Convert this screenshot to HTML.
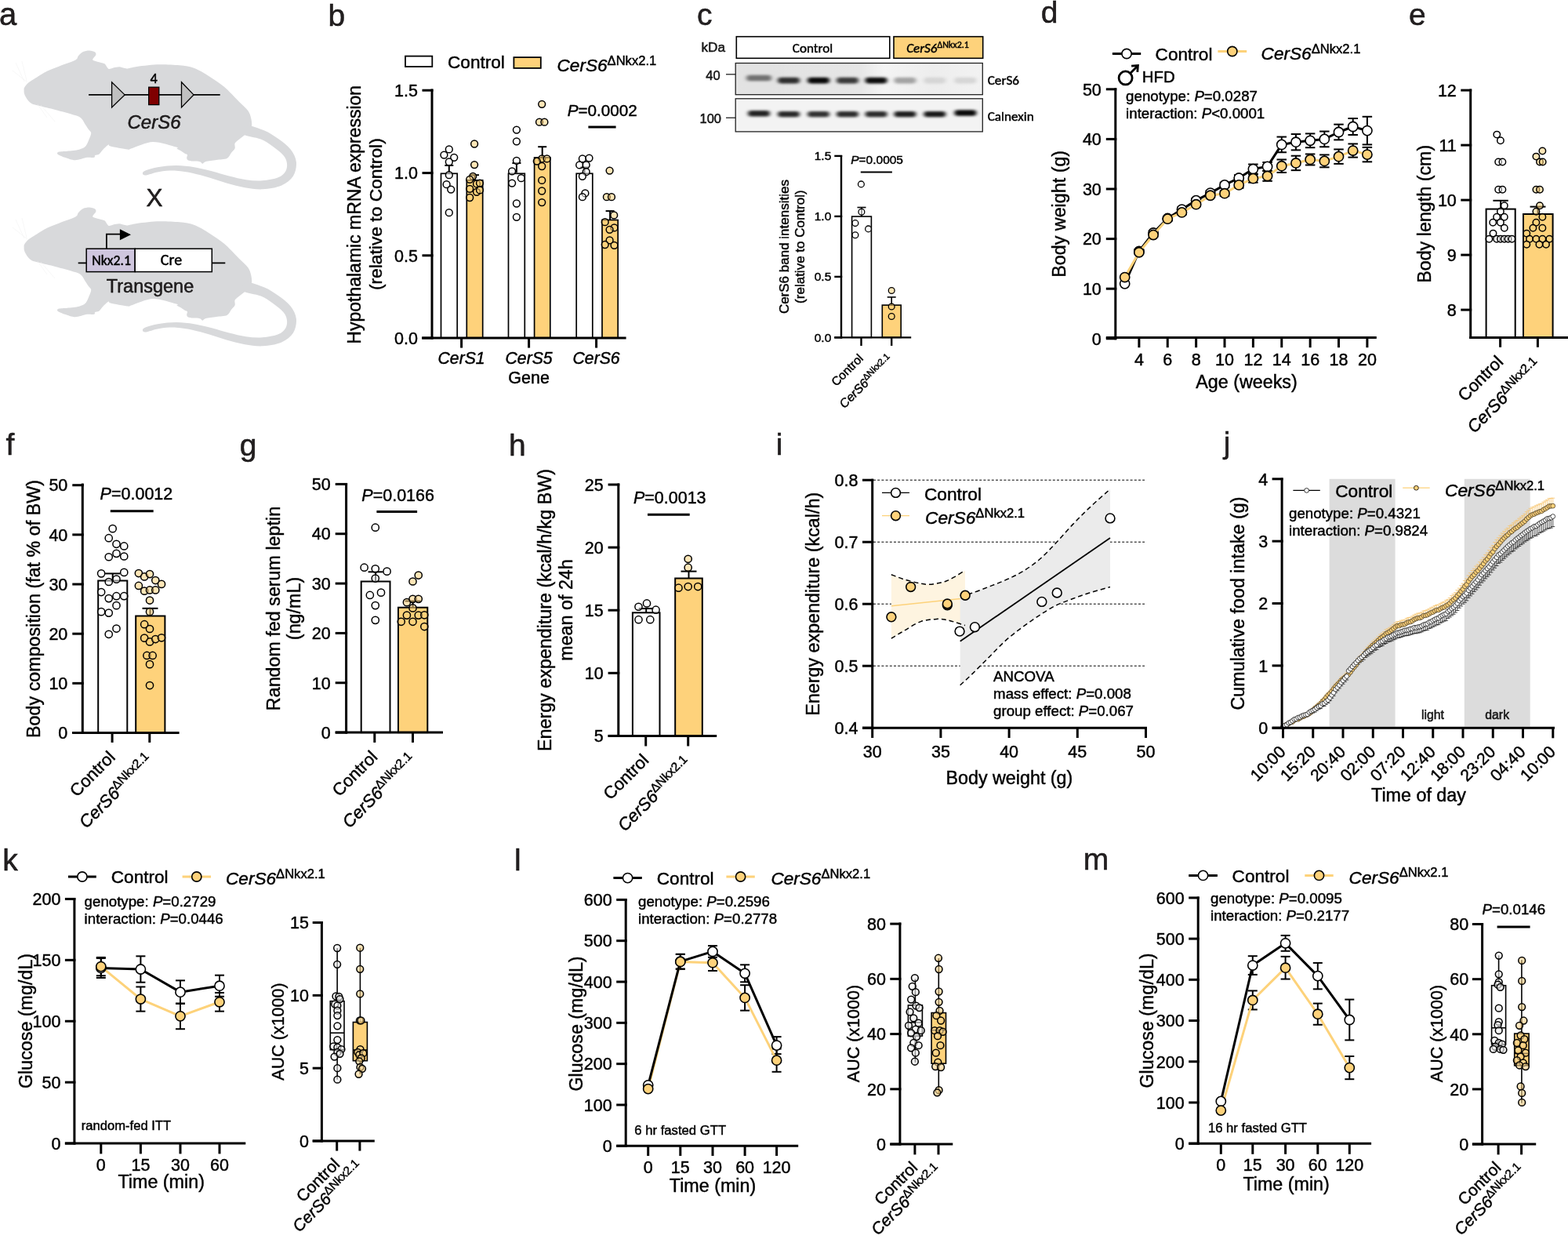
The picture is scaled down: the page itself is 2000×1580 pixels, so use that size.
<!DOCTYPE html>
<html><head><meta charset="utf-8"><title>Figure</title>
<style>
html,body{margin:0;padding:0;background:#fff;}
body{width:2000px;height:1580px;overflow:hidden;}
svg{display:block;font-family:'Liberation Sans', Arial, Helvetica, sans-serif;}
text{stroke:#000;stroke-width:0.45px;}
</style></head>
<body>
<svg width="2000" height="1580" viewBox="0 0 2000 1580">
<rect x="0" y="0" width="2000" height="1580" fill="#fff"/>
<text x="-1" y="32.4" font-size="40" text-anchor="start" fill="#231F20">a</text>
<path d="M30.6,114.7 C30.6,113.48 30.26,113.06 31.1,111.7 C31.94,110.34 34.07,107.43 36.2,105.6 C38.33,103.77 41.66,101.78 45.3,99.5 C48.94,97.22 55.94,92.67 60.5,90.4 C65.06,88.14 70.39,86.44 75.7,84.4 C81.01,82.36 92.26,78.78 95.9,76.8 C99.55,74.82 98.48,72.81 100,71.2 C101.52,69.59 103.89,67.09 106,66.1 C108.11,65.11 111.82,64.52 114.1,64.6 C116.38,64.67 119.98,65.76 121.2,66.6 C122.42,67.44 122.65,68.75 122.2,70.2 C121.75,71.66 117.59,74.94 118.2,76.3 C118.81,77.66 124.02,78.55 126.3,79.3 C128.58,80.05 131.88,80.38 133.4,81.3 C134.92,82.22 135.56,84.41 136.4,85.4 C137.24,86.39 137.78,87.75 139,87.9 C140.22,88.05 142.46,86.81 144.5,86.4 C146.54,86 150.02,85.05 152.6,85.2 C155.18,85.35 158.8,87.37 161.7,87.4 C164.59,87.43 166.16,86.17 171.9,85.4 C177.65,84.64 191.44,82.61 200,82.3 C208.56,81.98 221.8,82.59 229,83.3 C236.2,84 242.3,84.87 248,87 C253.7,89.13 261.3,93.93 267,97.5 C272.7,101.07 280.3,105.95 286,110.8 C291.7,115.64 300.44,125.24 305,129.8 C309.56,134.36 314.12,138.06 316.4,141.2 C318.68,144.33 319.51,147.73 320.2,150.7 C320.89,153.67 321.56,158.41 321,161 C320.44,163.59 317.99,166.2 316.5,168 C315.01,169.8 312.98,171.43 311.1,173 C309.23,174.57 305.74,177 304,178.5 C302.26,180 300.16,181.4 299.5,183 C298.84,184.6 300.29,187.4 299.6,189.2 C298.91,191 296.41,193.08 294.9,195 C293.38,196.92 292.33,200.65 289.5,202 C286.67,203.35 280.05,203.4 276,204 C271.95,204.6 265.12,205.3 262.5,206 C259.88,206.7 259.62,208.67 258.5,208.7 C257.38,208.73 256.83,206.66 255,206.2 C253.17,205.73 248.61,205.9 246.3,205.6 C243.99,205.3 240.81,204.84 239.6,204.2 C238.38,203.55 238.29,202.31 238.2,201.3 C238.11,200.3 239.25,198.25 239,197.5 C238.75,196.75 237.7,197.04 236.5,196.3 C235.3,195.56 232.63,193.63 231,192.6 C229.37,191.56 226.54,190.16 225.6,189.4 C224.66,188.64 229.29,188.76 224.7,187.5 C220.11,186.24 203.5,180.75 195,181 C186.5,181.25 172.86,187.77 168,189.2 C163.14,190.62 166.65,190.91 162.6,190.5 C158.55,190.09 144.65,187.41 141,186.5 C137.35,185.59 139.74,183.77 138.3,184.4 C136.86,185.03 133.2,188.85 131.4,190.7 C129.6,192.54 127.83,195.6 126.3,196.7 C124.77,197.79 122.12,197.38 121.2,198 C120.28,198.62 121.72,200.38 120.2,200.8 C118.69,201.22 114.74,200.28 111.1,200.8 C107.45,201.33 100.15,204.3 95.9,204.3 C91.66,204.3 86.13,201.94 82.8,200.8 C79.47,199.66 74.92,197.76 73.7,196.7 C72.48,195.63 72.89,194.3 74.7,193.7 C76.52,193.1 81.86,193.15 85.8,192.7 C89.74,192.25 97.5,191.61 101,190.7 C104.5,189.78 107.13,188.73 109.1,186.6 C111.06,184.47 113.03,179.08 114.1,176.5 C115.16,173.92 116.35,171.08 116.2,169.4 C116.05,167.72 114.16,166.81 113.1,165.3 C112.03,163.79 110.46,161.42 109.1,159.3 C107.73,157.19 105.98,153.03 104,151.2 C102.02,149.37 100.91,148.78 95.9,147.1 C90.89,145.42 77.42,141.81 70.6,140 C63.77,138.19 54.96,136.2 50.4,135 C45.84,133.8 42.63,133.37 40.2,132 C37.77,130.63 35.57,127.73 34.2,125.9 C32.84,124.07 31.64,121.48 31.1,119.8 C30.56,118.12 30.6,115.92 30.6,114.7Z" fill="#D8D9DB"/>
<path d="M310.37,171.27 C313.55,174.24 326.43,174.96 332.7,177.54 C338.97,180.13 343.27,183.41 348.01,186.78 C352.75,190.15 358.14,194.24 361.13,197.77 C364.12,201.29 365.43,204.46 365.94,207.91 C366.46,211.37 366.05,215.42 364.2,218.49 C362.36,221.55 359.8,224.36 354.87,226.33 C349.95,228.3 341.51,229.82 334.65,230.31 C327.8,230.8 320.82,230.21 313.74,229.26 C306.67,228.3 299.47,226.42 292.21,224.61 C284.95,222.79 277.58,220.24 270.17,218.36 C262.75,216.48 255.22,214.52 247.71,213.32 C240.19,212.11 232.61,211.15 225.08,211.1 C217.55,211.05 209.43,211.81 202.52,213.04 C195.61,214.27 186.55,216.74 183.63,218.49 C180.7,220.23 181.66,223.43 184.97,223.51 C188.28,223.59 196.82,219.93 203.48,218.96 C210.14,217.99 217.78,217.38 224.92,217.7 C232.05,218.02 239.14,219.36 246.29,220.88 C253.45,222.41 260.58,224.69 267.83,226.84 C275.08,228.99 282.38,231.74 289.79,233.79 C297.19,235.84 304.66,237.9 312.26,239.14 C319.85,240.39 327.54,241.73 335.35,241.29 C343.16,240.84 352.69,239.27 359.13,236.47 C365.57,233.68 370.87,229.51 374,224.51 C377.12,219.52 378.44,212.2 377.86,206.49 C377.27,200.77 374.28,195.15 370.47,190.23 C366.66,185.32 360.52,180.98 354.99,177.02 C349.46,173.06 344.19,169.34 337.3,166.46 C330.41,163.58 318.12,158.92 313.63,159.73 C309.14,160.53 307.19,168.3 310.37,171.27Z" fill="#D8D9DB"/>
<line x1="31" y1="104" x2="20" y2="80" stroke="#EEEEEE" stroke-width="0.5"/>
<line x1="34" y1="103" x2="28" y2="78" stroke="#EEEEEE" stroke-width="0.5"/>
<line x1="35" y1="105" x2="16" y2="90" stroke="#EEEEEE" stroke-width="0.5"/>
<line x1="48" y1="133" x2="60" y2="150" stroke="#EEEEEE" stroke-width="0.5"/>
<line x1="52" y1="134" x2="70" y2="155" stroke="#EEEEEE" stroke-width="0.5"/>
<path d="M30.6,314.7 C30.6,313.49 30.26,313.06 31.1,311.7 C31.94,310.33 34.07,307.43 36.2,305.6 C38.33,303.77 41.66,301.78 45.3,299.5 C48.94,297.22 55.94,292.66 60.5,290.4 C65.06,288.13 70.39,286.44 75.7,284.4 C81.01,282.36 92.26,278.78 95.9,276.8 C99.55,274.82 98.48,272.81 100,271.2 C101.52,269.59 103.89,267.09 106,266.1 C108.11,265.11 111.82,264.53 114.1,264.6 C116.38,264.68 119.98,265.76 121.2,266.6 C122.42,267.44 122.65,268.75 122.2,270.2 C121.75,271.65 117.59,274.94 118.2,276.3 C118.81,277.67 124.02,278.55 126.3,279.3 C128.58,280.05 131.88,280.38 133.4,281.3 C134.92,282.22 135.56,284.41 136.4,285.4 C137.24,286.39 137.78,287.75 139,287.9 C140.22,288.05 142.46,286.8 144.5,286.4 C146.54,286 150.02,285.05 152.6,285.2 C155.18,285.35 158.8,287.37 161.7,287.4 C164.59,287.43 166.16,286.16 171.9,285.4 C177.65,284.63 191.44,282.62 200,282.3 C208.56,281.99 221.8,282.6 229,283.3 C236.2,284 242.3,284.87 248,287 C253.7,289.13 261.3,293.93 267,297.5 C272.7,301.07 280.3,305.95 286,310.8 C291.7,315.65 300.44,325.24 305,329.8 C309.56,334.36 314.12,338.06 316.4,341.2 C318.68,344.33 319.51,347.73 320.2,350.7 C320.89,353.67 321.56,358.4 321,361 C320.44,363.6 317.99,366.2 316.5,368 C315.01,369.8 312.98,371.43 311.1,373 C309.23,374.57 305.74,377 304,378.5 C302.26,380 300.16,381.39 299.5,383 C298.84,384.61 300.29,387.4 299.6,389.2 C298.91,391 296.41,393.08 294.9,395 C293.38,396.92 292.33,400.65 289.5,402 C286.67,403.35 280.05,403.4 276,404 C271.95,404.6 265.12,405.3 262.5,406 C259.88,406.7 259.62,408.67 258.5,408.7 C257.38,408.73 256.83,406.66 255,406.2 C253.17,405.74 248.61,405.9 246.3,405.6 C243.99,405.3 240.81,404.84 239.6,404.2 C238.38,403.56 238.29,402.31 238.2,401.3 C238.11,400.3 239.25,398.25 239,397.5 C238.75,396.75 237.7,397.04 236.5,396.3 C235.3,395.56 232.63,393.64 231,392.6 C229.37,391.56 226.54,390.16 225.6,389.4 C224.66,388.63 229.29,388.76 224.7,387.5 C220.11,386.24 203.5,380.75 195,381 C186.5,381.25 172.86,387.77 168,389.2 C163.14,390.62 166.65,390.9 162.6,390.5 C158.55,390.1 144.65,387.42 141,386.5 C137.35,385.58 139.74,383.77 138.3,384.4 C136.86,385.03 133.2,388.85 131.4,390.7 C129.6,392.55 127.83,395.6 126.3,396.7 C124.77,397.8 122.12,397.38 121.2,398 C120.28,398.62 121.72,400.38 120.2,400.8 C118.69,401.22 114.74,400.28 111.1,400.8 C107.45,401.32 100.15,404.3 95.9,404.3 C91.66,404.3 86.13,401.94 82.8,400.8 C79.47,399.66 74.92,397.76 73.7,396.7 C72.48,395.63 72.89,394.3 74.7,393.7 C76.52,393.1 81.86,393.15 85.8,392.7 C89.74,392.25 97.5,391.62 101,390.7 C104.5,389.78 107.13,388.73 109.1,386.6 C111.06,384.47 113.03,379.08 114.1,376.5 C115.16,373.92 116.35,371.08 116.2,369.4 C116.05,367.72 114.16,366.81 113.1,365.3 C112.03,363.79 110.46,361.42 109.1,359.3 C107.73,357.19 105.98,353.03 104,351.2 C102.02,349.37 100.91,348.78 95.9,347.1 C90.89,345.42 77.42,341.81 70.6,340 C63.77,338.19 54.96,336.2 50.4,335 C45.84,333.8 42.63,333.37 40.2,332 C37.77,330.63 35.57,327.73 34.2,325.9 C32.84,324.07 31.64,321.48 31.1,319.8 C30.56,318.12 30.6,315.91 30.6,314.7Z" fill="#D8D9DB"/>
<path d="M310.37,371.27 C313.55,374.24 326.43,374.96 332.7,377.54 C338.97,380.13 343.27,383.41 348.01,386.78 C352.75,390.15 358.14,394.24 361.13,397.77 C364.12,401.29 365.43,404.46 365.94,407.91 C366.46,411.37 366.05,415.42 364.2,418.49 C362.36,421.55 359.8,424.36 354.87,426.33 C349.95,428.3 341.51,429.82 334.65,430.31 C327.8,430.8 320.82,430.21 313.74,429.26 C306.67,428.3 299.47,426.42 292.21,424.61 C284.95,422.79 277.58,420.24 270.17,418.36 C262.75,416.48 255.22,414.52 247.71,413.32 C240.19,412.11 232.61,411.15 225.08,411.1 C217.55,411.05 209.43,411.81 202.52,413.04 C195.61,414.27 186.55,416.74 183.63,418.49 C180.7,420.23 181.66,423.43 184.97,423.51 C188.28,423.59 196.82,419.93 203.48,418.96 C210.14,417.99 217.78,417.38 224.92,417.7 C232.05,418.02 239.14,419.36 246.29,420.88 C253.45,422.41 260.58,424.69 267.83,426.84 C275.08,428.99 282.38,431.74 289.79,433.79 C297.19,435.84 304.66,437.9 312.26,439.14 C319.85,440.39 327.54,441.73 335.35,441.29 C343.16,440.84 352.69,439.27 359.13,436.47 C365.57,433.68 370.87,429.51 374,424.51 C377.12,419.52 378.44,412.2 377.86,406.49 C377.27,400.77 374.28,395.15 370.47,390.23 C366.66,385.32 360.52,380.98 354.99,377.02 C349.46,373.06 344.19,369.34 337.3,366.46 C330.41,363.58 318.12,358.92 313.63,359.73 C309.14,360.53 307.19,368.3 310.37,371.27Z" fill="#D8D9DB"/>
<line x1="31" y1="304" x2="20" y2="280" stroke="#EEEEEE" stroke-width="0.5"/>
<line x1="34" y1="303" x2="28" y2="278" stroke="#EEEEEE" stroke-width="0.5"/>
<line x1="35" y1="305" x2="16" y2="290" stroke="#EEEEEE" stroke-width="0.5"/>
<line x1="48" y1="333" x2="60" y2="350" stroke="#EEEEEE" stroke-width="0.5"/>
<line x1="52" y1="334" x2="70" y2="355" stroke="#EEEEEE" stroke-width="0.5"/>
<line x1="113.1" y1="120.9" x2="280.7" y2="120.9" stroke="#000" stroke-width="1.6"/>
<polygon points="142.6,104.7 142.6,137 159.1,120.9" fill="#C0C0C0" stroke="#000" stroke-width="1.3"/>
<polygon points="231.5,104.7 231.5,137 247,120.9" fill="#C0C0C0" stroke="#000" stroke-width="1.3"/>
<rect x="189.7" y="111.2" width="13.1" height="22.4" fill="#7F0000" stroke="#000" stroke-width="1.3"/>
<text x="196.2" y="106.2" font-size="18.5" text-anchor="middle" fill="#000" font-family="Carlito, 'Liberation Sans', sans-serif">4</text>
<text x="196.5" y="164" font-size="24" text-anchor="middle" fill="#231F20" font-style="italic">CerS6</text>
<text x="197" y="262.6" font-size="31.5" text-anchor="middle" fill="#231F20">X</text>
<line x1="99.7" y1="335.4" x2="110.2" y2="335.4" stroke="#000" stroke-width="1.8"/>
<line x1="270.3" y1="335.4" x2="287.3" y2="335.4" stroke="#000" stroke-width="1.8"/>
<rect x="110.2" y="317.2" width="62" height="29.4" fill="#CFC6DE" stroke="#000" stroke-width="1.5"/>
<rect x="172.2" y="317.2" width="98.1" height="29.4" fill="#FFFFFF" stroke="#000" stroke-width="1.5"/>
<polyline points="135.9,317.2 135.9,298.7 154,298.7" fill="none" stroke="#000" stroke-width="1.8"/>
<polygon points="152.9,292.2 167,299.2 152.9,306.2" fill="#000"/>
<text x="142.2" y="338.3" font-size="17.8" text-anchor="middle" fill="#000" font-family="Carlito, 'Liberation Sans', sans-serif">Nkx2.1</text>
<text x="218.5" y="338.3" font-size="20" text-anchor="middle" fill="#000" font-family="Carlito, 'Liberation Sans', sans-serif">Cre</text>
<text x="191.5" y="373.2" font-size="23.5" text-anchor="middle" fill="#231F20">Transgene</text>
<text x="418.5" y="32.6" font-size="39" text-anchor="start" fill="#231F20">b</text>
<rect x="517" y="71.6" width="34.3" height="13.4" fill="#fff" stroke="#000" stroke-width="1.8"/>
<text x="571" y="86.6" font-size="22.6" text-anchor="start" fill="#000">Control</text>
<rect x="655.4" y="73.1" width="34.4" height="13.8" fill="#FED27B" stroke="#000" stroke-width="1.8"/>
<text x="710.5" y="90.5" font-size="22.6"><tspan font-style="italic">CerS6</tspan><tspan font-size="16.6" dy="-8">&#916;Nkx2.1</tspan></text>
<rect x="562.5" y="221.3" width="20.7" height="209.7" fill="#fff" stroke="#000" stroke-width="1.7"/>
<rect x="595.3" y="229.8" width="20.4" height="201.2" fill="#FED27B" stroke="#000" stroke-width="1.7"/>
<rect x="648.5" y="221.3" width="20.8" height="209.7" fill="#fff" stroke="#000" stroke-width="1.7"/>
<rect x="681.6" y="201" width="20.2" height="230" fill="#FED27B" stroke="#000" stroke-width="1.7"/>
<rect x="735.2" y="221.3" width="20.6" height="209.7" fill="#fff" stroke="#000" stroke-width="1.7"/>
<rect x="768" y="280.5" width="20.2" height="150.5" fill="#FED27B" stroke="#000" stroke-width="1.7"/>
<line x1="572.8" y1="220.33" x2="572.8" y2="210.9" stroke="#000" stroke-width="2"/>
<line x1="567.3" y1="210.9" x2="578.3" y2="210.9" stroke="#000" stroke-width="2"/>
<line x1="605.5" y1="229.6" x2="605.5" y2="223.2" stroke="#000" stroke-width="2"/>
<line x1="600" y1="223.2" x2="611" y2="223.2" stroke="#000" stroke-width="2"/>
<line x1="658.9" y1="220.33" x2="658.9" y2="208" stroke="#000" stroke-width="2"/>
<line x1="653.4" y1="208" x2="664.4" y2="208" stroke="#000" stroke-width="2"/>
<line x1="691.7" y1="200.8" x2="691.7" y2="187.2" stroke="#000" stroke-width="2"/>
<line x1="686.2" y1="187.2" x2="697.2" y2="187.2" stroke="#000" stroke-width="2"/>
<line x1="745.5" y1="220.33" x2="745.5" y2="213.5" stroke="#000" stroke-width="2"/>
<line x1="740" y1="213.5" x2="751" y2="213.5" stroke="#000" stroke-width="2"/>
<line x1="778.1" y1="280" x2="778.1" y2="269.1" stroke="#000" stroke-width="2"/>
<line x1="772.6" y1="269.1" x2="783.6" y2="269.1" stroke="#000" stroke-width="2"/>
<circle cx="572.8" cy="190.4" r="4.4" fill="#fff" stroke="#000" stroke-width="1.5" fill-opacity="0.5"/>
<circle cx="566.4" cy="197.6" r="4.4" fill="#fff" stroke="#000" stroke-width="1.5" fill-opacity="0.5"/>
<circle cx="579.2" cy="200.8" r="4.4" fill="#fff" stroke="#000" stroke-width="1.5" fill-opacity="0.5"/>
<circle cx="572.8" cy="206.4" r="4.4" fill="#fff" stroke="#000" stroke-width="1.5" fill-opacity="0.5"/>
<circle cx="572.8" cy="223.2" r="4.4" fill="#fff" stroke="#000" stroke-width="1.5" fill-opacity="0.5"/>
<circle cx="569.6" cy="235.2" r="4.4" fill="#fff" stroke="#000" stroke-width="1.5" fill-opacity="0.5"/>
<circle cx="575.2" cy="241.6" r="4.4" fill="#fff" stroke="#000" stroke-width="1.5" fill-opacity="0.5"/>
<circle cx="572.8" cy="271.2" r="4.4" fill="#fff" stroke="#000" stroke-width="1.5" fill-opacity="0.5"/>
<circle cx="605.1" cy="183.5" r="4.4" fill="#FED27B" stroke="#000" stroke-width="1.5" fill-opacity="0.55"/>
<circle cx="605.1" cy="210.1" r="4.4" fill="#FED27B" stroke="#000" stroke-width="1.5" fill-opacity="0.55"/>
<circle cx="603.2" cy="224.8" r="4.4" fill="#FED27B" stroke="#000" stroke-width="1.5" fill-opacity="0.55"/>
<circle cx="599.2" cy="228.8" r="4.4" fill="#FED27B" stroke="#000" stroke-width="1.5" fill-opacity="0.55"/>
<circle cx="608" cy="234.4" r="4.4" fill="#FED27B" stroke="#000" stroke-width="1.5" fill-opacity="0.55"/>
<circle cx="612" cy="233.6" r="4.4" fill="#FED27B" stroke="#000" stroke-width="1.5" fill-opacity="0.55"/>
<circle cx="599.2" cy="240.8" r="4.4" fill="#FED27B" stroke="#000" stroke-width="1.5" fill-opacity="0.55"/>
<circle cx="608" cy="244.8" r="4.4" fill="#FED27B" stroke="#000" stroke-width="1.5" fill-opacity="0.55"/>
<circle cx="612" cy="242.4" r="4.4" fill="#FED27B" stroke="#000" stroke-width="1.5" fill-opacity="0.55"/>
<circle cx="599.2" cy="252" r="4.4" fill="#FED27B" stroke="#000" stroke-width="1.5" fill-opacity="0.55"/>
<circle cx="658.9" cy="165.6" r="4.4" fill="#fff" stroke="#000" stroke-width="1.5" fill-opacity="0.5"/>
<circle cx="658.9" cy="180.3" r="4.4" fill="#fff" stroke="#000" stroke-width="1.5" fill-opacity="0.5"/>
<circle cx="658.9" cy="204.8" r="4.4" fill="#fff" stroke="#000" stroke-width="1.5" fill-opacity="0.5"/>
<circle cx="653.1" cy="218.4" r="4.4" fill="#fff" stroke="#000" stroke-width="1.5" fill-opacity="0.5"/>
<circle cx="664.8" cy="227.2" r="4.4" fill="#fff" stroke="#000" stroke-width="1.5" fill-opacity="0.5"/>
<circle cx="653.1" cy="233.6" r="4.4" fill="#fff" stroke="#000" stroke-width="1.5" fill-opacity="0.5"/>
<circle cx="658.9" cy="259.5" r="4.4" fill="#fff" stroke="#000" stroke-width="1.5" fill-opacity="0.5"/>
<circle cx="658.9" cy="276.8" r="4.4" fill="#fff" stroke="#000" stroke-width="1.5" fill-opacity="0.5"/>
<circle cx="691.2" cy="132.8" r="4.4" fill="#FED27B" stroke="#000" stroke-width="1.5" fill-opacity="0.55"/>
<circle cx="688" cy="155.7" r="4.4" fill="#FED27B" stroke="#000" stroke-width="1.5" fill-opacity="0.55"/>
<circle cx="694.4" cy="155.7" r="4.4" fill="#FED27B" stroke="#000" stroke-width="1.5" fill-opacity="0.55"/>
<circle cx="691.2" cy="202.4" r="4.4" fill="#FED27B" stroke="#000" stroke-width="1.5" fill-opacity="0.55"/>
<circle cx="684.8" cy="205.6" r="4.4" fill="#FED27B" stroke="#000" stroke-width="1.5" fill-opacity="0.55"/>
<circle cx="697.6" cy="202.4" r="4.4" fill="#FED27B" stroke="#000" stroke-width="1.5" fill-opacity="0.55"/>
<circle cx="691.2" cy="212" r="4.4" fill="#FED27B" stroke="#000" stroke-width="1.5" fill-opacity="0.55"/>
<circle cx="691.2" cy="229.9" r="4.4" fill="#FED27B" stroke="#000" stroke-width="1.5" fill-opacity="0.55"/>
<circle cx="691.2" cy="243.5" r="4.4" fill="#FED27B" stroke="#000" stroke-width="1.5" fill-opacity="0.55"/>
<circle cx="691.2" cy="258.1" r="4.4" fill="#FED27B" stroke="#000" stroke-width="1.5" fill-opacity="0.55"/>
<circle cx="742.9" cy="202.4" r="4.4" fill="#fff" stroke="#000" stroke-width="1.5" fill-opacity="0.5"/>
<circle cx="751.5" cy="201.6" r="4.4" fill="#fff" stroke="#000" stroke-width="1.5" fill-opacity="0.5"/>
<circle cx="739.2" cy="210.4" r="4.4" fill="#fff" stroke="#000" stroke-width="1.5" fill-opacity="0.5"/>
<circle cx="747.7" cy="210.4" r="4.4" fill="#fff" stroke="#000" stroke-width="1.5" fill-opacity="0.5"/>
<circle cx="747.7" cy="219.2" r="4.4" fill="#fff" stroke="#000" stroke-width="1.5" fill-opacity="0.5"/>
<circle cx="742.9" cy="224.8" r="4.4" fill="#fff" stroke="#000" stroke-width="1.5" fill-opacity="0.5"/>
<circle cx="746.4" cy="246.4" r="4.4" fill="#fff" stroke="#000" stroke-width="1.5" fill-opacity="0.5"/>
<circle cx="742.9" cy="251.2" r="4.4" fill="#fff" stroke="#000" stroke-width="1.5" fill-opacity="0.5"/>
<circle cx="777.6" cy="217.6" r="4.4" fill="#FED27B" stroke="#000" stroke-width="1.5" fill-opacity="0.55"/>
<circle cx="773.9" cy="251.2" r="4.4" fill="#FED27B" stroke="#000" stroke-width="1.5" fill-opacity="0.55"/>
<circle cx="780" cy="251.2" r="4.4" fill="#FED27B" stroke="#000" stroke-width="1.5" fill-opacity="0.55"/>
<circle cx="783.2" cy="274.4" r="4.4" fill="#FED27B" stroke="#000" stroke-width="1.5" fill-opacity="0.55"/>
<circle cx="771.7" cy="283.2" r="4.4" fill="#FED27B" stroke="#000" stroke-width="1.5" fill-opacity="0.55"/>
<circle cx="783.5" cy="290.4" r="4.4" fill="#FED27B" stroke="#000" stroke-width="1.5" fill-opacity="0.55"/>
<circle cx="777.6" cy="292.8" r="4.4" fill="#FED27B" stroke="#000" stroke-width="1.5" fill-opacity="0.55"/>
<circle cx="777.6" cy="306.4" r="4.4" fill="#FED27B" stroke="#000" stroke-width="1.5" fill-opacity="0.55"/>
<circle cx="771.7" cy="312" r="4.4" fill="#FED27B" stroke="#000" stroke-width="1.5" fill-opacity="0.55"/>
<circle cx="783.5" cy="312.8" r="4.4" fill="#FED27B" stroke="#000" stroke-width="1.5" fill-opacity="0.55"/>
<line x1="551" y1="432.5" x2="551" y2="113.5" stroke="#000" stroke-width="3"/>
<line x1="538.5" y1="115.2" x2="552.5" y2="115.2" stroke="#000" stroke-width="3"/>
<text x="533" y="122.94" font-size="21.5" text-anchor="end" fill="#000">1.5</text>
<line x1="538.5" y1="220.6" x2="552.5" y2="220.6" stroke="#000" stroke-width="3"/>
<text x="533" y="228.34" font-size="21.5" text-anchor="end" fill="#000">1.0</text>
<line x1="538.5" y1="325.8" x2="552.5" y2="325.8" stroke="#000" stroke-width="3"/>
<text x="533" y="333.54" font-size="21.5" text-anchor="end" fill="#000">0.5</text>
<line x1="538.5" y1="431" x2="552.5" y2="431" stroke="#000" stroke-width="3"/>
<text x="533" y="438.74" font-size="21.5" text-anchor="end" fill="#000">0.0</text>
<line x1="538" y1="431" x2="798.6" y2="431" stroke="#000" stroke-width="3"/>
<line x1="588.6" y1="431" x2="588.6" y2="443.6" stroke="#000" stroke-width="3"/>
<line x1="674.6" y1="431" x2="674.6" y2="443.6" stroke="#000" stroke-width="3"/>
<line x1="760.6" y1="431" x2="760.6" y2="443.6" stroke="#000" stroke-width="3"/>
<text x="588.6" y="464.4" font-size="21.2" text-anchor="middle" fill="#000" font-style="italic">CerS1</text>
<text x="674.6" y="464.4" font-size="21.2" text-anchor="middle" fill="#000" font-style="italic">CerS5</text>
<text x="760.6" y="464.4" font-size="21.2" text-anchor="middle" fill="#000" font-style="italic">CerS6</text>
<text x="674.6" y="489" font-size="21.5" text-anchor="middle" fill="#000">Gene</text>
<text transform="translate(459.9,273.8) rotate(-90)" font-size="23" text-anchor="middle" fill="#000">Hypothalamic mRNA expression</text>
<text transform="translate(486.5,273.2) rotate(-90)" font-size="22.8" text-anchor="middle" fill="#000">(relative to Control)</text>
<text x="723.7" y="147.5" font-size="20.7" text-anchor="start" fill="#000"><tspan font-style="italic">P</tspan>=0.0002</text>
<line x1="750.4" y1="161.9" x2="785.6" y2="161.9" stroke="#000" stroke-width="3"/>
<text x="889" y="32.2" font-size="39" text-anchor="start" fill="#231F20">c</text>
<text x="894.5" y="66" font-size="17.2" text-anchor="start" fill="#222">kDa</text>
<rect x="939.3" y="46.7" width="195.5" height="27.6" fill="#fff" stroke="#000" stroke-width="1.6"/>
<rect x="1140" y="46.7" width="113.7" height="27.6" fill="#FED27B" stroke="#000" stroke-width="1.6"/>
<text x="1036.5" y="66.7" font-size="17.1" text-anchor="middle" fill="#000" font-family="Carlito, 'Liberation Sans', sans-serif">Control</text>
<text x="1196" y="66.7" font-size="17.1" text-anchor="middle" font-family="Carlito, 'Liberation Sans', sans-serif"><tspan font-style="italic">CerS6</tspan><tspan font-size="12" dy="-5.5">&#916;Nkx2.1</tspan></text>
<defs><filter id="bl1" x="-50%" y="-200%" width="200%" height="500%"><feGaussianBlur stdDeviation="2.6 1.5"/></filter><filter id="bl2" x="-50%" y="-50%" width="200%" height="200%"><feGaussianBlur stdDeviation="6"/></filter><linearGradient id="bg1" x1="0" y1="0" x2="1" y2="0"><stop offset="0" stop-color="#E2E2E2"/><stop offset="0.5" stop-color="#E6E6E6"/><stop offset="0.6" stop-color="#F4F4F4"/><stop offset="0.8" stop-color="#EDEDED"/><stop offset="1" stop-color="#F2F2F2"/></linearGradient><clipPath id="cb1"><rect x="938.2" y="80.5" width="315.1" height="40.2"/></clipPath><clipPath id="cb2"><rect x="938.2" y="125.8" width="315.1" height="42.1"/></clipPath></defs>
<rect x="938.2" y="80.5" width="315.1" height="40.2" fill="url(#bg1)" stroke="none" stroke-width="0"/>
<rect x="938.2" y="125.8" width="315.1" height="42.1" fill="#F3F3F3" stroke="none" stroke-width="0"/>
<g clip-path="url(#cb1)">
<rect x="938" y="78" width="60" height="45" fill="#E2E2E2" filter="url(#bl2)"/>
<rect x="952" y="95.7" width="32" height="7.6" rx="3.8" fill="#000" fill-opacity="0.5" filter="url(#bl1)"/>
<rect x="992" y="98.8" width="28" height="7.6" rx="3.8" fill="#000" fill-opacity="0.8" filter="url(#bl1)"/>
<rect x="1030" y="98.8" width="28" height="7.6" rx="3.8" fill="#000" fill-opacity="0.97" filter="url(#bl1)"/>
<rect x="1067" y="98.8" width="28" height="7.6" rx="3.8" fill="#000" fill-opacity="0.75" filter="url(#bl1)"/>
<rect x="1103.6" y="98.8" width="28" height="7.6" rx="3.8" fill="#000" fill-opacity="0.95" filter="url(#bl1)"/>
<rect x="1140.4" y="98.8" width="28" height="7.6" rx="3.8" fill="#000" fill-opacity="0.32" filter="url(#bl1)"/>
<rect x="1178.3" y="98.8" width="28" height="7.6" rx="3.8" fill="#000" fill-opacity="0.1" filter="url(#bl1)"/>
<rect x="1217.4" y="98.8" width="28" height="7.6" rx="3.8" fill="#000" fill-opacity="0.11" filter="url(#bl1)"/>
</g><g clip-path="url(#cb2)">
<rect x="954" y="141.1" width="28" height="7.4" rx="3.7" fill="#000" fill-opacity="0.86" filter="url(#bl1)"/>
<rect x="992" y="141.9" width="28" height="7.4" rx="3.7" fill="#000" fill-opacity="0.84" filter="url(#bl1)"/>
<rect x="1030" y="141.9" width="28" height="7.4" rx="3.7" fill="#000" fill-opacity="0.8" filter="url(#bl1)"/>
<rect x="1067" y="141.9" width="28" height="7.4" rx="3.7" fill="#000" fill-opacity="0.82" filter="url(#bl1)"/>
<rect x="1103.6" y="141.9" width="28" height="7.4" rx="3.7" fill="#000" fill-opacity="0.82" filter="url(#bl1)"/>
<rect x="1140.4" y="141.9" width="28" height="7.4" rx="3.7" fill="#000" fill-opacity="0.88" filter="url(#bl1)"/>
<rect x="1178.3" y="141.9" width="28" height="7.4" rx="3.7" fill="#000" fill-opacity="0.9" filter="url(#bl1)"/>
<rect x="1217.4" y="140.3" width="28" height="7.4" rx="3.7" fill="#000" fill-opacity="0.97" filter="url(#bl1)"/>
</g>
<rect x="938.2" y="80.5" width="315.1" height="40.2" fill="none" stroke="#222" stroke-width="1.3"/>
<rect x="938.2" y="125.8" width="315.1" height="42.1" fill="none" stroke="#222" stroke-width="1.3"/>
<text x="918.6" y="102.3" font-size="16.5" text-anchor="end" fill="#222">40</text>
<text x="920" y="156.9" font-size="16.5" text-anchor="end" fill="#222">100</text>
<line x1="926" y1="94.8" x2="938.2" y2="94.8" stroke="#222" stroke-width="1.3"/>
<line x1="926" y1="150.2" x2="938.2" y2="150.2" stroke="#222" stroke-width="1.3"/>
<text x="1259.7" y="108" font-size="17.2" text-anchor="start" fill="#000" font-family="Carlito, 'Liberation Sans', sans-serif">CerS6</text>
<text x="1259.7" y="154" font-size="17.2" text-anchor="start" fill="#000" font-family="Carlito, 'Liberation Sans', sans-serif">Calnexin</text>
<rect x="1086.6" y="276.07" width="24.8" height="154.33" fill="#fff" stroke="#000" stroke-width="1.6"/>
<rect x="1125.3" y="389.1" width="23.9" height="41.3" fill="#FED27B" stroke="#000" stroke-width="1.6"/>
<line x1="1099" y1="276.07" x2="1099" y2="264.5" stroke="#000" stroke-width="1.6"/>
<line x1="1093.5" y1="264.5" x2="1104.5" y2="264.5" stroke="#000" stroke-width="1.6"/>
<line x1="1137.2" y1="389.1" x2="1137.2" y2="378.9" stroke="#000" stroke-width="1.6"/>
<line x1="1131.7" y1="378.9" x2="1142.7" y2="378.9" stroke="#000" stroke-width="1.6"/>
<circle cx="1098.4" cy="234.9" r="3.9" fill="#fff" stroke="#000" stroke-width="1.3" fill-opacity="0.5"/>
<circle cx="1098.9" cy="270.2" r="3.9" fill="#fff" stroke="#000" stroke-width="1.3" fill-opacity="0.5"/>
<circle cx="1090.9" cy="284.6" r="3.9" fill="#fff" stroke="#000" stroke-width="1.3" fill-opacity="0.5"/>
<circle cx="1107.6" cy="291.9" r="3.9" fill="#fff" stroke="#000" stroke-width="1.3" fill-opacity="0.5"/>
<circle cx="1090.9" cy="299.8" r="3.9" fill="#fff" stroke="#000" stroke-width="1.3" fill-opacity="0.5"/>
<circle cx="1137.2" cy="370.5" r="3.9" fill="#FED27B" stroke="#000" stroke-width="1.3" fill-opacity="0.55"/>
<circle cx="1137.2" cy="391" r="3.9" fill="#FED27B" stroke="#000" stroke-width="1.3" fill-opacity="0.55"/>
<circle cx="1137.2" cy="403.5" r="3.9" fill="#FED27B" stroke="#000" stroke-width="1.3" fill-opacity="0.55"/>
<line x1="1073" y1="431.6" x2="1073" y2="198" stroke="#000" stroke-width="2.4"/>
<line x1="1064.3" y1="198.9" x2="1074.2" y2="198.9" stroke="#000" stroke-width="2.4"/>
<text x="1060.3" y="204.48" font-size="15.5" text-anchor="end" fill="#000">1.5</text>
<line x1="1064.3" y1="275.9" x2="1074.2" y2="275.9" stroke="#000" stroke-width="2.4"/>
<text x="1060.3" y="281.48" font-size="15.5" text-anchor="end" fill="#000">1.0</text>
<line x1="1064.3" y1="352.9" x2="1074.2" y2="352.9" stroke="#000" stroke-width="2.4"/>
<text x="1060.3" y="358.48" font-size="15.5" text-anchor="end" fill="#000">0.5</text>
<line x1="1064.3" y1="430.4" x2="1074.2" y2="430.4" stroke="#000" stroke-width="2.4"/>
<text x="1060.3" y="435.98" font-size="15.5" text-anchor="end" fill="#000">0.0</text>
<line x1="1064.3" y1="430.4" x2="1162.2" y2="430.4" stroke="#000" stroke-width="2.4"/>
<line x1="1098.5" y1="430.4" x2="1098.5" y2="441" stroke="#000" stroke-width="2.4"/>
<line x1="1137.2" y1="430.4" x2="1137.2" y2="441" stroke="#000" stroke-width="2.4"/>
<text x="1085.2" y="209.2" font-size="15.5" text-anchor="start" fill="#000"><tspan font-style="italic">P</tspan>=0.0005</text>
<line x1="1097.8" y1="219.4" x2="1137.9" y2="219.4" stroke="#000" stroke-width="2"/>
<text transform="translate(1006.2,314.6) rotate(-90)" font-size="17" text-anchor="middle" fill="#000">CerS6 band intensities</text>
<text transform="translate(1025.5,314.6) rotate(-90)" font-size="17" text-anchor="middle" fill="#000">(relative to Control)</text>
<text transform="translate(1102,458) rotate(-45)" font-size="15.5" text-anchor="end" fill="#000">Control</text>
<text transform="translate(1139.5,459) rotate(-45)" font-size="15.8" text-anchor="end"><tspan font-style="italic">CerS6</tspan><tspan font-size="11.5" dy="-5.5">&#916;Nkx2.1</tspan></text>
<text x="1327.8" y="28.7" font-size="39" text-anchor="start" fill="#231F20">d</text>
<line x1="1418.9" y1="68.5" x2="1455.2" y2="68.5" stroke="#000" stroke-width="3"/>
<circle cx="1437.05" cy="68.5" r="6.1" fill="#fff" stroke="#000" stroke-width="1.6"/>
<text x="1473.6" y="77" font-size="22.6" text-anchor="start" fill="#000">Control</text>
<line x1="1553.4" y1="65.5" x2="1590.2" y2="65.5" stroke="#FDD27A" stroke-width="3"/>
<circle cx="1571.8" cy="65.5" r="6.1" fill="#FED27B" stroke="#000" stroke-width="1.6"/>
<text x="1608.6" y="76" font-size="22.6"><tspan font-style="italic">CerS6</tspan><tspan font-size="16.6" dy="-8.5">&#916;Nkx2.1</tspan></text>
<circle cx="1435.6" cy="99.4" r="8.5" fill="none" stroke="#000" stroke-width="2.8"/>
<line x1="1441.61" y1="93.39" x2="1450.61" y2="84.39" stroke="#000" stroke-width="2.8"/>
<polyline points="1443.11,84.19 1451.41,83.59 1450.81,91.89" fill="none" stroke="#000" stroke-width="2.8"/>
<text x="1456.8" y="105.3" font-size="20.4" text-anchor="start" fill="#000">HFD</text>
<text x="1436.1" y="128.8" font-size="18.7" text-anchor="start" fill="#000">genotype: <tspan font-style="italic">P</tspan>=0.0287</text>
<text x="1436.1" y="151.3" font-size="18.7" text-anchor="start" fill="#000">interaction: <tspan font-style="italic">P</tspan>&lt;0.0001</text>
<line x1="1452.89" y1="323.04" x2="1452.89" y2="317.96" stroke="#000" stroke-width="2"/>
<line x1="1446.64" y1="323.04" x2="1459.14" y2="323.04" stroke="#000" stroke-width="2"/>
<line x1="1446.64" y1="317.96" x2="1459.14" y2="317.96" stroke="#000" stroke-width="2"/>
<line x1="1471.08" y1="299.51" x2="1471.08" y2="294.42" stroke="#000" stroke-width="2"/>
<line x1="1464.83" y1="299.51" x2="1477.33" y2="299.51" stroke="#000" stroke-width="2"/>
<line x1="1464.83" y1="294.42" x2="1477.33" y2="294.42" stroke="#000" stroke-width="2"/>
<line x1="1489.26" y1="281.07" x2="1489.26" y2="275.98" stroke="#000" stroke-width="2"/>
<line x1="1483.01" y1="281.07" x2="1495.51" y2="281.07" stroke="#000" stroke-width="2"/>
<line x1="1483.01" y1="275.98" x2="1495.51" y2="275.98" stroke="#000" stroke-width="2"/>
<line x1="1507.45" y1="269.62" x2="1507.45" y2="264.53" stroke="#000" stroke-width="2"/>
<line x1="1501.2" y1="269.62" x2="1513.7" y2="269.62" stroke="#000" stroke-width="2"/>
<line x1="1501.2" y1="264.53" x2="1513.7" y2="264.53" stroke="#000" stroke-width="2"/>
<line x1="1525.64" y1="258.17" x2="1525.64" y2="253.08" stroke="#000" stroke-width="2"/>
<line x1="1519.39" y1="258.17" x2="1531.89" y2="258.17" stroke="#000" stroke-width="2"/>
<line x1="1519.39" y1="253.08" x2="1531.89" y2="253.08" stroke="#000" stroke-width="2"/>
<line x1="1543.83" y1="248.63" x2="1543.83" y2="243.54" stroke="#000" stroke-width="2"/>
<line x1="1537.58" y1="248.63" x2="1550.08" y2="248.63" stroke="#000" stroke-width="2"/>
<line x1="1537.58" y1="243.54" x2="1550.08" y2="243.54" stroke="#000" stroke-width="2"/>
<line x1="1562.01" y1="239.09" x2="1562.01" y2="232.73" stroke="#000" stroke-width="2"/>
<line x1="1555.76" y1="239.09" x2="1568.26" y2="239.09" stroke="#000" stroke-width="2"/>
<line x1="1555.76" y1="232.73" x2="1568.26" y2="232.73" stroke="#000" stroke-width="2"/>
<line x1="1580.2" y1="230.82" x2="1580.2" y2="223.19" stroke="#000" stroke-width="2"/>
<line x1="1573.95" y1="230.82" x2="1586.45" y2="230.82" stroke="#000" stroke-width="2"/>
<line x1="1573.95" y1="223.19" x2="1586.45" y2="223.19" stroke="#000" stroke-width="2"/>
<line x1="1598.39" y1="221.6" x2="1598.39" y2="209.52" stroke="#000" stroke-width="2"/>
<line x1="1592.14" y1="221.6" x2="1604.64" y2="221.6" stroke="#000" stroke-width="2"/>
<line x1="1592.14" y1="209.52" x2="1604.64" y2="209.52" stroke="#000" stroke-width="2"/>
<line x1="1616.58" y1="217.79" x2="1616.58" y2="206.97" stroke="#000" stroke-width="2"/>
<line x1="1610.33" y1="217.79" x2="1622.83" y2="217.79" stroke="#000" stroke-width="2"/>
<line x1="1610.33" y1="206.97" x2="1622.83" y2="206.97" stroke="#000" stroke-width="2"/>
<line x1="1634.76" y1="194.25" x2="1634.76" y2="174.54" stroke="#000" stroke-width="2"/>
<line x1="1628.51" y1="194.25" x2="1641.01" y2="194.25" stroke="#000" stroke-width="2"/>
<line x1="1628.51" y1="174.54" x2="1641.01" y2="174.54" stroke="#000" stroke-width="2"/>
<line x1="1652.95" y1="191.39" x2="1652.95" y2="171.04" stroke="#000" stroke-width="2"/>
<line x1="1646.7" y1="191.39" x2="1659.2" y2="191.39" stroke="#000" stroke-width="2"/>
<line x1="1646.7" y1="171.04" x2="1659.2" y2="171.04" stroke="#000" stroke-width="2"/>
<line x1="1671.14" y1="188.21" x2="1671.14" y2="170.4" stroke="#000" stroke-width="2"/>
<line x1="1664.89" y1="188.21" x2="1677.39" y2="188.21" stroke="#000" stroke-width="2"/>
<line x1="1664.89" y1="170.4" x2="1677.39" y2="170.4" stroke="#000" stroke-width="2"/>
<line x1="1689.33" y1="187.26" x2="1689.33" y2="167.54" stroke="#000" stroke-width="2"/>
<line x1="1683.08" y1="187.26" x2="1695.58" y2="187.26" stroke="#000" stroke-width="2"/>
<line x1="1683.08" y1="167.54" x2="1695.58" y2="167.54" stroke="#000" stroke-width="2"/>
<line x1="1707.51" y1="178.35" x2="1707.51" y2="158.64" stroke="#000" stroke-width="2"/>
<line x1="1701.26" y1="178.35" x2="1713.76" y2="178.35" stroke="#000" stroke-width="2"/>
<line x1="1701.26" y1="158.64" x2="1713.76" y2="158.64" stroke="#000" stroke-width="2"/>
<line x1="1725.7" y1="171.99" x2="1725.7" y2="151.01" stroke="#000" stroke-width="2"/>
<line x1="1719.45" y1="171.99" x2="1731.95" y2="171.99" stroke="#000" stroke-width="2"/>
<line x1="1719.45" y1="151.01" x2="1731.95" y2="151.01" stroke="#000" stroke-width="2"/>
<line x1="1743.89" y1="184.4" x2="1743.89" y2="148.78" stroke="#000" stroke-width="2"/>
<line x1="1737.64" y1="184.4" x2="1750.14" y2="184.4" stroke="#000" stroke-width="2"/>
<line x1="1737.64" y1="148.78" x2="1750.14" y2="148.78" stroke="#000" stroke-width="2"/>
<line x1="1452.89" y1="324.32" x2="1452.89" y2="319.23" stroke="#000" stroke-width="2"/>
<line x1="1446.64" y1="324.32" x2="1459.14" y2="324.32" stroke="#000" stroke-width="2"/>
<line x1="1446.64" y1="319.23" x2="1459.14" y2="319.23" stroke="#000" stroke-width="2"/>
<line x1="1471.08" y1="302.06" x2="1471.08" y2="296.97" stroke="#000" stroke-width="2"/>
<line x1="1464.83" y1="302.06" x2="1477.33" y2="302.06" stroke="#000" stroke-width="2"/>
<line x1="1464.83" y1="296.97" x2="1477.33" y2="296.97" stroke="#000" stroke-width="2"/>
<line x1="1489.26" y1="281.7" x2="1489.26" y2="276.62" stroke="#000" stroke-width="2"/>
<line x1="1483.01" y1="281.7" x2="1495.51" y2="281.7" stroke="#000" stroke-width="2"/>
<line x1="1483.01" y1="276.62" x2="1495.51" y2="276.62" stroke="#000" stroke-width="2"/>
<line x1="1507.45" y1="273.44" x2="1507.45" y2="268.35" stroke="#000" stroke-width="2"/>
<line x1="1501.2" y1="273.44" x2="1513.7" y2="273.44" stroke="#000" stroke-width="2"/>
<line x1="1501.2" y1="268.35" x2="1513.7" y2="268.35" stroke="#000" stroke-width="2"/>
<line x1="1525.64" y1="263.26" x2="1525.64" y2="258.17" stroke="#000" stroke-width="2"/>
<line x1="1519.39" y1="263.26" x2="1531.89" y2="263.26" stroke="#000" stroke-width="2"/>
<line x1="1519.39" y1="258.17" x2="1531.89" y2="258.17" stroke="#000" stroke-width="2"/>
<line x1="1543.83" y1="251.81" x2="1543.83" y2="246.72" stroke="#000" stroke-width="2"/>
<line x1="1537.58" y1="251.81" x2="1550.08" y2="251.81" stroke="#000" stroke-width="2"/>
<line x1="1537.58" y1="246.72" x2="1550.08" y2="246.72" stroke="#000" stroke-width="2"/>
<line x1="1562.01" y1="249.9" x2="1562.01" y2="243.54" stroke="#000" stroke-width="2"/>
<line x1="1555.76" y1="249.9" x2="1568.26" y2="249.9" stroke="#000" stroke-width="2"/>
<line x1="1555.76" y1="243.54" x2="1568.26" y2="243.54" stroke="#000" stroke-width="2"/>
<line x1="1580.2" y1="239.73" x2="1580.2" y2="232.1" stroke="#000" stroke-width="2"/>
<line x1="1573.95" y1="239.73" x2="1586.45" y2="239.73" stroke="#000" stroke-width="2"/>
<line x1="1573.95" y1="232.1" x2="1586.45" y2="232.1" stroke="#000" stroke-width="2"/>
<line x1="1598.39" y1="232.73" x2="1598.39" y2="222.56" stroke="#000" stroke-width="2"/>
<line x1="1592.14" y1="232.73" x2="1604.64" y2="232.73" stroke="#000" stroke-width="2"/>
<line x1="1592.14" y1="222.56" x2="1604.64" y2="222.56" stroke="#000" stroke-width="2"/>
<line x1="1616.58" y1="230.82" x2="1616.58" y2="218.1" stroke="#000" stroke-width="2"/>
<line x1="1610.33" y1="230.82" x2="1622.83" y2="230.82" stroke="#000" stroke-width="2"/>
<line x1="1610.33" y1="218.1" x2="1622.83" y2="218.1" stroke="#000" stroke-width="2"/>
<line x1="1634.76" y1="220.01" x2="1634.76" y2="203.48" stroke="#000" stroke-width="2"/>
<line x1="1628.51" y1="220.01" x2="1641.01" y2="220.01" stroke="#000" stroke-width="2"/>
<line x1="1628.51" y1="203.48" x2="1641.01" y2="203.48" stroke="#000" stroke-width="2"/>
<line x1="1652.95" y1="217.15" x2="1652.95" y2="198.71" stroke="#000" stroke-width="2"/>
<line x1="1646.7" y1="217.15" x2="1659.2" y2="217.15" stroke="#000" stroke-width="2"/>
<line x1="1646.7" y1="198.71" x2="1659.2" y2="198.71" stroke="#000" stroke-width="2"/>
<line x1="1671.14" y1="210.47" x2="1671.14" y2="196.48" stroke="#000" stroke-width="2"/>
<line x1="1664.89" y1="210.47" x2="1677.39" y2="210.47" stroke="#000" stroke-width="2"/>
<line x1="1664.89" y1="196.48" x2="1677.39" y2="196.48" stroke="#000" stroke-width="2"/>
<line x1="1689.33" y1="213.33" x2="1689.33" y2="197.43" stroke="#000" stroke-width="2"/>
<line x1="1683.08" y1="213.33" x2="1695.58" y2="213.33" stroke="#000" stroke-width="2"/>
<line x1="1683.08" y1="197.43" x2="1695.58" y2="197.43" stroke="#000" stroke-width="2"/>
<line x1="1707.51" y1="208.88" x2="1707.51" y2="190.44" stroke="#000" stroke-width="2"/>
<line x1="1701.26" y1="208.88" x2="1713.76" y2="208.88" stroke="#000" stroke-width="2"/>
<line x1="1701.26" y1="190.44" x2="1713.76" y2="190.44" stroke="#000" stroke-width="2"/>
<line x1="1725.7" y1="200.61" x2="1725.7" y2="183.44" stroke="#000" stroke-width="2"/>
<line x1="1719.45" y1="200.61" x2="1731.95" y2="200.61" stroke="#000" stroke-width="2"/>
<line x1="1719.45" y1="183.44" x2="1731.95" y2="183.44" stroke="#000" stroke-width="2"/>
<line x1="1743.89" y1="206.34" x2="1743.89" y2="187.89" stroke="#000" stroke-width="2"/>
<line x1="1737.64" y1="206.34" x2="1750.14" y2="206.34" stroke="#000" stroke-width="2"/>
<line x1="1737.64" y1="187.89" x2="1750.14" y2="187.89" stroke="#000" stroke-width="2"/>
<polyline points="1434.7,361.84 1452.89,320.5 1471.08,296.97 1489.26,278.52 1507.45,267.08 1525.64,255.63 1543.83,246.09 1562.01,235.91 1580.2,227.01 1598.39,215.56 1616.58,212.38 1634.76,184.4 1652.95,181.22 1671.14,179.31 1689.33,177.4 1707.51,168.5 1725.7,161.5 1743.89,166.59" fill="none" stroke="#000" stroke-width="3" stroke-linejoin="round"/>
<circle cx="1434.7" cy="361.84" r="6.1" fill="#fff" stroke="#000" stroke-width="1.6"/>
<circle cx="1452.89" cy="320.5" r="6.1" fill="#fff" stroke="#000" stroke-width="1.6"/>
<circle cx="1471.08" cy="296.97" r="6.1" fill="#fff" stroke="#000" stroke-width="1.6"/>
<circle cx="1489.26" cy="278.52" r="6.1" fill="#fff" stroke="#000" stroke-width="1.6"/>
<circle cx="1507.45" cy="267.08" r="6.1" fill="#fff" stroke="#000" stroke-width="1.6"/>
<circle cx="1525.64" cy="255.63" r="6.1" fill="#fff" stroke="#000" stroke-width="1.6"/>
<circle cx="1543.83" cy="246.09" r="6.1" fill="#fff" stroke="#000" stroke-width="1.6"/>
<circle cx="1562.01" cy="235.91" r="6.1" fill="#fff" stroke="#000" stroke-width="1.6"/>
<circle cx="1580.2" cy="227.01" r="6.1" fill="#fff" stroke="#000" stroke-width="1.6"/>
<circle cx="1598.39" cy="215.56" r="6.1" fill="#fff" stroke="#000" stroke-width="1.6"/>
<circle cx="1616.58" cy="212.38" r="6.1" fill="#fff" stroke="#000" stroke-width="1.6"/>
<circle cx="1634.76" cy="184.4" r="6.1" fill="#fff" stroke="#000" stroke-width="1.6"/>
<circle cx="1652.95" cy="181.22" r="6.1" fill="#fff" stroke="#000" stroke-width="1.6"/>
<circle cx="1671.14" cy="179.31" r="6.1" fill="#fff" stroke="#000" stroke-width="1.6"/>
<circle cx="1689.33" cy="177.4" r="6.1" fill="#fff" stroke="#000" stroke-width="1.6"/>
<circle cx="1707.51" cy="168.5" r="6.1" fill="#fff" stroke="#000" stroke-width="1.6"/>
<circle cx="1725.7" cy="161.5" r="6.1" fill="#fff" stroke="#000" stroke-width="1.6"/>
<circle cx="1743.89" cy="166.59" r="6.1" fill="#fff" stroke="#000" stroke-width="1.6"/>
<polyline points="1434.7,353.57 1452.89,321.77 1471.08,299.51 1489.26,279.16 1507.45,270.89 1525.64,260.72 1543.83,249.27 1562.01,246.72 1580.2,235.91 1598.39,227.64 1616.58,224.46 1634.76,211.74 1652.95,207.93 1671.14,203.48 1689.33,205.38 1707.51,199.66 1725.7,192.03 1743.89,197.12" fill="none" stroke="#FDD27A" stroke-width="3" stroke-linejoin="round"/>
<circle cx="1434.7" cy="353.57" r="6.1" fill="#FED27B" stroke="#000" stroke-width="1.6"/>
<circle cx="1452.89" cy="321.77" r="6.1" fill="#FED27B" stroke="#000" stroke-width="1.6"/>
<circle cx="1471.08" cy="299.51" r="6.1" fill="#FED27B" stroke="#000" stroke-width="1.6"/>
<circle cx="1489.26" cy="279.16" r="6.1" fill="#FED27B" stroke="#000" stroke-width="1.6"/>
<circle cx="1507.45" cy="270.89" r="6.1" fill="#FED27B" stroke="#000" stroke-width="1.6"/>
<circle cx="1525.64" cy="260.72" r="6.1" fill="#FED27B" stroke="#000" stroke-width="1.6"/>
<circle cx="1543.83" cy="249.27" r="6.1" fill="#FED27B" stroke="#000" stroke-width="1.6"/>
<circle cx="1562.01" cy="246.72" r="6.1" fill="#FED27B" stroke="#000" stroke-width="1.6"/>
<circle cx="1580.2" cy="235.91" r="6.1" fill="#FED27B" stroke="#000" stroke-width="1.6"/>
<circle cx="1598.39" cy="227.64" r="6.1" fill="#FED27B" stroke="#000" stroke-width="1.6"/>
<circle cx="1616.58" cy="224.46" r="6.1" fill="#FED27B" stroke="#000" stroke-width="1.6"/>
<circle cx="1634.76" cy="211.74" r="6.1" fill="#FED27B" stroke="#000" stroke-width="1.6"/>
<circle cx="1652.95" cy="207.93" r="6.1" fill="#FED27B" stroke="#000" stroke-width="1.6"/>
<circle cx="1671.14" cy="203.48" r="6.1" fill="#FED27B" stroke="#000" stroke-width="1.6"/>
<circle cx="1689.33" cy="205.38" r="6.1" fill="#FED27B" stroke="#000" stroke-width="1.6"/>
<circle cx="1707.51" cy="199.66" r="6.1" fill="#FED27B" stroke="#000" stroke-width="1.6"/>
<circle cx="1725.7" cy="192.03" r="6.1" fill="#FED27B" stroke="#000" stroke-width="1.6"/>
<circle cx="1743.89" cy="197.12" r="6.1" fill="#FED27B" stroke="#000" stroke-width="1.6"/>
<line x1="1422.8" y1="433.3" x2="1422.8" y2="112.3" stroke="#000" stroke-width="3"/>
<line x1="1410.8" y1="113.8" x2="1424.3" y2="113.8" stroke="#000" stroke-width="3"/>
<text x="1404.8" y="121.54" font-size="21.5" text-anchor="end" fill="#000">50</text>
<line x1="1410.8" y1="177.4" x2="1424.3" y2="177.4" stroke="#000" stroke-width="3"/>
<text x="1404.8" y="185.14" font-size="21.5" text-anchor="end" fill="#000">40</text>
<line x1="1410.8" y1="241" x2="1424.3" y2="241" stroke="#000" stroke-width="3"/>
<text x="1404.8" y="248.74" font-size="21.5" text-anchor="end" fill="#000">30</text>
<line x1="1410.8" y1="304.6" x2="1424.3" y2="304.6" stroke="#000" stroke-width="3"/>
<text x="1404.8" y="312.34" font-size="21.5" text-anchor="end" fill="#000">20</text>
<line x1="1410.8" y1="368.2" x2="1424.3" y2="368.2" stroke="#000" stroke-width="3"/>
<text x="1404.8" y="375.94" font-size="21.5" text-anchor="end" fill="#000">10</text>
<line x1="1410.8" y1="431.8" x2="1424.3" y2="431.8" stroke="#000" stroke-width="3"/>
<text x="1404.8" y="439.54" font-size="21.5" text-anchor="end" fill="#000">0</text>
<line x1="1410.8" y1="430.6" x2="1755.8" y2="430.6" stroke="#000" stroke-width="3"/>
<line x1="1452.89" y1="430.6" x2="1452.89" y2="443.2" stroke="#000" stroke-width="3"/>
<text x="1452.89" y="465.5" font-size="21.5" text-anchor="middle" fill="#000">4</text>
<line x1="1489.26" y1="430.6" x2="1489.26" y2="443.2" stroke="#000" stroke-width="3"/>
<text x="1489.26" y="465.5" font-size="21.5" text-anchor="middle" fill="#000">6</text>
<line x1="1525.64" y1="430.6" x2="1525.64" y2="443.2" stroke="#000" stroke-width="3"/>
<text x="1525.64" y="465.5" font-size="21.5" text-anchor="middle" fill="#000">8</text>
<line x1="1562.01" y1="430.6" x2="1562.01" y2="443.2" stroke="#000" stroke-width="3"/>
<text x="1562.01" y="465.5" font-size="21.5" text-anchor="middle" fill="#000">10</text>
<line x1="1598.39" y1="430.6" x2="1598.39" y2="443.2" stroke="#000" stroke-width="3"/>
<text x="1598.39" y="465.5" font-size="21.5" text-anchor="middle" fill="#000">12</text>
<line x1="1634.76" y1="430.6" x2="1634.76" y2="443.2" stroke="#000" stroke-width="3"/>
<text x="1634.76" y="465.5" font-size="21.5" text-anchor="middle" fill="#000">14</text>
<line x1="1671.14" y1="430.6" x2="1671.14" y2="443.2" stroke="#000" stroke-width="3"/>
<text x="1671.14" y="465.5" font-size="21.5" text-anchor="middle" fill="#000">16</text>
<line x1="1707.51" y1="430.6" x2="1707.51" y2="443.2" stroke="#000" stroke-width="3"/>
<text x="1707.51" y="465.5" font-size="21.5" text-anchor="middle" fill="#000">18</text>
<line x1="1743.89" y1="430.6" x2="1743.89" y2="443.2" stroke="#000" stroke-width="3"/>
<text x="1743.89" y="465.5" font-size="21.5" text-anchor="middle" fill="#000">20</text>
<text x="1590" y="495" font-size="23.3" text-anchor="middle" fill="#000">Age (weeks)</text>
<text transform="translate(1359,272.8) rotate(-90)" font-size="23.3" text-anchor="middle" fill="#000">Body weight (g)</text>
<text x="1797" y="31.9" font-size="39" text-anchor="start" fill="#231F20">e</text>
<rect x="1895.6" y="266.6" width="37.1" height="163.8" fill="#fff" stroke="#000" stroke-width="2"/>
<rect x="1943" y="273" width="37.6" height="157.4" fill="#FED27B" stroke="#000" stroke-width="2"/>
<line x1="1914.1" y1="266.6" x2="1914.1" y2="255.8" stroke="#000" stroke-width="2"/>
<line x1="1904.4" y1="255.8" x2="1923.8" y2="255.8" stroke="#000" stroke-width="2"/>
<line x1="1961.5" y1="273" x2="1961.5" y2="263.6" stroke="#000" stroke-width="2"/>
<line x1="1951.55" y1="263.6" x2="1971.45" y2="263.6" stroke="#000" stroke-width="2"/>
<circle cx="1909.3" cy="171.6" r="4.2" fill="#fff" stroke="#000" stroke-width="1.5" fill-opacity="0.5"/>
<circle cx="1913.9" cy="179.2" r="4.2" fill="#fff" stroke="#000" stroke-width="1.5" fill-opacity="0.5"/>
<circle cx="1911.2" cy="206.5" r="4.2" fill="#fff" stroke="#000" stroke-width="1.5" fill-opacity="0.5"/>
<circle cx="1916.4" cy="206.5" r="4.2" fill="#fff" stroke="#000" stroke-width="1.5" fill-opacity="0.5"/>
<circle cx="1911.2" cy="241.8" r="4.2" fill="#fff" stroke="#000" stroke-width="1.5" fill-opacity="0.5"/>
<circle cx="1916.4" cy="241.8" r="4.2" fill="#fff" stroke="#000" stroke-width="1.5" fill-opacity="0.5"/>
<circle cx="1918.8" cy="262.3" r="4.2" fill="#fff" stroke="#000" stroke-width="1.5" fill-opacity="0.5"/>
<circle cx="1913.9" cy="269.8" r="4.2" fill="#fff" stroke="#000" stroke-width="1.5" fill-opacity="0.5"/>
<circle cx="1909.1" cy="276.8" r="4.2" fill="#fff" stroke="#000" stroke-width="1.5" fill-opacity="0.5"/>
<circle cx="1918.8" cy="276.8" r="4.2" fill="#fff" stroke="#000" stroke-width="1.5" fill-opacity="0.5"/>
<circle cx="1904.2" cy="283.8" r="4.2" fill="#fff" stroke="#000" stroke-width="1.5" fill-opacity="0.5"/>
<circle cx="1913.9" cy="283.8" r="4.2" fill="#fff" stroke="#000" stroke-width="1.5" fill-opacity="0.5"/>
<circle cx="1918.8" cy="290.8" r="4.2" fill="#fff" stroke="#000" stroke-width="1.5" fill-opacity="0.5"/>
<circle cx="1904.5" cy="297.6" r="4.2" fill="#fff" stroke="#000" stroke-width="1.5" fill-opacity="0.5"/>
<circle cx="1899.4" cy="304.8" r="4.2" fill="#fff" stroke="#000" stroke-width="1.5" fill-opacity="0.5"/>
<circle cx="1909.1" cy="304.8" r="4.2" fill="#fff" stroke="#000" stroke-width="1.5" fill-opacity="0.5"/>
<circle cx="1913.9" cy="304.8" r="4.2" fill="#fff" stroke="#000" stroke-width="1.5" fill-opacity="0.5"/>
<circle cx="1918.8" cy="304.8" r="4.2" fill="#fff" stroke="#000" stroke-width="1.5" fill-opacity="0.5"/>
<circle cx="1923.6" cy="304.8" r="4.2" fill="#fff" stroke="#000" stroke-width="1.5" fill-opacity="0.5"/>
<circle cx="1928.4" cy="304.8" r="4.2" fill="#fff" stroke="#000" stroke-width="1.5" fill-opacity="0.5"/>
<circle cx="1967.4" cy="192.5" r="4.2" fill="#FED27B" stroke="#000" stroke-width="1.5" fill-opacity="0.55"/>
<circle cx="1959.4" cy="199.6" r="4.2" fill="#FED27B" stroke="#000" stroke-width="1.5" fill-opacity="0.55"/>
<circle cx="1964" cy="206.5" r="4.2" fill="#FED27B" stroke="#000" stroke-width="1.5" fill-opacity="0.55"/>
<circle cx="1967.7" cy="206.5" r="4.2" fill="#FED27B" stroke="#000" stroke-width="1.5" fill-opacity="0.55"/>
<circle cx="1959.4" cy="241.8" r="4.2" fill="#FED27B" stroke="#000" stroke-width="1.5" fill-opacity="0.55"/>
<circle cx="1964" cy="241.8" r="4.2" fill="#FED27B" stroke="#000" stroke-width="1.5" fill-opacity="0.55"/>
<circle cx="1964" cy="262.3" r="4.2" fill="#FED27B" stroke="#000" stroke-width="1.5" fill-opacity="0.55"/>
<circle cx="1959.4" cy="269.8" r="4.2" fill="#FED27B" stroke="#000" stroke-width="1.5" fill-opacity="0.55"/>
<circle cx="1967.4" cy="276.8" r="4.2" fill="#FED27B" stroke="#000" stroke-width="1.5" fill-opacity="0.55"/>
<circle cx="1959.4" cy="283.8" r="4.2" fill="#FED27B" stroke="#000" stroke-width="1.5" fill-opacity="0.55"/>
<circle cx="1955.4" cy="290.8" r="4.2" fill="#FED27B" stroke="#000" stroke-width="1.5" fill-opacity="0.55"/>
<circle cx="1967.4" cy="290.8" r="4.2" fill="#FED27B" stroke="#000" stroke-width="1.5" fill-opacity="0.55"/>
<circle cx="1947.3" cy="297.8" r="4.2" fill="#FED27B" stroke="#000" stroke-width="1.5" fill-opacity="0.55"/>
<circle cx="1951" cy="304.8" r="4.2" fill="#FED27B" stroke="#000" stroke-width="1.5" fill-opacity="0.55"/>
<circle cx="1959.4" cy="304.8" r="4.2" fill="#FED27B" stroke="#000" stroke-width="1.5" fill-opacity="0.55"/>
<circle cx="1967.4" cy="304.8" r="4.2" fill="#FED27B" stroke="#000" stroke-width="1.5" fill-opacity="0.55"/>
<circle cx="1976.3" cy="304.8" r="4.2" fill="#FED27B" stroke="#000" stroke-width="1.5" fill-opacity="0.55"/>
<circle cx="1947.3" cy="311.8" r="4.2" fill="#FED27B" stroke="#000" stroke-width="1.5" fill-opacity="0.55"/>
<circle cx="1963.4" cy="311.8" r="4.2" fill="#FED27B" stroke="#000" stroke-width="1.5" fill-opacity="0.55"/>
<circle cx="1972" cy="311.8" r="4.2" fill="#FED27B" stroke="#000" stroke-width="1.5" fill-opacity="0.55"/>
<line x1="1875.7" y1="431.9" x2="1875.7" y2="113.6" stroke="#000" stroke-width="3"/>
<line x1="1863.3" y1="115.1" x2="1877.2" y2="115.1" stroke="#000" stroke-width="3"/>
<text x="1857.8" y="122.84" font-size="21.5" text-anchor="end" fill="#000">12</text>
<line x1="1863.3" y1="185.1" x2="1877.2" y2="185.1" stroke="#000" stroke-width="3"/>
<text x="1857.8" y="192.84" font-size="21.5" text-anchor="end" fill="#000">11</text>
<line x1="1863.3" y1="255.1" x2="1877.2" y2="255.1" stroke="#000" stroke-width="3"/>
<text x="1857.8" y="262.84" font-size="21.5" text-anchor="end" fill="#000">10</text>
<line x1="1863.3" y1="325.1" x2="1877.2" y2="325.1" stroke="#000" stroke-width="3"/>
<text x="1857.8" y="332.84" font-size="21.5" text-anchor="end" fill="#000">9</text>
<line x1="1863.3" y1="395.1" x2="1877.2" y2="395.1" stroke="#000" stroke-width="3"/>
<text x="1857.8" y="402.84" font-size="21.5" text-anchor="end" fill="#000">8</text>
<line x1="1874.2" y1="430.4" x2="2000" y2="430.4" stroke="#000" stroke-width="3"/>
<line x1="1913.6" y1="430.4" x2="1913.6" y2="442.8" stroke="#000" stroke-width="3"/>
<line x1="1961.4" y1="430.4" x2="1961.4" y2="442.8" stroke="#000" stroke-width="3"/>
<text transform="translate(1825.3,272.8) rotate(-90)" font-size="23.3" text-anchor="middle" fill="#000">Body length (cm)</text>
<text transform="translate(1918.6,462.9) rotate(-45)" font-size="22" text-anchor="end" fill="#000">Control</text>
<text transform="translate(1967,466.8) rotate(-45)" font-size="22" text-anchor="end"><tspan font-style="italic">CerS6</tspan><tspan font-size="15.84" dy="-7.92">&#916;Nkx2.1</tspan></text>
<text x="7.4" y="579.5" font-size="39" text-anchor="start" fill="#231F20">f</text>
<rect x="125.2" y="740.5" width="37.1" height="194" fill="#fff" stroke="#000" stroke-width="2"/>
<rect x="173.2" y="785.5" width="37.2" height="149" fill="#FED27B" stroke="#000" stroke-width="2"/>
<line x1="143.7" y1="740.5" x2="143.7" y2="731.4" stroke="#000" stroke-width="2"/>
<line x1="134.2" y1="731.4" x2="153.2" y2="731.4" stroke="#000" stroke-width="2"/>
<line x1="191.5" y1="785.5" x2="191.5" y2="775.8" stroke="#000" stroke-width="2"/>
<line x1="181.5" y1="775.8" x2="201.5" y2="775.8" stroke="#000" stroke-width="2"/>
<circle cx="143.69" cy="674.13" r="4.6" fill="#fff" stroke="#000" stroke-width="1.5" fill-opacity="0.5"/>
<circle cx="138.74" cy="686.21" r="4.6" fill="#fff" stroke="#000" stroke-width="1.5" fill-opacity="0.5"/>
<circle cx="148.49" cy="693.78" r="4.6" fill="#fff" stroke="#000" stroke-width="1.5" fill-opacity="0.5"/>
<circle cx="158.25" cy="696.41" r="4.6" fill="#fff" stroke="#000" stroke-width="1.5" fill-opacity="0.5"/>
<circle cx="148.49" cy="705.87" r="4.6" fill="#fff" stroke="#000" stroke-width="1.5" fill-opacity="0.5"/>
<circle cx="138.74" cy="710.24" r="4.6" fill="#fff" stroke="#000" stroke-width="1.5" fill-opacity="0.5"/>
<circle cx="158.25" cy="709.51" r="4.6" fill="#fff" stroke="#000" stroke-width="1.5" fill-opacity="0.5"/>
<circle cx="129.13" cy="731.36" r="4.6" fill="#fff" stroke="#000" stroke-width="1.5" fill-opacity="0.5"/>
<circle cx="158.25" cy="729.9" r="4.6" fill="#fff" stroke="#000" stroke-width="1.5" fill-opacity="0.5"/>
<circle cx="148.49" cy="738.64" r="4.6" fill="#fff" stroke="#000" stroke-width="1.5" fill-opacity="0.5"/>
<circle cx="138.74" cy="741.99" r="4.6" fill="#fff" stroke="#000" stroke-width="1.5" fill-opacity="0.5"/>
<circle cx="129.13" cy="755.09" r="4.6" fill="#fff" stroke="#000" stroke-width="1.5" fill-opacity="0.5"/>
<circle cx="138.74" cy="763.1" r="4.6" fill="#fff" stroke="#000" stroke-width="1.5" fill-opacity="0.5"/>
<circle cx="148.49" cy="760.19" r="4.6" fill="#fff" stroke="#000" stroke-width="1.5" fill-opacity="0.5"/>
<circle cx="158.25" cy="760.19" r="4.6" fill="#fff" stroke="#000" stroke-width="1.5" fill-opacity="0.5"/>
<circle cx="148.49" cy="772.13" r="4.6" fill="#fff" stroke="#000" stroke-width="1.5" fill-opacity="0.5"/>
<circle cx="129.13" cy="780.14" r="4.6" fill="#fff" stroke="#000" stroke-width="1.5" fill-opacity="0.5"/>
<circle cx="138.74" cy="781.6" r="4.6" fill="#fff" stroke="#000" stroke-width="1.5" fill-opacity="0.5"/>
<circle cx="148.49" cy="801.55" r="4.6" fill="#fff" stroke="#000" stroke-width="1.5" fill-opacity="0.5"/>
<circle cx="138.74" cy="808.83" r="4.6" fill="#fff" stroke="#000" stroke-width="1.5" fill-opacity="0.5"/>
<circle cx="176.89" cy="731.06" r="4.6" fill="#FED27B" stroke="#000" stroke-width="1.5" fill-opacity="0.55"/>
<circle cx="184.17" cy="735.43" r="4.6" fill="#FED27B" stroke="#000" stroke-width="1.5" fill-opacity="0.55"/>
<circle cx="191.02" cy="732.08" r="4.6" fill="#FED27B" stroke="#000" stroke-width="1.5" fill-opacity="0.55"/>
<circle cx="198.3" cy="740.09" r="4.6" fill="#FED27B" stroke="#000" stroke-width="1.5" fill-opacity="0.55"/>
<circle cx="206.01" cy="744.9" r="4.6" fill="#FED27B" stroke="#000" stroke-width="1.5" fill-opacity="0.55"/>
<circle cx="176.89" cy="746.94" r="4.6" fill="#FED27B" stroke="#000" stroke-width="1.5" fill-opacity="0.55"/>
<circle cx="184.17" cy="753.64" r="4.6" fill="#FED27B" stroke="#000" stroke-width="1.5" fill-opacity="0.55"/>
<circle cx="191.02" cy="752.47" r="4.6" fill="#FED27B" stroke="#000" stroke-width="1.5" fill-opacity="0.55"/>
<circle cx="198.3" cy="752.47" r="4.6" fill="#FED27B" stroke="#000" stroke-width="1.5" fill-opacity="0.55"/>
<circle cx="191.02" cy="765.58" r="4.6" fill="#FED27B" stroke="#000" stroke-width="1.5" fill-opacity="0.55"/>
<circle cx="191.02" cy="780.14" r="4.6" fill="#FED27B" stroke="#000" stroke-width="1.5" fill-opacity="0.55"/>
<circle cx="184.17" cy="796.16" r="4.6" fill="#FED27B" stroke="#000" stroke-width="1.5" fill-opacity="0.55"/>
<circle cx="191.02" cy="801.98" r="4.6" fill="#FED27B" stroke="#000" stroke-width="1.5" fill-opacity="0.55"/>
<circle cx="184.17" cy="813.63" r="4.6" fill="#FED27B" stroke="#000" stroke-width="1.5" fill-opacity="0.55"/>
<circle cx="191.02" cy="818.44" r="4.6" fill="#FED27B" stroke="#000" stroke-width="1.5" fill-opacity="0.55"/>
<circle cx="198.3" cy="815.09" r="4.6" fill="#FED27B" stroke="#000" stroke-width="1.5" fill-opacity="0.55"/>
<circle cx="206.01" cy="813.34" r="4.6" fill="#FED27B" stroke="#000" stroke-width="1.5" fill-opacity="0.55"/>
<circle cx="187.38" cy="835.91" r="4.6" fill="#FED27B" stroke="#000" stroke-width="1.5" fill-opacity="0.55"/>
<circle cx="194.66" cy="835.91" r="4.6" fill="#FED27B" stroke="#000" stroke-width="1.5" fill-opacity="0.55"/>
<circle cx="191.02" cy="847.13" r="4.6" fill="#FED27B" stroke="#000" stroke-width="1.5" fill-opacity="0.55"/>
<circle cx="191.02" cy="874.07" r="4.6" fill="#FED27B" stroke="#000" stroke-width="1.5" fill-opacity="0.55"/>
<line x1="105.3" y1="936" x2="105.3" y2="616.5" stroke="#000" stroke-width="3"/>
<line x1="92.3" y1="618.7" x2="106.8" y2="618.7" stroke="#000" stroke-width="3"/>
<text x="86.3" y="626.44" font-size="21.5" text-anchor="end" fill="#000">50</text>
<line x1="92.3" y1="681.86" x2="106.8" y2="681.86" stroke="#000" stroke-width="3"/>
<text x="86.3" y="689.6" font-size="21.5" text-anchor="end" fill="#000">40</text>
<line x1="92.3" y1="745.02" x2="106.8" y2="745.02" stroke="#000" stroke-width="3"/>
<text x="86.3" y="752.76" font-size="21.5" text-anchor="end" fill="#000">30</text>
<line x1="92.3" y1="808.18" x2="106.8" y2="808.18" stroke="#000" stroke-width="3"/>
<text x="86.3" y="815.92" font-size="21.5" text-anchor="end" fill="#000">20</text>
<line x1="92.3" y1="871.34" x2="106.8" y2="871.34" stroke="#000" stroke-width="3"/>
<text x="86.3" y="879.08" font-size="21.5" text-anchor="end" fill="#000">10</text>
<line x1="92.3" y1="934.5" x2="106.8" y2="934.5" stroke="#000" stroke-width="3"/>
<text x="86.3" y="942.24" font-size="21.5" text-anchor="end" fill="#000">0</text>
<line x1="92.1" y1="934.5" x2="228.6" y2="934.5" stroke="#000" stroke-width="3"/>
<line x1="143.1" y1="934.5" x2="143.1" y2="946.9" stroke="#000" stroke-width="3"/>
<line x1="190.8" y1="934.5" x2="190.8" y2="946.9" stroke="#000" stroke-width="3"/>
<text x="127.6" y="637" font-size="21.5" text-anchor="start" fill="#000"><tspan font-style="italic">P</tspan>=0.0012</text>
<line x1="140.8" y1="651.8" x2="195.7" y2="651.8" stroke="#000" stroke-width="3"/>
<text transform="translate(51,776.5) rotate(-90)" font-size="23.3" text-anchor="middle" fill="#000">Body composition (fat % of BW)</text>
<text transform="translate(148.1,967) rotate(-45)" font-size="22" text-anchor="end" fill="#000">Control</text>
<text transform="translate(196.4,970.9) rotate(-45)" font-size="22" text-anchor="end"><tspan font-style="italic">CerS6</tspan><tspan font-size="15.84" dy="-7.92">&#916;Nkx2.1</tspan></text>
<text x="305.7" y="581" font-size="39" text-anchor="start" fill="#231F20">g</text>
<rect x="460.7" y="741.5" width="36.8" height="192.6" fill="#fff" stroke="#000" stroke-width="2"/>
<rect x="508" y="774.7" width="37.3" height="159.4" fill="#FED27B" stroke="#000" stroke-width="2"/>
<line x1="479.1" y1="741.5" x2="479.1" y2="729.3" stroke="#000" stroke-width="2"/>
<line x1="469.6" y1="729.3" x2="488.6" y2="729.3" stroke="#000" stroke-width="2"/>
<line x1="526.6" y1="774.7" x2="526.6" y2="766.5" stroke="#000" stroke-width="2"/>
<line x1="516.6" y1="766.5" x2="536.6" y2="766.5" stroke="#000" stroke-width="2"/>
<circle cx="478.77" cy="672.67" r="4.6" fill="#fff" stroke="#000" stroke-width="1.5" fill-opacity="0.5"/>
<circle cx="464.61" cy="723.7" r="4.6" fill="#fff" stroke="#000" stroke-width="1.5" fill-opacity="0.5"/>
<circle cx="478.77" cy="725.35" r="4.6" fill="#fff" stroke="#000" stroke-width="1.5" fill-opacity="0.5"/>
<circle cx="493.58" cy="728.64" r="4.6" fill="#fff" stroke="#000" stroke-width="1.5" fill-opacity="0.5"/>
<circle cx="478.77" cy="737.53" r="4.6" fill="#fff" stroke="#000" stroke-width="1.5" fill-opacity="0.5"/>
<circle cx="486.01" cy="755.64" r="4.6" fill="#fff" stroke="#000" stroke-width="1.5" fill-opacity="0.5"/>
<circle cx="471.85" cy="758.93" r="4.6" fill="#fff" stroke="#000" stroke-width="1.5" fill-opacity="0.5"/>
<circle cx="478.77" cy="772.1" r="4.6" fill="#fff" stroke="#000" stroke-width="1.5" fill-opacity="0.5"/>
<circle cx="478.77" cy="790.86" r="4.6" fill="#fff" stroke="#000" stroke-width="1.5" fill-opacity="0.5"/>
<circle cx="533.74" cy="733.58" r="4.6" fill="#FED27B" stroke="#000" stroke-width="1.5" fill-opacity="0.55"/>
<circle cx="526.5" cy="741.48" r="4.6" fill="#FED27B" stroke="#000" stroke-width="1.5" fill-opacity="0.55"/>
<circle cx="518.93" cy="768.15" r="4.6" fill="#FED27B" stroke="#000" stroke-width="1.5" fill-opacity="0.55"/>
<circle cx="526.5" cy="763.87" r="4.6" fill="#FED27B" stroke="#000" stroke-width="1.5" fill-opacity="0.55"/>
<circle cx="533.74" cy="763.87" r="4.6" fill="#FED27B" stroke="#000" stroke-width="1.5" fill-opacity="0.55"/>
<circle cx="526.5" cy="775.39" r="4.6" fill="#FED27B" stroke="#000" stroke-width="1.5" fill-opacity="0.55"/>
<circle cx="518.93" cy="784.61" r="4.6" fill="#FED27B" stroke="#000" stroke-width="1.5" fill-opacity="0.55"/>
<circle cx="533.74" cy="784.61" r="4.6" fill="#FED27B" stroke="#000" stroke-width="1.5" fill-opacity="0.55"/>
<circle cx="541.32" cy="784.28" r="4.6" fill="#FED27B" stroke="#000" stroke-width="1.5" fill-opacity="0.55"/>
<circle cx="511.69" cy="792.84" r="4.6" fill="#FED27B" stroke="#000" stroke-width="1.5" fill-opacity="0.55"/>
<circle cx="526.5" cy="792.84" r="4.6" fill="#FED27B" stroke="#000" stroke-width="1.5" fill-opacity="0.55"/>
<circle cx="541.32" cy="799.09" r="4.6" fill="#FED27B" stroke="#000" stroke-width="1.5" fill-opacity="0.55"/>
<line x1="441.6" y1="935.6" x2="441.6" y2="616" stroke="#000" stroke-width="3"/>
<line x1="427.7" y1="617.4" x2="443.1" y2="617.4" stroke="#000" stroke-width="3"/>
<text x="421.7" y="625.14" font-size="21.5" text-anchor="end" fill="#000">50</text>
<line x1="427.7" y1="680.74" x2="443.1" y2="680.74" stroke="#000" stroke-width="3"/>
<text x="421.7" y="688.48" font-size="21.5" text-anchor="end" fill="#000">40</text>
<line x1="427.7" y1="744.08" x2="443.1" y2="744.08" stroke="#000" stroke-width="3"/>
<text x="421.7" y="751.82" font-size="21.5" text-anchor="end" fill="#000">30</text>
<line x1="427.7" y1="807.42" x2="443.1" y2="807.42" stroke="#000" stroke-width="3"/>
<text x="421.7" y="815.16" font-size="21.5" text-anchor="end" fill="#000">20</text>
<line x1="427.7" y1="870.76" x2="443.1" y2="870.76" stroke="#000" stroke-width="3"/>
<text x="421.7" y="878.5" font-size="21.5" text-anchor="end" fill="#000">10</text>
<line x1="427.7" y1="934.1" x2="443.1" y2="934.1" stroke="#000" stroke-width="3"/>
<text x="421.7" y="941.84" font-size="21.5" text-anchor="end" fill="#000">0</text>
<line x1="427.7" y1="934.1" x2="565" y2="934.1" stroke="#000" stroke-width="3"/>
<line x1="477.8" y1="934.1" x2="477.8" y2="946.9" stroke="#000" stroke-width="3"/>
<line x1="526.5" y1="934.1" x2="526.5" y2="946.9" stroke="#000" stroke-width="3"/>
<text x="461.3" y="638.8" font-size="21.5" text-anchor="start" fill="#000"><tspan font-style="italic">P</tspan>=0.0166</text>
<line x1="480.4" y1="652.6" x2="532.1" y2="652.6" stroke="#000" stroke-width="3"/>
<text transform="translate(356.6,776) rotate(-90)" font-size="23.3" text-anchor="middle" fill="#000">Random fed serum leptin</text>
<text transform="translate(383,776) rotate(-90)" font-size="23.3" text-anchor="middle" fill="#000">(ng/mL)</text>
<text transform="translate(482.8,966.6) rotate(-45)" font-size="22" text-anchor="end" fill="#000">Control</text>
<text transform="translate(532.1,970.5) rotate(-45)" font-size="22" text-anchor="end"><tspan font-style="italic">CerS6</tspan><tspan font-size="15.84" dy="-7.92">&#916;Nkx2.1</tspan></text>
<text x="649" y="581" font-size="39" text-anchor="start" fill="#231F20">h</text>
<rect x="806.9" y="781.3" width="34.6" height="157.1" fill="#fff" stroke="#000" stroke-width="2"/>
<rect x="861.2" y="737.5" width="34.6" height="200.9" fill="#FED27B" stroke="#000" stroke-width="2"/>
<line x1="824.2" y1="781.3" x2="824.2" y2="776" stroke="#000" stroke-width="2"/>
<line x1="814.7" y1="776" x2="833.7" y2="776" stroke="#000" stroke-width="2"/>
<line x1="878.5" y1="737.5" x2="878.5" y2="728.6" stroke="#000" stroke-width="2"/>
<line x1="868.5" y1="728.6" x2="888.5" y2="728.6" stroke="#000" stroke-width="2"/>
<circle cx="814.49" cy="773.74" r="4.6" fill="#fff" stroke="#000" stroke-width="1.5" fill-opacity="0.5"/>
<circle cx="825.02" cy="769.47" r="4.6" fill="#fff" stroke="#000" stroke-width="1.5" fill-opacity="0.5"/>
<circle cx="836.54" cy="777.7" r="4.6" fill="#fff" stroke="#000" stroke-width="1.5" fill-opacity="0.5"/>
<circle cx="814.49" cy="790.21" r="4.6" fill="#fff" stroke="#000" stroke-width="1.5" fill-opacity="0.5"/>
<circle cx="829.3" cy="790.21" r="4.6" fill="#fff" stroke="#000" stroke-width="1.5" fill-opacity="0.5"/>
<circle cx="877.7" cy="712.84" r="4.6" fill="#FED27B" stroke="#000" stroke-width="1.5" fill-opacity="0.55"/>
<circle cx="877.7" cy="723.7" r="4.6" fill="#FED27B" stroke="#000" stroke-width="1.5" fill-opacity="0.55"/>
<circle cx="865.51" cy="749.71" r="4.6" fill="#FED27B" stroke="#000" stroke-width="1.5" fill-opacity="0.55"/>
<circle cx="877.7" cy="748.07" r="4.6" fill="#FED27B" stroke="#000" stroke-width="1.5" fill-opacity="0.55"/>
<circle cx="890.21" cy="748.07" r="4.6" fill="#FED27B" stroke="#000" stroke-width="1.5" fill-opacity="0.55"/>
<line x1="788.8" y1="939.9" x2="788.8" y2="616.5" stroke="#000" stroke-width="3"/>
<line x1="775.6" y1="618" x2="790.3" y2="618" stroke="#000" stroke-width="3"/>
<text x="769.6" y="625.74" font-size="21.5" text-anchor="end" fill="#000">25</text>
<line x1="775.6" y1="698.1" x2="790.3" y2="698.1" stroke="#000" stroke-width="3"/>
<text x="769.6" y="705.84" font-size="21.5" text-anchor="end" fill="#000">20</text>
<line x1="775.6" y1="778.2" x2="790.3" y2="778.2" stroke="#000" stroke-width="3"/>
<text x="769.6" y="785.94" font-size="21.5" text-anchor="end" fill="#000">15</text>
<line x1="775.6" y1="858.3" x2="790.3" y2="858.3" stroke="#000" stroke-width="3"/>
<text x="769.6" y="866.04" font-size="21.5" text-anchor="end" fill="#000">10</text>
<line x1="775.6" y1="938.4" x2="790.3" y2="938.4" stroke="#000" stroke-width="3"/>
<text x="769.6" y="946.14" font-size="21.5" text-anchor="end" fill="#000">5</text>
<line x1="775.6" y1="938.4" x2="914.2" y2="938.4" stroke="#000" stroke-width="3"/>
<line x1="823.7" y1="938.4" x2="823.7" y2="951.5" stroke="#000" stroke-width="3"/>
<line x1="877.7" y1="938.4" x2="877.7" y2="951.5" stroke="#000" stroke-width="3"/>
<text x="807.9" y="642.1" font-size="21.5" text-anchor="start" fill="#000"><tspan font-style="italic">P</tspan>=0.0013</text>
<line x1="826" y1="656.2" x2="879.7" y2="656.2" stroke="#000" stroke-width="3"/>
<text transform="translate(702.7,778) rotate(-90)" font-size="23.3" text-anchor="middle" fill="#000">Energy expenditure (kcal/h/kg BW)</text>
<text transform="translate(730.3,778) rotate(-90)" font-size="23.3" text-anchor="middle" fill="#000">mean of 24h</text>
<text transform="translate(828.7,970.9) rotate(-45)" font-size="22" text-anchor="end" fill="#000">Control</text>
<text transform="translate(883.3,974.8) rotate(-45)" font-size="22" text-anchor="end"><tspan font-style="italic">CerS6</tspan><tspan font-size="15.84" dy="-7.92">&#916;Nkx2.1</tspan></text>
<text x="989.7" y="579.5" font-size="39" text-anchor="start" fill="#231F20">i</text>
<line x1="1114" y1="612.2" x2="1460" y2="612.2" stroke="#000" stroke-width="1" stroke-dasharray="3,2.2"/>
<line x1="1114" y1="691.2" x2="1460" y2="691.2" stroke="#000" stroke-width="1" stroke-dasharray="3,2.2"/>
<line x1="1114" y1="770.2" x2="1460" y2="770.2" stroke="#000" stroke-width="1" stroke-dasharray="3,2.2"/>
<line x1="1114" y1="849.2" x2="1460" y2="849.2" stroke="#000" stroke-width="1" stroke-dasharray="3,2.2"/>
<path d="M1136.9,732.77 C1139.59,733.78 1146.76,736.9 1153.04,738.8 C1159.31,740.7 1169.18,743.1 1174.56,744.18 C1179.94,745.26 1181.73,745.33 1185.32,745.26 C1188.9,745.18 1192.49,744.47 1196.08,743.75 C1199.66,743.03 1203.25,742.31 1206.84,740.95 C1210.42,739.59 1213.58,737.83 1217.6,735.57 C1221.61,733.31 1228.71,728.76 1230.94,727.39 L1230.94,797.55 1230.94,797.55 C1228.71,796.83 1221.61,794.43 1217.6,793.24 C1213.58,792.06 1210.42,791.09 1206.84,790.45 C1203.25,789.8 1201.46,789.01 1196.08,789.37 C1190.7,789.73 1181.73,790.09 1174.56,792.6 C1167.38,795.11 1159.31,800.85 1153.04,804.43 C1146.76,808.02 1139.59,812.5 1136.9,814.12 Z" fill="#FEF4E0"/>
<path d="M1224.7,759.67 C1227.1,759.13 1233.13,758.31 1239.12,756.45 C1245.11,754.58 1253.46,751.24 1260.63,748.48 C1267.81,745.72 1274.98,743.1 1282.15,739.88 C1289.33,736.65 1296.5,733.42 1303.67,729.12 C1310.85,724.81 1318.02,720.15 1325.19,714.05 C1332.37,707.95 1339.54,700.06 1346.71,692.53 C1353.88,685 1361.06,676.39 1368.23,668.86 C1375.4,661.33 1381.79,654.87 1389.75,647.34 C1397.71,639.81 1411.63,627.62 1416,623.67 L1416,748.48 1416,748.48 C1411.63,749.74 1397.71,753.5 1389.75,756.01 C1381.79,758.53 1375.4,760.86 1368.23,763.55 C1361.06,766.24 1353.88,768.57 1346.71,772.15 C1339.54,775.74 1332.37,780.4 1325.19,785.07 C1318.02,789.73 1310.85,794.75 1303.67,800.13 C1296.5,805.51 1289.33,810.89 1282.15,817.34 C1274.98,823.8 1267.81,831.69 1260.63,838.86 C1253.46,846.04 1245.11,854.57 1239.12,860.38 C1233.13,866.19 1227.1,871.5 1224.7,873.72 Z" fill="#EBEBEB"/>
<path d="M1136.9,732.77 C1139.59,733.78 1146.76,736.9 1153.04,738.8 C1159.31,740.7 1169.18,743.1 1174.56,744.18 C1179.94,745.26 1181.73,745.33 1185.32,745.26 C1188.9,745.18 1192.49,744.47 1196.08,743.75 C1199.66,743.03 1203.25,742.31 1206.84,740.95 C1210.42,739.59 1213.58,737.83 1217.6,735.57 C1221.61,733.31 1228.71,728.76 1230.94,727.39" fill="none" stroke="#000" stroke-width="1.5" stroke-dasharray="6,4"/>
<path d="M1136.9,814.12 C1139.59,812.5 1146.76,808.02 1153.04,804.43 C1159.31,800.85 1167.38,795.11 1174.56,792.6 C1181.73,790.09 1190.7,789.73 1196.08,789.37 C1201.46,789.01 1203.25,789.8 1206.84,790.45 C1210.42,791.09 1213.58,792.06 1217.6,793.24 C1221.61,794.43 1228.71,796.83 1230.94,797.55" fill="none" stroke="#000" stroke-width="1.5" stroke-dasharray="6,4"/>
<path d="M1224.7,759.67 C1227.1,759.13 1233.13,758.31 1239.12,756.45 C1245.11,754.58 1253.46,751.24 1260.63,748.48 C1267.81,745.72 1274.98,743.1 1282.15,739.88 C1289.33,736.65 1296.5,733.42 1303.67,729.12 C1310.85,724.81 1318.02,720.15 1325.19,714.05 C1332.37,707.95 1339.54,700.06 1346.71,692.53 C1353.88,685 1361.06,676.39 1368.23,668.86 C1375.4,661.33 1381.79,654.87 1389.75,647.34 C1397.71,639.81 1411.63,627.62 1416,623.67" fill="none" stroke="#000" stroke-width="1.5" stroke-dasharray="6,4"/>
<path d="M1224.7,873.72 C1227.1,871.5 1233.13,866.19 1239.12,860.38 C1245.11,854.57 1253.46,846.04 1260.63,838.86 C1267.81,831.69 1274.98,823.8 1282.15,817.34 C1289.33,810.89 1296.5,805.51 1303.67,800.13 C1310.85,794.75 1318.02,789.73 1325.19,785.07 C1332.37,780.4 1339.54,775.74 1346.71,772.15 C1353.88,768.57 1361.06,766.24 1368.23,763.55 C1375.4,760.86 1381.79,758.53 1389.75,756.01 C1397.71,753.5 1411.63,749.74 1416,748.48" fill="none" stroke="#000" stroke-width="1.5" stroke-dasharray="6,4"/>
<line x1="1136.9" y1="772.8" x2="1224.7" y2="763.55" stroke="#FDD27A" stroke-width="1.5"/>
<line x1="1224.7" y1="817.77" x2="1416" y2="686.08" stroke="#000" stroke-width="1.8"/>
<circle cx="1224.05" cy="805.08" r="5.9" fill="#fff" stroke="#000" stroke-width="1.6"/>
<circle cx="1243.42" cy="799.7" r="5.9" fill="#fff" stroke="#000" stroke-width="1.6"/>
<circle cx="1328.85" cy="767.42" r="5.9" fill="#fff" stroke="#000" stroke-width="1.6"/>
<circle cx="1348.22" cy="756.01" r="5.9" fill="#fff" stroke="#000" stroke-width="1.6"/>
<circle cx="1416" cy="660.9" r="5.9" fill="#fff" stroke="#000" stroke-width="1.6"/>
<circle cx="1136.9" cy="786.79" r="5.9" fill="#FED27B" stroke="#000" stroke-width="1.6"/>
<circle cx="1161.65" cy="748.48" r="5.9" fill="#FED27B" stroke="#000" stroke-width="1.6"/>
<circle cx="1208.34" cy="771.72" r="5.9" fill="#FED27B" stroke="#000" stroke-width="1.6"/>
<circle cx="1208.34" cy="770" r="5.9" fill="#FED27B" stroke="#000" stroke-width="1.6"/>
<circle cx="1231.15" cy="759.24" r="5.9" fill="#FED27B" stroke="#000" stroke-width="1.6"/>
<line x1="1125" y1="628.4" x2="1160" y2="628.4" stroke="#000" stroke-width="1.3"/>
<circle cx="1142.5" cy="628.4" r="5.9" fill="#fff" stroke="#000" stroke-width="1.6"/>
<text x="1178.9" y="637.7" font-size="22.7" text-anchor="start" fill="#000">Control</text>
<line x1="1125" y1="657.7" x2="1160" y2="657.7" stroke="#FDD27A" stroke-width="1.3"/>
<circle cx="1142.5" cy="657.7" r="5.9" fill="#FED27B" stroke="#000" stroke-width="1.6"/>
<text x="1180" y="668.4" font-size="22.7"><tspan font-style="italic">CerS6</tspan><tspan font-size="16.6" dy="-8.5">&#916;Nkx2.1</tspan></text>
<text x="1267.1" y="868.6" font-size="18.7" text-anchor="start" fill="#000">ANCOVA</text>
<text x="1267.1" y="891" font-size="18.7" text-anchor="start" fill="#000">mass effect: <tspan font-style="italic">P</tspan>=0.008</text>
<text x="1267.1" y="913.1" font-size="18.7" text-anchor="start" fill="#000">group effect: <tspan font-style="italic">P</tspan>=0.067</text>
<line x1="1112.7" y1="929.7" x2="1112.7" y2="610.8" stroke="#000" stroke-width="3"/>
<line x1="1100" y1="612.2" x2="1114.2" y2="612.2" stroke="#000" stroke-width="3"/>
<text x="1094.5" y="619.94" font-size="21.5" text-anchor="end" fill="#000">0.8</text>
<line x1="1100" y1="691.2" x2="1114.2" y2="691.2" stroke="#000" stroke-width="3"/>
<text x="1094.5" y="698.94" font-size="21.5" text-anchor="end" fill="#000">0.7</text>
<line x1="1100" y1="770.2" x2="1114.2" y2="770.2" stroke="#000" stroke-width="3"/>
<text x="1094.5" y="777.94" font-size="21.5" text-anchor="end" fill="#000">0.6</text>
<line x1="1100" y1="849.2" x2="1114.2" y2="849.2" stroke="#000" stroke-width="3"/>
<text x="1094.5" y="856.94" font-size="21.5" text-anchor="end" fill="#000">0.5</text>
<line x1="1100" y1="928.2" x2="1114.2" y2="928.2" stroke="#000" stroke-width="3"/>
<text x="1094.5" y="935.94" font-size="21.5" text-anchor="end" fill="#000">0.4</text>
<line x1="1100" y1="928.2" x2="1463" y2="928.2" stroke="#000" stroke-width="3"/>
<line x1="1112.7" y1="928.2" x2="1112.7" y2="941" stroke="#000" stroke-width="3"/>
<text x="1112.7" y="966.2" font-size="21.5" text-anchor="middle" fill="#000">30</text>
<line x1="1199.9" y1="928.2" x2="1199.9" y2="941" stroke="#000" stroke-width="3"/>
<text x="1199.9" y="966.2" font-size="21.5" text-anchor="middle" fill="#000">35</text>
<line x1="1287.1" y1="928.2" x2="1287.1" y2="941" stroke="#000" stroke-width="3"/>
<text x="1287.1" y="966.2" font-size="21.5" text-anchor="middle" fill="#000">40</text>
<line x1="1374.3" y1="928.2" x2="1374.3" y2="941" stroke="#000" stroke-width="3"/>
<text x="1374.3" y="966.2" font-size="21.5" text-anchor="middle" fill="#000">45</text>
<line x1="1461.5" y1="928.2" x2="1461.5" y2="941" stroke="#000" stroke-width="3"/>
<text x="1461.5" y="966.2" font-size="21.5" text-anchor="middle" fill="#000">50</text>
<text x="1287.4" y="1000.2" font-size="23.3" text-anchor="middle" fill="#000">Body weight (g)</text>
<text transform="translate(1045.3,770.3) rotate(-90)" font-size="23.3" text-anchor="middle" fill="#000">Energy expenditure (kcal/h)</text>
<text x="1560.8" y="578" font-size="39" text-anchor="start" fill="#231F20">j</text>
<rect x="1695.6" y="610.8" width="84" height="315.7" fill="#DCDCDC"/>
<rect x="1867.8" y="610.8" width="83.9" height="315.7" fill="#DCDCDC"/>
<text x="1812.9" y="917.4" font-size="15.8" text-anchor="start" fill="#222">light</text>
<text x="1894.3" y="917.4" font-size="15.8" text-anchor="start" fill="#222">dark</text>
<line x1="1636.5" y1="927.05" x2="1636.5" y2="925.05" stroke="#F7C46C" stroke-width="0.8"/>
<line x1="1634" y1="925.05" x2="1639" y2="925.05" stroke="#F7C46C" stroke-width="0.8"/>
<line x1="1638.89" y1="925.2" x2="1638.89" y2="923.15" stroke="#F7C46C" stroke-width="0.8"/>
<line x1="1636.39" y1="923.15" x2="1641.39" y2="923.15" stroke="#F7C46C" stroke-width="0.8"/>
<line x1="1641.28" y1="923.86" x2="1641.28" y2="921.75" stroke="#F7C46C" stroke-width="0.8"/>
<line x1="1638.78" y1="921.75" x2="1643.78" y2="921.75" stroke="#F7C46C" stroke-width="0.8"/>
<line x1="1643.67" y1="922.78" x2="1643.67" y2="920.61" stroke="#F7C46C" stroke-width="0.8"/>
<line x1="1641.17" y1="920.61" x2="1646.17" y2="920.61" stroke="#F7C46C" stroke-width="0.8"/>
<line x1="1646.06" y1="921.32" x2="1646.06" y2="919.1" stroke="#F7C46C" stroke-width="0.8"/>
<line x1="1643.56" y1="919.1" x2="1648.56" y2="919.1" stroke="#F7C46C" stroke-width="0.8"/>
<line x1="1648.45" y1="920.63" x2="1648.45" y2="918.35" stroke="#F7C46C" stroke-width="0.8"/>
<line x1="1645.95" y1="918.35" x2="1650.95" y2="918.35" stroke="#F7C46C" stroke-width="0.8"/>
<line x1="1650.84" y1="918.46" x2="1650.84" y2="916.13" stroke="#F7C46C" stroke-width="0.8"/>
<line x1="1648.34" y1="916.13" x2="1653.34" y2="916.13" stroke="#F7C46C" stroke-width="0.8"/>
<line x1="1653.23" y1="917.18" x2="1653.23" y2="914.79" stroke="#F7C46C" stroke-width="0.8"/>
<line x1="1650.73" y1="914.79" x2="1655.73" y2="914.79" stroke="#F7C46C" stroke-width="0.8"/>
<line x1="1655.62" y1="917.27" x2="1655.62" y2="914.82" stroke="#F7C46C" stroke-width="0.8"/>
<line x1="1653.12" y1="914.82" x2="1658.12" y2="914.82" stroke="#F7C46C" stroke-width="0.8"/>
<line x1="1658.02" y1="915.73" x2="1658.02" y2="913.23" stroke="#F7C46C" stroke-width="0.8"/>
<line x1="1655.52" y1="913.23" x2="1660.52" y2="913.23" stroke="#F7C46C" stroke-width="0.8"/>
<line x1="1660.41" y1="914.25" x2="1660.41" y2="911.7" stroke="#F7C46C" stroke-width="0.8"/>
<line x1="1657.91" y1="911.7" x2="1662.91" y2="911.7" stroke="#F7C46C" stroke-width="0.8"/>
<line x1="1662.8" y1="913.7" x2="1662.8" y2="911.09" stroke="#F7C46C" stroke-width="0.8"/>
<line x1="1660.3" y1="911.09" x2="1665.3" y2="911.09" stroke="#F7C46C" stroke-width="0.8"/>
<line x1="1665.19" y1="912.06" x2="1665.19" y2="909.39" stroke="#F7C46C" stroke-width="0.8"/>
<line x1="1662.69" y1="909.39" x2="1667.69" y2="909.39" stroke="#F7C46C" stroke-width="0.8"/>
<line x1="1667.58" y1="911.28" x2="1667.58" y2="908.56" stroke="#F7C46C" stroke-width="0.8"/>
<line x1="1665.08" y1="908.56" x2="1670.08" y2="908.56" stroke="#F7C46C" stroke-width="0.8"/>
<line x1="1669.97" y1="909.94" x2="1669.97" y2="907.17" stroke="#F7C46C" stroke-width="0.8"/>
<line x1="1667.47" y1="907.17" x2="1672.47" y2="907.17" stroke="#F7C46C" stroke-width="0.8"/>
<line x1="1672.36" y1="907.93" x2="1672.36" y2="905.09" stroke="#F7C46C" stroke-width="0.8"/>
<line x1="1669.86" y1="905.09" x2="1674.86" y2="905.09" stroke="#F7C46C" stroke-width="0.8"/>
<line x1="1674.75" y1="905.85" x2="1674.75" y2="902.96" stroke="#F7C46C" stroke-width="0.8"/>
<line x1="1672.25" y1="902.96" x2="1677.25" y2="902.96" stroke="#F7C46C" stroke-width="0.8"/>
<line x1="1677.14" y1="903.45" x2="1677.14" y2="900.5" stroke="#F7C46C" stroke-width="0.8"/>
<line x1="1674.64" y1="900.5" x2="1679.64" y2="900.5" stroke="#F7C46C" stroke-width="0.8"/>
<line x1="1679.53" y1="901.7" x2="1679.53" y2="898.7" stroke="#F7C46C" stroke-width="0.8"/>
<line x1="1677.03" y1="898.7" x2="1682.03" y2="898.7" stroke="#F7C46C" stroke-width="0.8"/>
<line x1="1681.92" y1="899.5" x2="1681.92" y2="896.44" stroke="#F7C46C" stroke-width="0.8"/>
<line x1="1679.42" y1="896.44" x2="1684.42" y2="896.44" stroke="#F7C46C" stroke-width="0.8"/>
<line x1="1684.31" y1="897.63" x2="1684.31" y2="894.52" stroke="#F7C46C" stroke-width="0.8"/>
<line x1="1681.81" y1="894.52" x2="1686.81" y2="894.52" stroke="#F7C46C" stroke-width="0.8"/>
<line x1="1686.7" y1="894.75" x2="1686.7" y2="891.59" stroke="#F7C46C" stroke-width="0.8"/>
<line x1="1684.2" y1="891.59" x2="1689.2" y2="891.59" stroke="#F7C46C" stroke-width="0.8"/>
<line x1="1689.09" y1="892.46" x2="1689.09" y2="889.24" stroke="#F7C46C" stroke-width="0.8"/>
<line x1="1686.59" y1="889.24" x2="1691.59" y2="889.24" stroke="#F7C46C" stroke-width="0.8"/>
<line x1="1691.48" y1="889.33" x2="1691.48" y2="886.05" stroke="#F7C46C" stroke-width="0.8"/>
<line x1="1688.98" y1="886.05" x2="1693.98" y2="886.05" stroke="#F7C46C" stroke-width="0.8"/>
<line x1="1693.88" y1="886.61" x2="1693.88" y2="883.28" stroke="#F7C46C" stroke-width="0.8"/>
<line x1="1691.38" y1="883.28" x2="1696.38" y2="883.28" stroke="#F7C46C" stroke-width="0.8"/>
<line x1="1696.27" y1="884.45" x2="1696.27" y2="881.06" stroke="#F7C46C" stroke-width="0.8"/>
<line x1="1693.77" y1="881.06" x2="1698.77" y2="881.06" stroke="#F7C46C" stroke-width="0.8"/>
<line x1="1698.66" y1="881.66" x2="1698.66" y2="878.22" stroke="#F7C46C" stroke-width="0.8"/>
<line x1="1696.16" y1="878.22" x2="1701.16" y2="878.22" stroke="#F7C46C" stroke-width="0.8"/>
<line x1="1701.05" y1="878.52" x2="1701.05" y2="875.02" stroke="#F7C46C" stroke-width="0.8"/>
<line x1="1698.55" y1="875.02" x2="1703.55" y2="875.02" stroke="#F7C46C" stroke-width="0.8"/>
<line x1="1703.44" y1="875.54" x2="1703.44" y2="871.99" stroke="#F7C46C" stroke-width="0.8"/>
<line x1="1700.94" y1="871.99" x2="1705.94" y2="871.99" stroke="#F7C46C" stroke-width="0.8"/>
<line x1="1705.83" y1="873.17" x2="1705.83" y2="869.55" stroke="#F7C46C" stroke-width="0.8"/>
<line x1="1703.33" y1="869.55" x2="1708.33" y2="869.55" stroke="#F7C46C" stroke-width="0.8"/>
<line x1="1708.22" y1="870.68" x2="1708.22" y2="867.01" stroke="#F7C46C" stroke-width="0.8"/>
<line x1="1705.72" y1="867.01" x2="1710.72" y2="867.01" stroke="#F7C46C" stroke-width="0.8"/>
<line x1="1710.61" y1="867.67" x2="1710.61" y2="863.95" stroke="#F7C46C" stroke-width="0.8"/>
<line x1="1708.11" y1="863.95" x2="1713.11" y2="863.95" stroke="#F7C46C" stroke-width="0.8"/>
<line x1="1713" y1="865.94" x2="1713" y2="862.16" stroke="#F7C46C" stroke-width="0.8"/>
<line x1="1710.5" y1="862.16" x2="1715.5" y2="862.16" stroke="#F7C46C" stroke-width="0.8"/>
<line x1="1715.39" y1="863.95" x2="1715.39" y2="860.12" stroke="#F7C46C" stroke-width="0.8"/>
<line x1="1712.89" y1="860.12" x2="1717.89" y2="860.12" stroke="#F7C46C" stroke-width="0.8"/>
<line x1="1717.78" y1="861.77" x2="1717.78" y2="857.88" stroke="#F7C46C" stroke-width="0.8"/>
<line x1="1715.28" y1="857.88" x2="1720.28" y2="857.88" stroke="#F7C46C" stroke-width="0.8"/>
<line x1="1720.17" y1="859.97" x2="1720.17" y2="856.03" stroke="#F7C46C" stroke-width="0.8"/>
<line x1="1717.67" y1="856.03" x2="1722.67" y2="856.03" stroke="#F7C46C" stroke-width="0.8"/>
<line x1="1722.56" y1="857.03" x2="1722.56" y2="853.03" stroke="#F7C46C" stroke-width="0.8"/>
<line x1="1720.06" y1="853.03" x2="1725.06" y2="853.03" stroke="#F7C46C" stroke-width="0.8"/>
<line x1="1724.95" y1="853.62" x2="1724.95" y2="849.56" stroke="#F7C46C" stroke-width="0.8"/>
<line x1="1722.45" y1="849.56" x2="1727.45" y2="849.56" stroke="#F7C46C" stroke-width="0.8"/>
<line x1="1727.34" y1="850.75" x2="1727.34" y2="846.64" stroke="#F7C46C" stroke-width="0.8"/>
<line x1="1724.84" y1="846.64" x2="1729.84" y2="846.64" stroke="#F7C46C" stroke-width="0.8"/>
<line x1="1729.73" y1="847.68" x2="1729.73" y2="843.51" stroke="#F7C46C" stroke-width="0.8"/>
<line x1="1727.23" y1="843.51" x2="1732.23" y2="843.51" stroke="#F7C46C" stroke-width="0.8"/>
<line x1="1732.12" y1="843.68" x2="1732.12" y2="839.46" stroke="#F7C46C" stroke-width="0.8"/>
<line x1="1729.62" y1="839.46" x2="1734.62" y2="839.46" stroke="#F7C46C" stroke-width="0.8"/>
<line x1="1734.52" y1="841.27" x2="1734.52" y2="836.99" stroke="#F7C46C" stroke-width="0.8"/>
<line x1="1732.02" y1="836.99" x2="1737.02" y2="836.99" stroke="#F7C46C" stroke-width="0.8"/>
<line x1="1736.91" y1="838.7" x2="1736.91" y2="834.37" stroke="#F7C46C" stroke-width="0.8"/>
<line x1="1734.41" y1="834.37" x2="1739.41" y2="834.37" stroke="#F7C46C" stroke-width="0.8"/>
<line x1="1739.3" y1="836.03" x2="1739.3" y2="831.64" stroke="#F7C46C" stroke-width="0.8"/>
<line x1="1736.8" y1="831.64" x2="1741.8" y2="831.64" stroke="#F7C46C" stroke-width="0.8"/>
<line x1="1741.69" y1="832.69" x2="1741.69" y2="828.25" stroke="#F7C46C" stroke-width="0.8"/>
<line x1="1739.19" y1="828.25" x2="1744.19" y2="828.25" stroke="#F7C46C" stroke-width="0.8"/>
<line x1="1744.08" y1="829.89" x2="1744.08" y2="825.39" stroke="#F7C46C" stroke-width="0.8"/>
<line x1="1741.58" y1="825.39" x2="1746.58" y2="825.39" stroke="#F7C46C" stroke-width="0.8"/>
<line x1="1746.47" y1="827.51" x2="1746.47" y2="822.96" stroke="#F7C46C" stroke-width="0.8"/>
<line x1="1743.97" y1="822.96" x2="1748.97" y2="822.96" stroke="#F7C46C" stroke-width="0.8"/>
<line x1="1748.86" y1="825.08" x2="1748.86" y2="820.47" stroke="#F7C46C" stroke-width="0.8"/>
<line x1="1746.36" y1="820.47" x2="1751.36" y2="820.47" stroke="#F7C46C" stroke-width="0.8"/>
<line x1="1751.25" y1="822.7" x2="1751.25" y2="818.04" stroke="#F7C46C" stroke-width="0.8"/>
<line x1="1748.75" y1="818.04" x2="1753.75" y2="818.04" stroke="#F7C46C" stroke-width="0.8"/>
<line x1="1753.64" y1="820.82" x2="1753.64" y2="816.09" stroke="#F7C46C" stroke-width="0.8"/>
<line x1="1751.14" y1="816.09" x2="1756.14" y2="816.09" stroke="#F7C46C" stroke-width="0.8"/>
<line x1="1756.03" y1="818.76" x2="1756.03" y2="813.98" stroke="#F7C46C" stroke-width="0.8"/>
<line x1="1753.53" y1="813.98" x2="1758.53" y2="813.98" stroke="#F7C46C" stroke-width="0.8"/>
<line x1="1758.42" y1="816.29" x2="1758.42" y2="811.46" stroke="#F7C46C" stroke-width="0.8"/>
<line x1="1755.92" y1="811.46" x2="1760.92" y2="811.46" stroke="#F7C46C" stroke-width="0.8"/>
<line x1="1760.81" y1="813.9" x2="1760.81" y2="809.01" stroke="#F7C46C" stroke-width="0.8"/>
<line x1="1758.31" y1="809.01" x2="1763.31" y2="809.01" stroke="#F7C46C" stroke-width="0.8"/>
<line x1="1763.2" y1="812.31" x2="1763.2" y2="807.37" stroke="#F7C46C" stroke-width="0.8"/>
<line x1="1760.7" y1="807.37" x2="1765.7" y2="807.37" stroke="#F7C46C" stroke-width="0.8"/>
<line x1="1765.59" y1="810.69" x2="1765.59" y2="805.69" stroke="#F7C46C" stroke-width="0.8"/>
<line x1="1763.09" y1="805.69" x2="1768.09" y2="805.69" stroke="#F7C46C" stroke-width="0.8"/>
<line x1="1767.98" y1="808.04" x2="1767.98" y2="802.99" stroke="#F7C46C" stroke-width="0.8"/>
<line x1="1765.48" y1="802.99" x2="1770.48" y2="802.99" stroke="#F7C46C" stroke-width="0.8"/>
<line x1="1770.38" y1="806.94" x2="1770.38" y2="801.83" stroke="#F7C46C" stroke-width="0.8"/>
<line x1="1767.88" y1="801.83" x2="1772.88" y2="801.83" stroke="#F7C46C" stroke-width="0.8"/>
<line x1="1772.77" y1="805.45" x2="1772.77" y2="800.28" stroke="#F7C46C" stroke-width="0.8"/>
<line x1="1770.27" y1="800.28" x2="1775.27" y2="800.28" stroke="#F7C46C" stroke-width="0.8"/>
<line x1="1775.16" y1="803.5" x2="1775.16" y2="798.28" stroke="#F7C46C" stroke-width="0.8"/>
<line x1="1772.66" y1="798.28" x2="1777.66" y2="798.28" stroke="#F7C46C" stroke-width="0.8"/>
<line x1="1777.55" y1="801.67" x2="1777.55" y2="796.39" stroke="#F7C46C" stroke-width="0.8"/>
<line x1="1775.05" y1="796.39" x2="1780.05" y2="796.39" stroke="#F7C46C" stroke-width="0.8"/>
<line x1="1779.94" y1="799.55" x2="1779.94" y2="794.22" stroke="#F7C46C" stroke-width="0.8"/>
<line x1="1777.44" y1="794.22" x2="1782.44" y2="794.22" stroke="#F7C46C" stroke-width="0.8"/>
<line x1="1782.33" y1="798.1" x2="1782.33" y2="792.71" stroke="#F7C46C" stroke-width="0.8"/>
<line x1="1779.83" y1="792.71" x2="1784.83" y2="792.71" stroke="#F7C46C" stroke-width="0.8"/>
<line x1="1784.72" y1="798.04" x2="1784.72" y2="792.59" stroke="#F7C46C" stroke-width="0.8"/>
<line x1="1782.22" y1="792.59" x2="1787.22" y2="792.59" stroke="#F7C46C" stroke-width="0.8"/>
<line x1="1787.11" y1="796.69" x2="1787.11" y2="791.19" stroke="#F7C46C" stroke-width="0.8"/>
<line x1="1784.61" y1="791.19" x2="1789.61" y2="791.19" stroke="#F7C46C" stroke-width="0.8"/>
<line x1="1789.5" y1="796.46" x2="1789.5" y2="790.9" stroke="#F7C46C" stroke-width="0.8"/>
<line x1="1787" y1="790.9" x2="1792" y2="790.9" stroke="#F7C46C" stroke-width="0.8"/>
<line x1="1791.89" y1="795.87" x2="1791.89" y2="790.26" stroke="#F7C46C" stroke-width="0.8"/>
<line x1="1789.39" y1="790.26" x2="1794.39" y2="790.26" stroke="#F7C46C" stroke-width="0.8"/>
<line x1="1794.28" y1="794.32" x2="1794.28" y2="788.65" stroke="#F7C46C" stroke-width="0.8"/>
<line x1="1791.78" y1="788.65" x2="1796.78" y2="788.65" stroke="#F7C46C" stroke-width="0.8"/>
<line x1="1796.67" y1="793.33" x2="1796.67" y2="787.61" stroke="#F7C46C" stroke-width="0.8"/>
<line x1="1794.17" y1="787.61" x2="1799.17" y2="787.61" stroke="#F7C46C" stroke-width="0.8"/>
<line x1="1799.06" y1="792.99" x2="1799.06" y2="787.21" stroke="#F7C46C" stroke-width="0.8"/>
<line x1="1796.56" y1="787.21" x2="1801.56" y2="787.21" stroke="#F7C46C" stroke-width="0.8"/>
<line x1="1801.45" y1="791.72" x2="1801.45" y2="785.89" stroke="#F7C46C" stroke-width="0.8"/>
<line x1="1798.95" y1="785.89" x2="1803.95" y2="785.89" stroke="#F7C46C" stroke-width="0.8"/>
<line x1="1803.84" y1="790.06" x2="1803.84" y2="784.17" stroke="#F7C46C" stroke-width="0.8"/>
<line x1="1801.34" y1="784.17" x2="1806.34" y2="784.17" stroke="#F7C46C" stroke-width="0.8"/>
<line x1="1806.23" y1="789.02" x2="1806.23" y2="783.07" stroke="#F7C46C" stroke-width="0.8"/>
<line x1="1803.73" y1="783.07" x2="1808.73" y2="783.07" stroke="#F7C46C" stroke-width="0.8"/>
<line x1="1808.62" y1="788.05" x2="1808.62" y2="782.05" stroke="#F7C46C" stroke-width="0.8"/>
<line x1="1806.12" y1="782.05" x2="1811.12" y2="782.05" stroke="#F7C46C" stroke-width="0.8"/>
<line x1="1811.02" y1="787.96" x2="1811.02" y2="781.9" stroke="#F7C46C" stroke-width="0.8"/>
<line x1="1808.52" y1="781.9" x2="1813.52" y2="781.9" stroke="#F7C46C" stroke-width="0.8"/>
<line x1="1813.41" y1="786.84" x2="1813.41" y2="780.73" stroke="#F7C46C" stroke-width="0.8"/>
<line x1="1810.91" y1="780.73" x2="1815.91" y2="780.73" stroke="#F7C46C" stroke-width="0.8"/>
<line x1="1815.8" y1="785.05" x2="1815.8" y2="778.89" stroke="#F7C46C" stroke-width="0.8"/>
<line x1="1813.3" y1="778.89" x2="1818.3" y2="778.89" stroke="#F7C46C" stroke-width="0.8"/>
<line x1="1818.19" y1="784.87" x2="1818.19" y2="778.65" stroke="#F7C46C" stroke-width="0.8"/>
<line x1="1815.69" y1="778.65" x2="1820.69" y2="778.65" stroke="#F7C46C" stroke-width="0.8"/>
<line x1="1820.58" y1="784.06" x2="1820.58" y2="777.78" stroke="#F7C46C" stroke-width="0.8"/>
<line x1="1818.08" y1="777.78" x2="1823.08" y2="777.78" stroke="#F7C46C" stroke-width="0.8"/>
<line x1="1822.97" y1="782.68" x2="1822.97" y2="776.35" stroke="#F7C46C" stroke-width="0.8"/>
<line x1="1820.47" y1="776.35" x2="1825.47" y2="776.35" stroke="#F7C46C" stroke-width="0.8"/>
<line x1="1825.36" y1="781.31" x2="1825.36" y2="774.93" stroke="#F7C46C" stroke-width="0.8"/>
<line x1="1822.86" y1="774.93" x2="1827.86" y2="774.93" stroke="#F7C46C" stroke-width="0.8"/>
<line x1="1827.75" y1="780.56" x2="1827.75" y2="774.11" stroke="#F7C46C" stroke-width="0.8"/>
<line x1="1825.25" y1="774.11" x2="1830.25" y2="774.11" stroke="#F7C46C" stroke-width="0.8"/>
<line x1="1830.14" y1="779.06" x2="1830.14" y2="772.56" stroke="#F7C46C" stroke-width="0.8"/>
<line x1="1827.64" y1="772.56" x2="1832.64" y2="772.56" stroke="#F7C46C" stroke-width="0.8"/>
<line x1="1832.53" y1="777.9" x2="1832.53" y2="771.35" stroke="#F7C46C" stroke-width="0.8"/>
<line x1="1830.03" y1="771.35" x2="1835.03" y2="771.35" stroke="#F7C46C" stroke-width="0.8"/>
<line x1="1834.92" y1="777.85" x2="1834.92" y2="771.24" stroke="#F7C46C" stroke-width="0.8"/>
<line x1="1832.42" y1="771.24" x2="1837.42" y2="771.24" stroke="#F7C46C" stroke-width="0.8"/>
<line x1="1837.31" y1="776.27" x2="1837.31" y2="769.61" stroke="#F7C46C" stroke-width="0.8"/>
<line x1="1834.81" y1="769.61" x2="1839.81" y2="769.61" stroke="#F7C46C" stroke-width="0.8"/>
<line x1="1839.7" y1="774.93" x2="1839.7" y2="768.21" stroke="#F7C46C" stroke-width="0.8"/>
<line x1="1837.2" y1="768.21" x2="1842.2" y2="768.21" stroke="#F7C46C" stroke-width="0.8"/>
<line x1="1842.09" y1="774.22" x2="1842.09" y2="767.45" stroke="#F7C46C" stroke-width="0.8"/>
<line x1="1839.59" y1="767.45" x2="1844.59" y2="767.45" stroke="#F7C46C" stroke-width="0.8"/>
<line x1="1844.48" y1="772.43" x2="1844.48" y2="765.6" stroke="#F7C46C" stroke-width="0.8"/>
<line x1="1841.98" y1="765.6" x2="1846.98" y2="765.6" stroke="#F7C46C" stroke-width="0.8"/>
<line x1="1846.88" y1="771.25" x2="1846.88" y2="764.37" stroke="#F7C46C" stroke-width="0.8"/>
<line x1="1844.38" y1="764.37" x2="1849.38" y2="764.37" stroke="#F7C46C" stroke-width="0.8"/>
<line x1="1849.27" y1="769.29" x2="1849.27" y2="762.34" stroke="#F7C46C" stroke-width="0.8"/>
<line x1="1846.77" y1="762.34" x2="1851.77" y2="762.34" stroke="#F7C46C" stroke-width="0.8"/>
<line x1="1851.66" y1="766.64" x2="1851.66" y2="759.64" stroke="#F7C46C" stroke-width="0.8"/>
<line x1="1849.16" y1="759.64" x2="1854.16" y2="759.64" stroke="#F7C46C" stroke-width="0.8"/>
<line x1="1854.05" y1="764.77" x2="1854.05" y2="757.72" stroke="#F7C46C" stroke-width="0.8"/>
<line x1="1851.55" y1="757.72" x2="1856.55" y2="757.72" stroke="#F7C46C" stroke-width="0.8"/>
<line x1="1856.44" y1="762.72" x2="1856.44" y2="755.6" stroke="#F7C46C" stroke-width="0.8"/>
<line x1="1853.94" y1="755.6" x2="1858.94" y2="755.6" stroke="#F7C46C" stroke-width="0.8"/>
<line x1="1858.83" y1="759.78" x2="1858.83" y2="752.62" stroke="#F7C46C" stroke-width="0.8"/>
<line x1="1856.33" y1="752.62" x2="1861.33" y2="752.62" stroke="#F7C46C" stroke-width="0.8"/>
<line x1="1861.22" y1="757.33" x2="1861.22" y2="750.11" stroke="#F7C46C" stroke-width="0.8"/>
<line x1="1858.72" y1="750.11" x2="1863.72" y2="750.11" stroke="#F7C46C" stroke-width="0.8"/>
<line x1="1863.61" y1="754.07" x2="1863.61" y2="746.79" stroke="#F7C46C" stroke-width="0.8"/>
<line x1="1861.11" y1="746.79" x2="1866.11" y2="746.79" stroke="#F7C46C" stroke-width="0.8"/>
<line x1="1866" y1="751.39" x2="1866" y2="744.06" stroke="#F7C46C" stroke-width="0.8"/>
<line x1="1863.5" y1="744.06" x2="1868.5" y2="744.06" stroke="#F7C46C" stroke-width="0.8"/>
<line x1="1868.39" y1="747.84" x2="1868.39" y2="740.45" stroke="#F7C46C" stroke-width="0.8"/>
<line x1="1865.89" y1="740.45" x2="1870.89" y2="740.45" stroke="#F7C46C" stroke-width="0.8"/>
<line x1="1870.78" y1="745.43" x2="1870.78" y2="737.99" stroke="#F7C46C" stroke-width="0.8"/>
<line x1="1868.28" y1="737.99" x2="1873.28" y2="737.99" stroke="#F7C46C" stroke-width="0.8"/>
<line x1="1873.17" y1="741.42" x2="1873.17" y2="733.92" stroke="#F7C46C" stroke-width="0.8"/>
<line x1="1870.67" y1="733.92" x2="1875.67" y2="733.92" stroke="#F7C46C" stroke-width="0.8"/>
<line x1="1875.56" y1="738.19" x2="1875.56" y2="730.64" stroke="#F7C46C" stroke-width="0.8"/>
<line x1="1873.06" y1="730.64" x2="1878.06" y2="730.64" stroke="#F7C46C" stroke-width="0.8"/>
<line x1="1877.95" y1="735.14" x2="1877.95" y2="727.53" stroke="#F7C46C" stroke-width="0.8"/>
<line x1="1875.45" y1="727.53" x2="1880.45" y2="727.53" stroke="#F7C46C" stroke-width="0.8"/>
<line x1="1880.34" y1="732.9" x2="1880.34" y2="725.23" stroke="#F7C46C" stroke-width="0.8"/>
<line x1="1877.84" y1="725.23" x2="1882.84" y2="725.23" stroke="#F7C46C" stroke-width="0.8"/>
<line x1="1882.73" y1="729.69" x2="1882.73" y2="721.96" stroke="#F7C46C" stroke-width="0.8"/>
<line x1="1880.23" y1="721.96" x2="1885.23" y2="721.96" stroke="#F7C46C" stroke-width="0.8"/>
<line x1="1885.12" y1="727.65" x2="1885.12" y2="719.88" stroke="#F7C46C" stroke-width="0.8"/>
<line x1="1882.62" y1="719.88" x2="1887.62" y2="719.88" stroke="#F7C46C" stroke-width="0.8"/>
<line x1="1887.52" y1="724.52" x2="1887.52" y2="716.69" stroke="#F7C46C" stroke-width="0.8"/>
<line x1="1885.02" y1="716.69" x2="1890.02" y2="716.69" stroke="#F7C46C" stroke-width="0.8"/>
<line x1="1889.91" y1="721.76" x2="1889.91" y2="713.87" stroke="#F7C46C" stroke-width="0.8"/>
<line x1="1887.41" y1="713.87" x2="1892.41" y2="713.87" stroke="#F7C46C" stroke-width="0.8"/>
<line x1="1892.3" y1="718.89" x2="1892.3" y2="710.94" stroke="#F7C46C" stroke-width="0.8"/>
<line x1="1889.8" y1="710.94" x2="1894.8" y2="710.94" stroke="#F7C46C" stroke-width="0.8"/>
<line x1="1894.69" y1="715.41" x2="1894.69" y2="707.41" stroke="#F7C46C" stroke-width="0.8"/>
<line x1="1892.19" y1="707.41" x2="1897.19" y2="707.41" stroke="#F7C46C" stroke-width="0.8"/>
<line x1="1897.08" y1="713.05" x2="1897.08" y2="704.99" stroke="#F7C46C" stroke-width="0.8"/>
<line x1="1894.58" y1="704.99" x2="1899.58" y2="704.99" stroke="#F7C46C" stroke-width="0.8"/>
<line x1="1899.47" y1="709.77" x2="1899.47" y2="701.66" stroke="#F7C46C" stroke-width="0.8"/>
<line x1="1896.97" y1="701.66" x2="1901.97" y2="701.66" stroke="#F7C46C" stroke-width="0.8"/>
<line x1="1901.86" y1="706.21" x2="1901.86" y2="698.05" stroke="#F7C46C" stroke-width="0.8"/>
<line x1="1899.36" y1="698.05" x2="1904.36" y2="698.05" stroke="#F7C46C" stroke-width="0.8"/>
<line x1="1904.25" y1="703.82" x2="1904.25" y2="695.6" stroke="#F7C46C" stroke-width="0.8"/>
<line x1="1901.75" y1="695.6" x2="1906.75" y2="695.6" stroke="#F7C46C" stroke-width="0.8"/>
<line x1="1906.64" y1="699.72" x2="1906.64" y2="691.44" stroke="#F7C46C" stroke-width="0.8"/>
<line x1="1904.14" y1="691.44" x2="1909.14" y2="691.44" stroke="#F7C46C" stroke-width="0.8"/>
<line x1="1909.03" y1="696.74" x2="1909.03" y2="688.4" stroke="#F7C46C" stroke-width="0.8"/>
<line x1="1906.53" y1="688.4" x2="1911.53" y2="688.4" stroke="#F7C46C" stroke-width="0.8"/>
<line x1="1911.42" y1="694.19" x2="1911.42" y2="685.8" stroke="#F7C46C" stroke-width="0.8"/>
<line x1="1908.92" y1="685.8" x2="1913.92" y2="685.8" stroke="#F7C46C" stroke-width="0.8"/>
<line x1="1913.81" y1="691.36" x2="1913.81" y2="682.92" stroke="#F7C46C" stroke-width="0.8"/>
<line x1="1911.31" y1="682.92" x2="1916.31" y2="682.92" stroke="#F7C46C" stroke-width="0.8"/>
<line x1="1916.2" y1="688.45" x2="1916.2" y2="679.95" stroke="#F7C46C" stroke-width="0.8"/>
<line x1="1913.7" y1="679.95" x2="1918.7" y2="679.95" stroke="#F7C46C" stroke-width="0.8"/>
<line x1="1918.59" y1="686.06" x2="1918.59" y2="677.5" stroke="#F7C46C" stroke-width="0.8"/>
<line x1="1916.09" y1="677.5" x2="1921.09" y2="677.5" stroke="#F7C46C" stroke-width="0.8"/>
<line x1="1920.98" y1="683.61" x2="1920.98" y2="675" stroke="#F7C46C" stroke-width="0.8"/>
<line x1="1918.48" y1="675" x2="1923.48" y2="675" stroke="#F7C46C" stroke-width="0.8"/>
<line x1="1923.38" y1="681.97" x2="1923.38" y2="673.31" stroke="#F7C46C" stroke-width="0.8"/>
<line x1="1920.88" y1="673.31" x2="1925.88" y2="673.31" stroke="#F7C46C" stroke-width="0.8"/>
<line x1="1925.77" y1="679.25" x2="1925.77" y2="670.53" stroke="#F7C46C" stroke-width="0.8"/>
<line x1="1923.27" y1="670.53" x2="1928.27" y2="670.53" stroke="#F7C46C" stroke-width="0.8"/>
<line x1="1928.16" y1="677.88" x2="1928.16" y2="669.1" stroke="#F7C46C" stroke-width="0.8"/>
<line x1="1925.66" y1="669.1" x2="1930.66" y2="669.1" stroke="#F7C46C" stroke-width="0.8"/>
<line x1="1930.55" y1="675.59" x2="1930.55" y2="666.76" stroke="#F7C46C" stroke-width="0.8"/>
<line x1="1928.05" y1="666.76" x2="1933.05" y2="666.76" stroke="#F7C46C" stroke-width="0.8"/>
<line x1="1932.94" y1="673.72" x2="1932.94" y2="664.83" stroke="#F7C46C" stroke-width="0.8"/>
<line x1="1930.44" y1="664.83" x2="1935.44" y2="664.83" stroke="#F7C46C" stroke-width="0.8"/>
<line x1="1935.33" y1="672.4" x2="1935.33" y2="663.45" stroke="#F7C46C" stroke-width="0.8"/>
<line x1="1932.83" y1="663.45" x2="1937.83" y2="663.45" stroke="#F7C46C" stroke-width="0.8"/>
<line x1="1937.72" y1="670.17" x2="1937.72" y2="661.17" stroke="#F7C46C" stroke-width="0.8"/>
<line x1="1935.22" y1="661.17" x2="1940.22" y2="661.17" stroke="#F7C46C" stroke-width="0.8"/>
<line x1="1940.11" y1="668.32" x2="1940.11" y2="659.26" stroke="#F7C46C" stroke-width="0.8"/>
<line x1="1937.61" y1="659.26" x2="1942.61" y2="659.26" stroke="#F7C46C" stroke-width="0.8"/>
<line x1="1942.5" y1="666.6" x2="1942.5" y2="657.49" stroke="#F7C46C" stroke-width="0.8"/>
<line x1="1940" y1="657.49" x2="1945" y2="657.49" stroke="#F7C46C" stroke-width="0.8"/>
<line x1="1944.89" y1="664.63" x2="1944.89" y2="655.46" stroke="#F7C46C" stroke-width="0.8"/>
<line x1="1942.39" y1="655.46" x2="1947.39" y2="655.46" stroke="#F7C46C" stroke-width="0.8"/>
<line x1="1947.28" y1="661.91" x2="1947.28" y2="652.69" stroke="#F7C46C" stroke-width="0.8"/>
<line x1="1944.78" y1="652.69" x2="1949.78" y2="652.69" stroke="#F7C46C" stroke-width="0.8"/>
<line x1="1949.67" y1="659.97" x2="1949.67" y2="650.69" stroke="#F7C46C" stroke-width="0.8"/>
<line x1="1947.17" y1="650.69" x2="1952.17" y2="650.69" stroke="#F7C46C" stroke-width="0.8"/>
<line x1="1952.06" y1="657.69" x2="1952.06" y2="648.35" stroke="#F7C46C" stroke-width="0.8"/>
<line x1="1949.56" y1="648.35" x2="1954.56" y2="648.35" stroke="#F7C46C" stroke-width="0.8"/>
<line x1="1954.45" y1="656.35" x2="1954.45" y2="646.96" stroke="#F7C46C" stroke-width="0.8"/>
<line x1="1951.95" y1="646.96" x2="1956.95" y2="646.96" stroke="#F7C46C" stroke-width="0.8"/>
<line x1="1956.84" y1="655.57" x2="1956.84" y2="646.12" stroke="#F7C46C" stroke-width="0.8"/>
<line x1="1954.34" y1="646.12" x2="1959.34" y2="646.12" stroke="#F7C46C" stroke-width="0.8"/>
<line x1="1959.23" y1="654.28" x2="1959.23" y2="644.78" stroke="#F7C46C" stroke-width="0.8"/>
<line x1="1956.73" y1="644.78" x2="1961.73" y2="644.78" stroke="#F7C46C" stroke-width="0.8"/>
<line x1="1961.62" y1="653.38" x2="1961.62" y2="643.83" stroke="#F7C46C" stroke-width="0.8"/>
<line x1="1959.12" y1="643.83" x2="1964.12" y2="643.83" stroke="#F7C46C" stroke-width="0.8"/>
<line x1="1964.02" y1="652.32" x2="1964.02" y2="642.71" stroke="#F7C46C" stroke-width="0.8"/>
<line x1="1961.52" y1="642.71" x2="1966.52" y2="642.71" stroke="#F7C46C" stroke-width="0.8"/>
<line x1="1966.41" y1="651.73" x2="1966.41" y2="642.07" stroke="#F7C46C" stroke-width="0.8"/>
<line x1="1963.91" y1="642.07" x2="1968.91" y2="642.07" stroke="#F7C46C" stroke-width="0.8"/>
<line x1="1968.8" y1="649.95" x2="1968.8" y2="640.23" stroke="#F7C46C" stroke-width="0.8"/>
<line x1="1966.3" y1="640.23" x2="1971.3" y2="640.23" stroke="#F7C46C" stroke-width="0.8"/>
<line x1="1971.19" y1="648.67" x2="1971.19" y2="638.89" stroke="#F7C46C" stroke-width="0.8"/>
<line x1="1968.69" y1="638.89" x2="1973.69" y2="638.89" stroke="#F7C46C" stroke-width="0.8"/>
<line x1="1973.58" y1="647.25" x2="1973.58" y2="637.42" stroke="#F7C46C" stroke-width="0.8"/>
<line x1="1971.08" y1="637.42" x2="1976.08" y2="637.42" stroke="#F7C46C" stroke-width="0.8"/>
<line x1="1975.97" y1="645.56" x2="1975.97" y2="635.67" stroke="#F7C46C" stroke-width="0.8"/>
<line x1="1973.47" y1="635.67" x2="1978.47" y2="635.67" stroke="#F7C46C" stroke-width="0.8"/>
<line x1="1978.36" y1="645.33" x2="1978.36" y2="635.38" stroke="#F7C46C" stroke-width="0.8"/>
<line x1="1975.86" y1="635.38" x2="1980.86" y2="635.38" stroke="#F7C46C" stroke-width="0.8"/>
<line x1="1980.75" y1="645.19" x2="1980.75" y2="635.19" stroke="#F7C46C" stroke-width="0.8"/>
<line x1="1978.25" y1="635.19" x2="1983.25" y2="635.19" stroke="#F7C46C" stroke-width="0.8"/>
<line x1="1636.5" y1="926.85" x2="1636.5" y2="928.85" stroke="#000" stroke-width="0.7"/>
<line x1="1634" y1="928.85" x2="1639" y2="928.85" stroke="#000" stroke-width="0.7"/>
<line x1="1638.89" y1="925.11" x2="1638.89" y2="927.18" stroke="#000" stroke-width="0.7"/>
<line x1="1636.39" y1="927.18" x2="1641.39" y2="927.18" stroke="#000" stroke-width="0.7"/>
<line x1="1641.28" y1="924.17" x2="1641.28" y2="926.32" stroke="#000" stroke-width="0.7"/>
<line x1="1638.78" y1="926.32" x2="1643.78" y2="926.32" stroke="#000" stroke-width="0.7"/>
<line x1="1643.67" y1="921.94" x2="1643.67" y2="924.17" stroke="#000" stroke-width="0.7"/>
<line x1="1641.17" y1="924.17" x2="1646.17" y2="924.17" stroke="#000" stroke-width="0.7"/>
<line x1="1646.06" y1="920.96" x2="1646.06" y2="923.27" stroke="#000" stroke-width="0.7"/>
<line x1="1643.56" y1="923.27" x2="1648.56" y2="923.27" stroke="#000" stroke-width="0.7"/>
<line x1="1648.45" y1="919.22" x2="1648.45" y2="921.6" stroke="#000" stroke-width="0.7"/>
<line x1="1645.95" y1="921.6" x2="1650.95" y2="921.6" stroke="#000" stroke-width="0.7"/>
<line x1="1650.84" y1="917.31" x2="1650.84" y2="919.77" stroke="#000" stroke-width="0.7"/>
<line x1="1648.34" y1="919.77" x2="1653.34" y2="919.77" stroke="#000" stroke-width="0.7"/>
<line x1="1653.23" y1="916.68" x2="1653.23" y2="919.22" stroke="#000" stroke-width="0.7"/>
<line x1="1650.73" y1="919.22" x2="1655.73" y2="919.22" stroke="#000" stroke-width="0.7"/>
<line x1="1655.62" y1="915.09" x2="1655.62" y2="917.71" stroke="#000" stroke-width="0.7"/>
<line x1="1653.12" y1="917.71" x2="1658.12" y2="917.71" stroke="#000" stroke-width="0.7"/>
<line x1="1658.02" y1="914.55" x2="1658.02" y2="917.23" stroke="#000" stroke-width="0.7"/>
<line x1="1655.52" y1="917.23" x2="1660.52" y2="917.23" stroke="#000" stroke-width="0.7"/>
<line x1="1660.41" y1="913.08" x2="1660.41" y2="915.85" stroke="#000" stroke-width="0.7"/>
<line x1="1657.91" y1="915.85" x2="1662.91" y2="915.85" stroke="#000" stroke-width="0.7"/>
<line x1="1662.8" y1="912.08" x2="1662.8" y2="914.92" stroke="#000" stroke-width="0.7"/>
<line x1="1660.3" y1="914.92" x2="1665.3" y2="914.92" stroke="#000" stroke-width="0.7"/>
<line x1="1665.19" y1="911.46" x2="1665.19" y2="914.38" stroke="#000" stroke-width="0.7"/>
<line x1="1662.69" y1="914.38" x2="1667.69" y2="914.38" stroke="#000" stroke-width="0.7"/>
<line x1="1667.58" y1="910.71" x2="1667.58" y2="913.7" stroke="#000" stroke-width="0.7"/>
<line x1="1665.08" y1="913.7" x2="1670.08" y2="913.7" stroke="#000" stroke-width="0.7"/>
<line x1="1669.97" y1="908.33" x2="1669.97" y2="911.39" stroke="#000" stroke-width="0.7"/>
<line x1="1667.47" y1="911.39" x2="1672.47" y2="911.39" stroke="#000" stroke-width="0.7"/>
<line x1="1672.36" y1="906.91" x2="1672.36" y2="910.05" stroke="#000" stroke-width="0.7"/>
<line x1="1669.86" y1="910.05" x2="1674.86" y2="910.05" stroke="#000" stroke-width="0.7"/>
<line x1="1674.75" y1="905.86" x2="1674.75" y2="909.08" stroke="#000" stroke-width="0.7"/>
<line x1="1672.25" y1="909.08" x2="1677.25" y2="909.08" stroke="#000" stroke-width="0.7"/>
<line x1="1677.14" y1="904.7" x2="1677.14" y2="908" stroke="#000" stroke-width="0.7"/>
<line x1="1674.64" y1="908" x2="1679.64" y2="908" stroke="#000" stroke-width="0.7"/>
<line x1="1679.53" y1="902.72" x2="1679.53" y2="906.1" stroke="#000" stroke-width="0.7"/>
<line x1="1677.03" y1="906.1" x2="1682.03" y2="906.1" stroke="#000" stroke-width="0.7"/>
<line x1="1681.92" y1="900.96" x2="1681.92" y2="904.41" stroke="#000" stroke-width="0.7"/>
<line x1="1679.42" y1="904.41" x2="1684.42" y2="904.41" stroke="#000" stroke-width="0.7"/>
<line x1="1684.31" y1="900.06" x2="1684.31" y2="903.59" stroke="#000" stroke-width="0.7"/>
<line x1="1681.81" y1="903.59" x2="1686.81" y2="903.59" stroke="#000" stroke-width="0.7"/>
<line x1="1686.7" y1="897.35" x2="1686.7" y2="900.96" stroke="#000" stroke-width="0.7"/>
<line x1="1684.2" y1="900.96" x2="1689.2" y2="900.96" stroke="#000" stroke-width="0.7"/>
<line x1="1689.09" y1="896.73" x2="1689.09" y2="900.42" stroke="#000" stroke-width="0.7"/>
<line x1="1686.59" y1="900.42" x2="1691.59" y2="900.42" stroke="#000" stroke-width="0.7"/>
<line x1="1691.48" y1="894.46" x2="1691.48" y2="898.22" stroke="#000" stroke-width="0.7"/>
<line x1="1688.98" y1="898.22" x2="1693.98" y2="898.22" stroke="#000" stroke-width="0.7"/>
<line x1="1693.88" y1="892.69" x2="1693.88" y2="896.52" stroke="#000" stroke-width="0.7"/>
<line x1="1691.38" y1="896.52" x2="1696.38" y2="896.52" stroke="#000" stroke-width="0.7"/>
<line x1="1696.27" y1="889.64" x2="1696.27" y2="893.55" stroke="#000" stroke-width="0.7"/>
<line x1="1693.77" y1="893.55" x2="1698.77" y2="893.55" stroke="#000" stroke-width="0.7"/>
<line x1="1698.66" y1="886.28" x2="1698.66" y2="890.27" stroke="#000" stroke-width="0.7"/>
<line x1="1696.16" y1="890.27" x2="1701.16" y2="890.27" stroke="#000" stroke-width="0.7"/>
<line x1="1701.05" y1="883.31" x2="1701.05" y2="887.37" stroke="#000" stroke-width="0.7"/>
<line x1="1698.55" y1="887.37" x2="1703.55" y2="887.37" stroke="#000" stroke-width="0.7"/>
<line x1="1703.44" y1="879.03" x2="1703.44" y2="883.17" stroke="#000" stroke-width="0.7"/>
<line x1="1700.94" y1="883.17" x2="1705.94" y2="883.17" stroke="#000" stroke-width="0.7"/>
<line x1="1705.83" y1="876.52" x2="1705.83" y2="880.74" stroke="#000" stroke-width="0.7"/>
<line x1="1703.33" y1="880.74" x2="1708.33" y2="880.74" stroke="#000" stroke-width="0.7"/>
<line x1="1708.22" y1="873.6" x2="1708.22" y2="877.89" stroke="#000" stroke-width="0.7"/>
<line x1="1705.72" y1="877.89" x2="1710.72" y2="877.89" stroke="#000" stroke-width="0.7"/>
<line x1="1710.61" y1="870.29" x2="1710.61" y2="874.66" stroke="#000" stroke-width="0.7"/>
<line x1="1708.11" y1="874.66" x2="1713.11" y2="874.66" stroke="#000" stroke-width="0.7"/>
<line x1="1713" y1="867.82" x2="1713" y2="872.27" stroke="#000" stroke-width="0.7"/>
<line x1="1710.5" y1="872.27" x2="1715.5" y2="872.27" stroke="#000" stroke-width="0.7"/>
<line x1="1715.39" y1="864.85" x2="1715.39" y2="869.37" stroke="#000" stroke-width="0.7"/>
<line x1="1712.89" y1="869.37" x2="1717.89" y2="869.37" stroke="#000" stroke-width="0.7"/>
<line x1="1717.78" y1="862.45" x2="1717.78" y2="867.05" stroke="#000" stroke-width="0.7"/>
<line x1="1715.28" y1="867.05" x2="1720.28" y2="867.05" stroke="#000" stroke-width="0.7"/>
<line x1="1720.17" y1="855.38" x2="1720.17" y2="860.06" stroke="#000" stroke-width="0.7"/>
<line x1="1717.67" y1="860.06" x2="1722.67" y2="860.06" stroke="#000" stroke-width="0.7"/>
<line x1="1722.56" y1="852.86" x2="1722.56" y2="857.61" stroke="#000" stroke-width="0.7"/>
<line x1="1720.06" y1="857.61" x2="1725.06" y2="857.61" stroke="#000" stroke-width="0.7"/>
<line x1="1724.95" y1="849.96" x2="1724.95" y2="854.79" stroke="#000" stroke-width="0.7"/>
<line x1="1722.45" y1="854.79" x2="1727.45" y2="854.79" stroke="#000" stroke-width="0.7"/>
<line x1="1727.34" y1="847.24" x2="1727.34" y2="852.14" stroke="#000" stroke-width="0.7"/>
<line x1="1724.84" y1="852.14" x2="1729.84" y2="852.14" stroke="#000" stroke-width="0.7"/>
<line x1="1729.73" y1="844.97" x2="1729.73" y2="849.95" stroke="#000" stroke-width="0.7"/>
<line x1="1727.23" y1="849.95" x2="1732.23" y2="849.95" stroke="#000" stroke-width="0.7"/>
<line x1="1732.12" y1="842.22" x2="1732.12" y2="847.28" stroke="#000" stroke-width="0.7"/>
<line x1="1729.62" y1="847.28" x2="1734.62" y2="847.28" stroke="#000" stroke-width="0.7"/>
<line x1="1734.52" y1="839.67" x2="1734.52" y2="844.81" stroke="#000" stroke-width="0.7"/>
<line x1="1732.02" y1="844.81" x2="1737.02" y2="844.81" stroke="#000" stroke-width="0.7"/>
<line x1="1736.91" y1="838.12" x2="1736.91" y2="843.32" stroke="#000" stroke-width="0.7"/>
<line x1="1734.41" y1="843.32" x2="1739.41" y2="843.32" stroke="#000" stroke-width="0.7"/>
<line x1="1739.3" y1="835.85" x2="1739.3" y2="841.14" stroke="#000" stroke-width="0.7"/>
<line x1="1736.8" y1="841.14" x2="1741.8" y2="841.14" stroke="#000" stroke-width="0.7"/>
<line x1="1741.69" y1="833.15" x2="1741.69" y2="838.51" stroke="#000" stroke-width="0.7"/>
<line x1="1739.19" y1="838.51" x2="1744.19" y2="838.51" stroke="#000" stroke-width="0.7"/>
<line x1="1744.08" y1="831.4" x2="1744.08" y2="836.84" stroke="#000" stroke-width="0.7"/>
<line x1="1741.58" y1="836.84" x2="1746.58" y2="836.84" stroke="#000" stroke-width="0.7"/>
<line x1="1746.47" y1="829.46" x2="1746.47" y2="834.98" stroke="#000" stroke-width="0.7"/>
<line x1="1743.97" y1="834.98" x2="1748.97" y2="834.98" stroke="#000" stroke-width="0.7"/>
<line x1="1748.86" y1="828.01" x2="1748.86" y2="833.6" stroke="#000" stroke-width="0.7"/>
<line x1="1746.36" y1="833.6" x2="1751.36" y2="833.6" stroke="#000" stroke-width="0.7"/>
<line x1="1751.25" y1="825.95" x2="1751.25" y2="831.62" stroke="#000" stroke-width="0.7"/>
<line x1="1748.75" y1="831.62" x2="1753.75" y2="831.62" stroke="#000" stroke-width="0.7"/>
<line x1="1753.64" y1="823.54" x2="1753.64" y2="829.29" stroke="#000" stroke-width="0.7"/>
<line x1="1751.14" y1="829.29" x2="1756.14" y2="829.29" stroke="#000" stroke-width="0.7"/>
<line x1="1756.03" y1="822.5" x2="1756.03" y2="828.32" stroke="#000" stroke-width="0.7"/>
<line x1="1753.53" y1="828.32" x2="1758.53" y2="828.32" stroke="#000" stroke-width="0.7"/>
<line x1="1758.42" y1="819.58" x2="1758.42" y2="825.48" stroke="#000" stroke-width="0.7"/>
<line x1="1755.92" y1="825.48" x2="1760.92" y2="825.48" stroke="#000" stroke-width="0.7"/>
<line x1="1760.81" y1="818.41" x2="1760.81" y2="824.38" stroke="#000" stroke-width="0.7"/>
<line x1="1758.31" y1="824.38" x2="1763.31" y2="824.38" stroke="#000" stroke-width="0.7"/>
<line x1="1763.2" y1="817.42" x2="1763.2" y2="823.47" stroke="#000" stroke-width="0.7"/>
<line x1="1760.7" y1="823.47" x2="1765.7" y2="823.47" stroke="#000" stroke-width="0.7"/>
<line x1="1765.59" y1="815.3" x2="1765.59" y2="821.42" stroke="#000" stroke-width="0.7"/>
<line x1="1763.09" y1="821.42" x2="1768.09" y2="821.42" stroke="#000" stroke-width="0.7"/>
<line x1="1767.98" y1="814.31" x2="1767.98" y2="820.51" stroke="#000" stroke-width="0.7"/>
<line x1="1765.48" y1="820.51" x2="1770.48" y2="820.51" stroke="#000" stroke-width="0.7"/>
<line x1="1770.38" y1="812.38" x2="1770.38" y2="818.65" stroke="#000" stroke-width="0.7"/>
<line x1="1767.88" y1="818.65" x2="1772.88" y2="818.65" stroke="#000" stroke-width="0.7"/>
<line x1="1772.77" y1="811.8" x2="1772.77" y2="818.15" stroke="#000" stroke-width="0.7"/>
<line x1="1770.27" y1="818.15" x2="1775.27" y2="818.15" stroke="#000" stroke-width="0.7"/>
<line x1="1775.16" y1="810.72" x2="1775.16" y2="817.15" stroke="#000" stroke-width="0.7"/>
<line x1="1772.66" y1="817.15" x2="1777.66" y2="817.15" stroke="#000" stroke-width="0.7"/>
<line x1="1777.55" y1="809.29" x2="1777.55" y2="815.8" stroke="#000" stroke-width="0.7"/>
<line x1="1775.05" y1="815.8" x2="1780.05" y2="815.8" stroke="#000" stroke-width="0.7"/>
<line x1="1779.94" y1="808.46" x2="1779.94" y2="815.04" stroke="#000" stroke-width="0.7"/>
<line x1="1777.44" y1="815.04" x2="1782.44" y2="815.04" stroke="#000" stroke-width="0.7"/>
<line x1="1782.33" y1="806.87" x2="1782.33" y2="813.53" stroke="#000" stroke-width="0.7"/>
<line x1="1779.83" y1="813.53" x2="1784.83" y2="813.53" stroke="#000" stroke-width="0.7"/>
<line x1="1784.72" y1="806.53" x2="1784.72" y2="813.27" stroke="#000" stroke-width="0.7"/>
<line x1="1782.22" y1="813.27" x2="1787.22" y2="813.27" stroke="#000" stroke-width="0.7"/>
<line x1="1787.11" y1="805.62" x2="1787.11" y2="812.43" stroke="#000" stroke-width="0.7"/>
<line x1="1784.61" y1="812.43" x2="1789.61" y2="812.43" stroke="#000" stroke-width="0.7"/>
<line x1="1789.5" y1="804.8" x2="1789.5" y2="811.69" stroke="#000" stroke-width="0.7"/>
<line x1="1787" y1="811.69" x2="1792" y2="811.69" stroke="#000" stroke-width="0.7"/>
<line x1="1791.89" y1="803.86" x2="1791.89" y2="810.82" stroke="#000" stroke-width="0.7"/>
<line x1="1789.39" y1="810.82" x2="1794.39" y2="810.82" stroke="#000" stroke-width="0.7"/>
<line x1="1794.28" y1="803.58" x2="1794.28" y2="810.62" stroke="#000" stroke-width="0.7"/>
<line x1="1791.78" y1="810.62" x2="1796.78" y2="810.62" stroke="#000" stroke-width="0.7"/>
<line x1="1796.67" y1="803.11" x2="1796.67" y2="810.23" stroke="#000" stroke-width="0.7"/>
<line x1="1794.17" y1="810.23" x2="1799.17" y2="810.23" stroke="#000" stroke-width="0.7"/>
<line x1="1799.06" y1="801.95" x2="1799.06" y2="809.14" stroke="#000" stroke-width="0.7"/>
<line x1="1796.56" y1="809.14" x2="1801.56" y2="809.14" stroke="#000" stroke-width="0.7"/>
<line x1="1801.45" y1="801.58" x2="1801.45" y2="808.85" stroke="#000" stroke-width="0.7"/>
<line x1="1798.95" y1="808.85" x2="1803.95" y2="808.85" stroke="#000" stroke-width="0.7"/>
<line x1="1803.84" y1="800.26" x2="1803.84" y2="807.6" stroke="#000" stroke-width="0.7"/>
<line x1="1801.34" y1="807.6" x2="1806.34" y2="807.6" stroke="#000" stroke-width="0.7"/>
<line x1="1806.23" y1="800.43" x2="1806.23" y2="807.85" stroke="#000" stroke-width="0.7"/>
<line x1="1803.73" y1="807.85" x2="1808.73" y2="807.85" stroke="#000" stroke-width="0.7"/>
<line x1="1808.62" y1="799.58" x2="1808.62" y2="807.08" stroke="#000" stroke-width="0.7"/>
<line x1="1806.12" y1="807.08" x2="1811.12" y2="807.08" stroke="#000" stroke-width="0.7"/>
<line x1="1811.02" y1="799.2" x2="1811.02" y2="806.78" stroke="#000" stroke-width="0.7"/>
<line x1="1808.52" y1="806.78" x2="1813.52" y2="806.78" stroke="#000" stroke-width="0.7"/>
<line x1="1813.41" y1="798.2" x2="1813.41" y2="805.85" stroke="#000" stroke-width="0.7"/>
<line x1="1810.91" y1="805.85" x2="1815.91" y2="805.85" stroke="#000" stroke-width="0.7"/>
<line x1="1815.8" y1="796.76" x2="1815.8" y2="804.49" stroke="#000" stroke-width="0.7"/>
<line x1="1813.3" y1="804.49" x2="1818.3" y2="804.49" stroke="#000" stroke-width="0.7"/>
<line x1="1818.19" y1="796.08" x2="1818.19" y2="803.89" stroke="#000" stroke-width="0.7"/>
<line x1="1815.69" y1="803.89" x2="1820.69" y2="803.89" stroke="#000" stroke-width="0.7"/>
<line x1="1820.58" y1="795.42" x2="1820.58" y2="803.31" stroke="#000" stroke-width="0.7"/>
<line x1="1818.08" y1="803.31" x2="1823.08" y2="803.31" stroke="#000" stroke-width="0.7"/>
<line x1="1822.97" y1="793.45" x2="1822.97" y2="801.41" stroke="#000" stroke-width="0.7"/>
<line x1="1820.47" y1="801.41" x2="1825.47" y2="801.41" stroke="#000" stroke-width="0.7"/>
<line x1="1825.36" y1="792.78" x2="1825.36" y2="800.82" stroke="#000" stroke-width="0.7"/>
<line x1="1822.86" y1="800.82" x2="1827.86" y2="800.82" stroke="#000" stroke-width="0.7"/>
<line x1="1827.75" y1="791.24" x2="1827.75" y2="799.35" stroke="#000" stroke-width="0.7"/>
<line x1="1825.25" y1="799.35" x2="1830.25" y2="799.35" stroke="#000" stroke-width="0.7"/>
<line x1="1830.14" y1="789.98" x2="1830.14" y2="798.17" stroke="#000" stroke-width="0.7"/>
<line x1="1827.64" y1="798.17" x2="1832.64" y2="798.17" stroke="#000" stroke-width="0.7"/>
<line x1="1832.53" y1="788.69" x2="1832.53" y2="796.96" stroke="#000" stroke-width="0.7"/>
<line x1="1830.03" y1="796.96" x2="1835.03" y2="796.96" stroke="#000" stroke-width="0.7"/>
<line x1="1834.92" y1="788.15" x2="1834.92" y2="796.49" stroke="#000" stroke-width="0.7"/>
<line x1="1832.42" y1="796.49" x2="1837.42" y2="796.49" stroke="#000" stroke-width="0.7"/>
<line x1="1837.31" y1="785.99" x2="1837.31" y2="794.41" stroke="#000" stroke-width="0.7"/>
<line x1="1834.81" y1="794.41" x2="1839.81" y2="794.41" stroke="#000" stroke-width="0.7"/>
<line x1="1839.7" y1="784.74" x2="1839.7" y2="793.23" stroke="#000" stroke-width="0.7"/>
<line x1="1837.2" y1="793.23" x2="1842.2" y2="793.23" stroke="#000" stroke-width="0.7"/>
<line x1="1842.09" y1="783.51" x2="1842.09" y2="792.08" stroke="#000" stroke-width="0.7"/>
<line x1="1839.59" y1="792.08" x2="1844.59" y2="792.08" stroke="#000" stroke-width="0.7"/>
<line x1="1844.48" y1="782.7" x2="1844.48" y2="791.34" stroke="#000" stroke-width="0.7"/>
<line x1="1841.98" y1="791.34" x2="1846.98" y2="791.34" stroke="#000" stroke-width="0.7"/>
<line x1="1846.88" y1="779.82" x2="1846.88" y2="788.54" stroke="#000" stroke-width="0.7"/>
<line x1="1844.38" y1="788.54" x2="1849.38" y2="788.54" stroke="#000" stroke-width="0.7"/>
<line x1="1849.27" y1="778.11" x2="1849.27" y2="786.91" stroke="#000" stroke-width="0.7"/>
<line x1="1846.77" y1="786.91" x2="1851.77" y2="786.91" stroke="#000" stroke-width="0.7"/>
<line x1="1851.66" y1="776.08" x2="1851.66" y2="784.95" stroke="#000" stroke-width="0.7"/>
<line x1="1849.16" y1="784.95" x2="1854.16" y2="784.95" stroke="#000" stroke-width="0.7"/>
<line x1="1854.05" y1="774.33" x2="1854.05" y2="783.28" stroke="#000" stroke-width="0.7"/>
<line x1="1851.55" y1="783.28" x2="1856.55" y2="783.28" stroke="#000" stroke-width="0.7"/>
<line x1="1856.44" y1="772" x2="1856.44" y2="781.03" stroke="#000" stroke-width="0.7"/>
<line x1="1853.94" y1="781.03" x2="1858.94" y2="781.03" stroke="#000" stroke-width="0.7"/>
<line x1="1858.83" y1="769.43" x2="1858.83" y2="778.53" stroke="#000" stroke-width="0.7"/>
<line x1="1856.33" y1="778.53" x2="1861.33" y2="778.53" stroke="#000" stroke-width="0.7"/>
<line x1="1861.22" y1="766.1" x2="1861.22" y2="775.28" stroke="#000" stroke-width="0.7"/>
<line x1="1858.72" y1="775.28" x2="1863.72" y2="775.28" stroke="#000" stroke-width="0.7"/>
<line x1="1863.61" y1="763.63" x2="1863.61" y2="772.89" stroke="#000" stroke-width="0.7"/>
<line x1="1861.11" y1="772.89" x2="1866.11" y2="772.89" stroke="#000" stroke-width="0.7"/>
<line x1="1866" y1="760.93" x2="1866" y2="770.27" stroke="#000" stroke-width="0.7"/>
<line x1="1863.5" y1="770.27" x2="1868.5" y2="770.27" stroke="#000" stroke-width="0.7"/>
<line x1="1868.39" y1="758.93" x2="1868.39" y2="768.34" stroke="#000" stroke-width="0.7"/>
<line x1="1865.89" y1="768.34" x2="1870.89" y2="768.34" stroke="#000" stroke-width="0.7"/>
<line x1="1870.78" y1="756.39" x2="1870.78" y2="765.88" stroke="#000" stroke-width="0.7"/>
<line x1="1868.28" y1="765.88" x2="1873.28" y2="765.88" stroke="#000" stroke-width="0.7"/>
<line x1="1873.17" y1="752.79" x2="1873.17" y2="762.36" stroke="#000" stroke-width="0.7"/>
<line x1="1870.67" y1="762.36" x2="1875.67" y2="762.36" stroke="#000" stroke-width="0.7"/>
<line x1="1875.56" y1="750.19" x2="1875.56" y2="759.83" stroke="#000" stroke-width="0.7"/>
<line x1="1873.06" y1="759.83" x2="1878.06" y2="759.83" stroke="#000" stroke-width="0.7"/>
<line x1="1877.95" y1="747.58" x2="1877.95" y2="757.3" stroke="#000" stroke-width="0.7"/>
<line x1="1875.45" y1="757.3" x2="1880.45" y2="757.3" stroke="#000" stroke-width="0.7"/>
<line x1="1880.34" y1="744.72" x2="1880.34" y2="754.51" stroke="#000" stroke-width="0.7"/>
<line x1="1877.84" y1="754.51" x2="1882.84" y2="754.51" stroke="#000" stroke-width="0.7"/>
<line x1="1882.73" y1="742.15" x2="1882.73" y2="752.02" stroke="#000" stroke-width="0.7"/>
<line x1="1880.23" y1="752.02" x2="1885.23" y2="752.02" stroke="#000" stroke-width="0.7"/>
<line x1="1885.12" y1="739.41" x2="1885.12" y2="749.35" stroke="#000" stroke-width="0.7"/>
<line x1="1882.62" y1="749.35" x2="1887.62" y2="749.35" stroke="#000" stroke-width="0.7"/>
<line x1="1887.52" y1="736.15" x2="1887.52" y2="746.17" stroke="#000" stroke-width="0.7"/>
<line x1="1885.02" y1="746.17" x2="1890.02" y2="746.17" stroke="#000" stroke-width="0.7"/>
<line x1="1889.91" y1="732.97" x2="1889.91" y2="743.06" stroke="#000" stroke-width="0.7"/>
<line x1="1887.41" y1="743.06" x2="1892.41" y2="743.06" stroke="#000" stroke-width="0.7"/>
<line x1="1892.3" y1="730.6" x2="1892.3" y2="740.77" stroke="#000" stroke-width="0.7"/>
<line x1="1889.8" y1="740.77" x2="1894.8" y2="740.77" stroke="#000" stroke-width="0.7"/>
<line x1="1894.69" y1="727.67" x2="1894.69" y2="737.92" stroke="#000" stroke-width="0.7"/>
<line x1="1892.19" y1="737.92" x2="1897.19" y2="737.92" stroke="#000" stroke-width="0.7"/>
<line x1="1897.08" y1="725.03" x2="1897.08" y2="735.36" stroke="#000" stroke-width="0.7"/>
<line x1="1894.58" y1="735.36" x2="1899.58" y2="735.36" stroke="#000" stroke-width="0.7"/>
<line x1="1899.47" y1="722.63" x2="1899.47" y2="733.03" stroke="#000" stroke-width="0.7"/>
<line x1="1896.97" y1="733.03" x2="1901.97" y2="733.03" stroke="#000" stroke-width="0.7"/>
<line x1="1901.86" y1="719.45" x2="1901.86" y2="729.93" stroke="#000" stroke-width="0.7"/>
<line x1="1899.36" y1="729.93" x2="1904.36" y2="729.93" stroke="#000" stroke-width="0.7"/>
<line x1="1904.25" y1="716.37" x2="1904.25" y2="726.92" stroke="#000" stroke-width="0.7"/>
<line x1="1901.75" y1="726.92" x2="1906.75" y2="726.92" stroke="#000" stroke-width="0.7"/>
<line x1="1906.64" y1="713.62" x2="1906.64" y2="724.25" stroke="#000" stroke-width="0.7"/>
<line x1="1904.14" y1="724.25" x2="1909.14" y2="724.25" stroke="#000" stroke-width="0.7"/>
<line x1="1909.03" y1="710.82" x2="1909.03" y2="721.53" stroke="#000" stroke-width="0.7"/>
<line x1="1906.53" y1="721.53" x2="1911.53" y2="721.53" stroke="#000" stroke-width="0.7"/>
<line x1="1911.42" y1="707.54" x2="1911.42" y2="718.33" stroke="#000" stroke-width="0.7"/>
<line x1="1908.92" y1="718.33" x2="1913.92" y2="718.33" stroke="#000" stroke-width="0.7"/>
<line x1="1913.81" y1="706.17" x2="1913.81" y2="717.03" stroke="#000" stroke-width="0.7"/>
<line x1="1911.31" y1="717.03" x2="1916.31" y2="717.03" stroke="#000" stroke-width="0.7"/>
<line x1="1916.2" y1="703.63" x2="1916.2" y2="714.57" stroke="#000" stroke-width="0.7"/>
<line x1="1913.7" y1="714.57" x2="1918.7" y2="714.57" stroke="#000" stroke-width="0.7"/>
<line x1="1918.59" y1="701.35" x2="1918.59" y2="712.37" stroke="#000" stroke-width="0.7"/>
<line x1="1916.09" y1="712.37" x2="1921.09" y2="712.37" stroke="#000" stroke-width="0.7"/>
<line x1="1920.98" y1="698.97" x2="1920.98" y2="710.06" stroke="#000" stroke-width="0.7"/>
<line x1="1918.48" y1="710.06" x2="1923.48" y2="710.06" stroke="#000" stroke-width="0.7"/>
<line x1="1923.38" y1="696.57" x2="1923.38" y2="707.73" stroke="#000" stroke-width="0.7"/>
<line x1="1920.88" y1="707.73" x2="1925.88" y2="707.73" stroke="#000" stroke-width="0.7"/>
<line x1="1925.77" y1="694.66" x2="1925.77" y2="705.91" stroke="#000" stroke-width="0.7"/>
<line x1="1923.27" y1="705.91" x2="1928.27" y2="705.91" stroke="#000" stroke-width="0.7"/>
<line x1="1928.16" y1="692.4" x2="1928.16" y2="703.72" stroke="#000" stroke-width="0.7"/>
<line x1="1925.66" y1="703.72" x2="1930.66" y2="703.72" stroke="#000" stroke-width="0.7"/>
<line x1="1930.55" y1="691.12" x2="1930.55" y2="702.52" stroke="#000" stroke-width="0.7"/>
<line x1="1928.05" y1="702.52" x2="1933.05" y2="702.52" stroke="#000" stroke-width="0.7"/>
<line x1="1932.94" y1="688.52" x2="1932.94" y2="699.99" stroke="#000" stroke-width="0.7"/>
<line x1="1930.44" y1="699.99" x2="1935.44" y2="699.99" stroke="#000" stroke-width="0.7"/>
<line x1="1935.33" y1="686.61" x2="1935.33" y2="698.16" stroke="#000" stroke-width="0.7"/>
<line x1="1932.83" y1="698.16" x2="1937.83" y2="698.16" stroke="#000" stroke-width="0.7"/>
<line x1="1937.72" y1="684.87" x2="1937.72" y2="696.5" stroke="#000" stroke-width="0.7"/>
<line x1="1935.22" y1="696.5" x2="1940.22" y2="696.5" stroke="#000" stroke-width="0.7"/>
<line x1="1940.11" y1="682.9" x2="1940.11" y2="694.61" stroke="#000" stroke-width="0.7"/>
<line x1="1937.61" y1="694.61" x2="1942.61" y2="694.61" stroke="#000" stroke-width="0.7"/>
<line x1="1942.5" y1="681.25" x2="1942.5" y2="693.03" stroke="#000" stroke-width="0.7"/>
<line x1="1940" y1="693.03" x2="1945" y2="693.03" stroke="#000" stroke-width="0.7"/>
<line x1="1944.89" y1="679.23" x2="1944.89" y2="691.09" stroke="#000" stroke-width="0.7"/>
<line x1="1942.39" y1="691.09" x2="1947.39" y2="691.09" stroke="#000" stroke-width="0.7"/>
<line x1="1947.28" y1="677.5" x2="1947.28" y2="689.43" stroke="#000" stroke-width="0.7"/>
<line x1="1944.78" y1="689.43" x2="1949.78" y2="689.43" stroke="#000" stroke-width="0.7"/>
<line x1="1949.67" y1="676" x2="1949.67" y2="688.01" stroke="#000" stroke-width="0.7"/>
<line x1="1947.17" y1="688.01" x2="1952.17" y2="688.01" stroke="#000" stroke-width="0.7"/>
<line x1="1952.06" y1="674.27" x2="1952.06" y2="686.36" stroke="#000" stroke-width="0.7"/>
<line x1="1949.56" y1="686.36" x2="1954.56" y2="686.36" stroke="#000" stroke-width="0.7"/>
<line x1="1954.45" y1="673.11" x2="1954.45" y2="685.27" stroke="#000" stroke-width="0.7"/>
<line x1="1951.95" y1="685.27" x2="1956.95" y2="685.27" stroke="#000" stroke-width="0.7"/>
<line x1="1956.84" y1="671.31" x2="1956.84" y2="683.54" stroke="#000" stroke-width="0.7"/>
<line x1="1954.34" y1="683.54" x2="1959.34" y2="683.54" stroke="#000" stroke-width="0.7"/>
<line x1="1959.23" y1="670.93" x2="1959.23" y2="683.24" stroke="#000" stroke-width="0.7"/>
<line x1="1956.73" y1="683.24" x2="1961.73" y2="683.24" stroke="#000" stroke-width="0.7"/>
<line x1="1961.62" y1="669.22" x2="1961.62" y2="681.61" stroke="#000" stroke-width="0.7"/>
<line x1="1959.12" y1="681.61" x2="1964.12" y2="681.61" stroke="#000" stroke-width="0.7"/>
<line x1="1964.02" y1="667.27" x2="1964.02" y2="679.74" stroke="#000" stroke-width="0.7"/>
<line x1="1961.52" y1="679.74" x2="1966.52" y2="679.74" stroke="#000" stroke-width="0.7"/>
<line x1="1966.41" y1="665.97" x2="1966.41" y2="678.51" stroke="#000" stroke-width="0.7"/>
<line x1="1963.91" y1="678.51" x2="1968.91" y2="678.51" stroke="#000" stroke-width="0.7"/>
<line x1="1968.8" y1="664.59" x2="1968.8" y2="677.21" stroke="#000" stroke-width="0.7"/>
<line x1="1966.3" y1="677.21" x2="1971.3" y2="677.21" stroke="#000" stroke-width="0.7"/>
<line x1="1971.19" y1="663.12" x2="1971.19" y2="675.81" stroke="#000" stroke-width="0.7"/>
<line x1="1968.69" y1="675.81" x2="1973.69" y2="675.81" stroke="#000" stroke-width="0.7"/>
<line x1="1973.58" y1="661.33" x2="1973.58" y2="674.1" stroke="#000" stroke-width="0.7"/>
<line x1="1971.08" y1="674.1" x2="1976.08" y2="674.1" stroke="#000" stroke-width="0.7"/>
<line x1="1975.97" y1="661.04" x2="1975.97" y2="673.89" stroke="#000" stroke-width="0.7"/>
<line x1="1973.47" y1="673.89" x2="1978.47" y2="673.89" stroke="#000" stroke-width="0.7"/>
<line x1="1978.36" y1="660.2" x2="1978.36" y2="673.12" stroke="#000" stroke-width="0.7"/>
<line x1="1975.86" y1="673.12" x2="1980.86" y2="673.12" stroke="#000" stroke-width="0.7"/>
<line x1="1980.75" y1="658.55" x2="1980.75" y2="671.55" stroke="#000" stroke-width="0.7"/>
<line x1="1978.25" y1="671.55" x2="1983.25" y2="671.55" stroke="#000" stroke-width="0.7"/>
<g>
<circle cx="1636.5" cy="927.05" r="2.9" fill="#FED27B" stroke="#3a3020" stroke-width="0.7"/>
<circle cx="1638.89" cy="925.2" r="2.9" fill="#FED27B" stroke="#3a3020" stroke-width="0.7"/>
<circle cx="1641.28" cy="923.86" r="2.9" fill="#FED27B" stroke="#3a3020" stroke-width="0.7"/>
<circle cx="1643.67" cy="922.78" r="2.9" fill="#FED27B" stroke="#3a3020" stroke-width="0.7"/>
<circle cx="1646.06" cy="921.32" r="2.9" fill="#FED27B" stroke="#3a3020" stroke-width="0.7"/>
<circle cx="1648.45" cy="920.63" r="2.9" fill="#FED27B" stroke="#3a3020" stroke-width="0.7"/>
<circle cx="1650.84" cy="918.46" r="2.9" fill="#FED27B" stroke="#3a3020" stroke-width="0.7"/>
<circle cx="1653.23" cy="917.18" r="2.9" fill="#FED27B" stroke="#3a3020" stroke-width="0.7"/>
<circle cx="1655.62" cy="917.27" r="2.9" fill="#FED27B" stroke="#3a3020" stroke-width="0.7"/>
<circle cx="1658.02" cy="915.73" r="2.9" fill="#FED27B" stroke="#3a3020" stroke-width="0.7"/>
<circle cx="1660.41" cy="914.25" r="2.9" fill="#FED27B" stroke="#3a3020" stroke-width="0.7"/>
<circle cx="1662.8" cy="913.7" r="2.9" fill="#FED27B" stroke="#3a3020" stroke-width="0.7"/>
<circle cx="1665.19" cy="912.06" r="2.9" fill="#FED27B" stroke="#3a3020" stroke-width="0.7"/>
<circle cx="1667.58" cy="911.28" r="2.9" fill="#FED27B" stroke="#3a3020" stroke-width="0.7"/>
<circle cx="1669.97" cy="909.94" r="2.9" fill="#FED27B" stroke="#3a3020" stroke-width="0.7"/>
<circle cx="1672.36" cy="907.93" r="2.9" fill="#FED27B" stroke="#3a3020" stroke-width="0.7"/>
<circle cx="1674.75" cy="905.85" r="2.9" fill="#FED27B" stroke="#3a3020" stroke-width="0.7"/>
<circle cx="1677.14" cy="903.45" r="2.9" fill="#FED27B" stroke="#3a3020" stroke-width="0.7"/>
<circle cx="1679.53" cy="901.7" r="2.9" fill="#FED27B" stroke="#3a3020" stroke-width="0.7"/>
<circle cx="1681.92" cy="899.5" r="2.9" fill="#FED27B" stroke="#3a3020" stroke-width="0.7"/>
<circle cx="1684.31" cy="897.63" r="2.9" fill="#FED27B" stroke="#3a3020" stroke-width="0.7"/>
<circle cx="1686.7" cy="894.75" r="2.9" fill="#FED27B" stroke="#3a3020" stroke-width="0.7"/>
<circle cx="1689.09" cy="892.46" r="2.9" fill="#FED27B" stroke="#3a3020" stroke-width="0.7"/>
<circle cx="1691.48" cy="889.33" r="2.9" fill="#FED27B" stroke="#3a3020" stroke-width="0.7"/>
<circle cx="1693.88" cy="886.61" r="2.9" fill="#FED27B" stroke="#3a3020" stroke-width="0.7"/>
<circle cx="1696.27" cy="884.45" r="2.9" fill="#FED27B" stroke="#3a3020" stroke-width="0.7"/>
<circle cx="1698.66" cy="881.66" r="2.9" fill="#FED27B" stroke="#3a3020" stroke-width="0.7"/>
<circle cx="1701.05" cy="878.52" r="2.9" fill="#FED27B" stroke="#3a3020" stroke-width="0.7"/>
<circle cx="1703.44" cy="875.54" r="2.9" fill="#FED27B" stroke="#3a3020" stroke-width="0.7"/>
<circle cx="1705.83" cy="873.17" r="2.9" fill="#FED27B" stroke="#3a3020" stroke-width="0.7"/>
<circle cx="1708.22" cy="870.68" r="2.9" fill="#FED27B" stroke="#3a3020" stroke-width="0.7"/>
<circle cx="1710.61" cy="867.67" r="2.9" fill="#FED27B" stroke="#3a3020" stroke-width="0.7"/>
<circle cx="1713" cy="865.94" r="2.9" fill="#FED27B" stroke="#3a3020" stroke-width="0.7"/>
<circle cx="1715.39" cy="863.95" r="2.9" fill="#FED27B" stroke="#3a3020" stroke-width="0.7"/>
<circle cx="1717.78" cy="861.77" r="2.9" fill="#FED27B" stroke="#3a3020" stroke-width="0.7"/>
<circle cx="1720.17" cy="859.97" r="2.9" fill="#FED27B" stroke="#3a3020" stroke-width="0.7"/>
<circle cx="1722.56" cy="857.03" r="2.9" fill="#FED27B" stroke="#3a3020" stroke-width="0.7"/>
<circle cx="1724.95" cy="853.62" r="2.9" fill="#FED27B" stroke="#3a3020" stroke-width="0.7"/>
<circle cx="1727.34" cy="850.75" r="2.9" fill="#FED27B" stroke="#3a3020" stroke-width="0.7"/>
<circle cx="1729.73" cy="847.68" r="2.9" fill="#FED27B" stroke="#3a3020" stroke-width="0.7"/>
<circle cx="1732.12" cy="843.68" r="2.9" fill="#FED27B" stroke="#3a3020" stroke-width="0.7"/>
<circle cx="1734.52" cy="841.27" r="2.9" fill="#FED27B" stroke="#3a3020" stroke-width="0.7"/>
<circle cx="1736.91" cy="838.7" r="2.9" fill="#FED27B" stroke="#3a3020" stroke-width="0.7"/>
<circle cx="1739.3" cy="836.03" r="2.9" fill="#FED27B" stroke="#3a3020" stroke-width="0.7"/>
<circle cx="1741.69" cy="832.69" r="2.9" fill="#FED27B" stroke="#3a3020" stroke-width="0.7"/>
<circle cx="1744.08" cy="829.89" r="2.9" fill="#FED27B" stroke="#3a3020" stroke-width="0.7"/>
<circle cx="1746.47" cy="827.51" r="2.9" fill="#FED27B" stroke="#3a3020" stroke-width="0.7"/>
<circle cx="1748.86" cy="825.08" r="2.9" fill="#FED27B" stroke="#3a3020" stroke-width="0.7"/>
<circle cx="1751.25" cy="822.7" r="2.9" fill="#FED27B" stroke="#3a3020" stroke-width="0.7"/>
<circle cx="1753.64" cy="820.82" r="2.9" fill="#FED27B" stroke="#3a3020" stroke-width="0.7"/>
<circle cx="1756.03" cy="818.76" r="2.9" fill="#FED27B" stroke="#3a3020" stroke-width="0.7"/>
<circle cx="1758.42" cy="816.29" r="2.9" fill="#FED27B" stroke="#3a3020" stroke-width="0.7"/>
<circle cx="1760.81" cy="813.9" r="2.9" fill="#FED27B" stroke="#3a3020" stroke-width="0.7"/>
<circle cx="1763.2" cy="812.31" r="2.9" fill="#FED27B" stroke="#3a3020" stroke-width="0.7"/>
<circle cx="1765.59" cy="810.69" r="2.9" fill="#FED27B" stroke="#3a3020" stroke-width="0.7"/>
<circle cx="1767.98" cy="808.04" r="2.9" fill="#FED27B" stroke="#3a3020" stroke-width="0.7"/>
<circle cx="1770.38" cy="806.94" r="2.9" fill="#FED27B" stroke="#3a3020" stroke-width="0.7"/>
<circle cx="1772.77" cy="805.45" r="2.9" fill="#FED27B" stroke="#3a3020" stroke-width="0.7"/>
<circle cx="1775.16" cy="803.5" r="2.9" fill="#FED27B" stroke="#3a3020" stroke-width="0.7"/>
<circle cx="1777.55" cy="801.67" r="2.9" fill="#FED27B" stroke="#3a3020" stroke-width="0.7"/>
<circle cx="1779.94" cy="799.55" r="2.9" fill="#FED27B" stroke="#3a3020" stroke-width="0.7"/>
<circle cx="1782.33" cy="798.1" r="2.9" fill="#FED27B" stroke="#3a3020" stroke-width="0.7"/>
<circle cx="1784.72" cy="798.04" r="2.9" fill="#FED27B" stroke="#3a3020" stroke-width="0.7"/>
<circle cx="1787.11" cy="796.69" r="2.9" fill="#FED27B" stroke="#3a3020" stroke-width="0.7"/>
<circle cx="1789.5" cy="796.46" r="2.9" fill="#FED27B" stroke="#3a3020" stroke-width="0.7"/>
<circle cx="1791.89" cy="795.87" r="2.9" fill="#FED27B" stroke="#3a3020" stroke-width="0.7"/>
<circle cx="1794.28" cy="794.32" r="2.9" fill="#FED27B" stroke="#3a3020" stroke-width="0.7"/>
<circle cx="1796.67" cy="793.33" r="2.9" fill="#FED27B" stroke="#3a3020" stroke-width="0.7"/>
<circle cx="1799.06" cy="792.99" r="2.9" fill="#FED27B" stroke="#3a3020" stroke-width="0.7"/>
<circle cx="1801.45" cy="791.72" r="2.9" fill="#FED27B" stroke="#3a3020" stroke-width="0.7"/>
<circle cx="1803.84" cy="790.06" r="2.9" fill="#FED27B" stroke="#3a3020" stroke-width="0.7"/>
<circle cx="1806.23" cy="789.02" r="2.9" fill="#FED27B" stroke="#3a3020" stroke-width="0.7"/>
<circle cx="1808.62" cy="788.05" r="2.9" fill="#FED27B" stroke="#3a3020" stroke-width="0.7"/>
<circle cx="1811.02" cy="787.96" r="2.9" fill="#FED27B" stroke="#3a3020" stroke-width="0.7"/>
<circle cx="1813.41" cy="786.84" r="2.9" fill="#FED27B" stroke="#3a3020" stroke-width="0.7"/>
<circle cx="1815.8" cy="785.05" r="2.9" fill="#FED27B" stroke="#3a3020" stroke-width="0.7"/>
<circle cx="1818.19" cy="784.87" r="2.9" fill="#FED27B" stroke="#3a3020" stroke-width="0.7"/>
<circle cx="1820.58" cy="784.06" r="2.9" fill="#FED27B" stroke="#3a3020" stroke-width="0.7"/>
<circle cx="1822.97" cy="782.68" r="2.9" fill="#FED27B" stroke="#3a3020" stroke-width="0.7"/>
<circle cx="1825.36" cy="781.31" r="2.9" fill="#FED27B" stroke="#3a3020" stroke-width="0.7"/>
<circle cx="1827.75" cy="780.56" r="2.9" fill="#FED27B" stroke="#3a3020" stroke-width="0.7"/>
<circle cx="1830.14" cy="779.06" r="2.9" fill="#FED27B" stroke="#3a3020" stroke-width="0.7"/>
<circle cx="1832.53" cy="777.9" r="2.9" fill="#FED27B" stroke="#3a3020" stroke-width="0.7"/>
<circle cx="1834.92" cy="777.85" r="2.9" fill="#FED27B" stroke="#3a3020" stroke-width="0.7"/>
<circle cx="1837.31" cy="776.27" r="2.9" fill="#FED27B" stroke="#3a3020" stroke-width="0.7"/>
<circle cx="1839.7" cy="774.93" r="2.9" fill="#FED27B" stroke="#3a3020" stroke-width="0.7"/>
<circle cx="1842.09" cy="774.22" r="2.9" fill="#FED27B" stroke="#3a3020" stroke-width="0.7"/>
<circle cx="1844.48" cy="772.43" r="2.9" fill="#FED27B" stroke="#3a3020" stroke-width="0.7"/>
<circle cx="1846.88" cy="771.25" r="2.9" fill="#FED27B" stroke="#3a3020" stroke-width="0.7"/>
<circle cx="1849.27" cy="769.29" r="2.9" fill="#FED27B" stroke="#3a3020" stroke-width="0.7"/>
<circle cx="1851.66" cy="766.64" r="2.9" fill="#FED27B" stroke="#3a3020" stroke-width="0.7"/>
<circle cx="1854.05" cy="764.77" r="2.9" fill="#FED27B" stroke="#3a3020" stroke-width="0.7"/>
<circle cx="1856.44" cy="762.72" r="2.9" fill="#FED27B" stroke="#3a3020" stroke-width="0.7"/>
<circle cx="1858.83" cy="759.78" r="2.9" fill="#FED27B" stroke="#3a3020" stroke-width="0.7"/>
<circle cx="1861.22" cy="757.33" r="2.9" fill="#FED27B" stroke="#3a3020" stroke-width="0.7"/>
<circle cx="1863.61" cy="754.07" r="2.9" fill="#FED27B" stroke="#3a3020" stroke-width="0.7"/>
<circle cx="1866" cy="751.39" r="2.9" fill="#FED27B" stroke="#3a3020" stroke-width="0.7"/>
<circle cx="1868.39" cy="747.84" r="2.9" fill="#FED27B" stroke="#3a3020" stroke-width="0.7"/>
<circle cx="1870.78" cy="745.43" r="2.9" fill="#FED27B" stroke="#3a3020" stroke-width="0.7"/>
<circle cx="1873.17" cy="741.42" r="2.9" fill="#FED27B" stroke="#3a3020" stroke-width="0.7"/>
<circle cx="1875.56" cy="738.19" r="2.9" fill="#FED27B" stroke="#3a3020" stroke-width="0.7"/>
<circle cx="1877.95" cy="735.14" r="2.9" fill="#FED27B" stroke="#3a3020" stroke-width="0.7"/>
<circle cx="1880.34" cy="732.9" r="2.9" fill="#FED27B" stroke="#3a3020" stroke-width="0.7"/>
<circle cx="1882.73" cy="729.69" r="2.9" fill="#FED27B" stroke="#3a3020" stroke-width="0.7"/>
<circle cx="1885.12" cy="727.65" r="2.9" fill="#FED27B" stroke="#3a3020" stroke-width="0.7"/>
<circle cx="1887.52" cy="724.52" r="2.9" fill="#FED27B" stroke="#3a3020" stroke-width="0.7"/>
<circle cx="1889.91" cy="721.76" r="2.9" fill="#FED27B" stroke="#3a3020" stroke-width="0.7"/>
<circle cx="1892.3" cy="718.89" r="2.9" fill="#FED27B" stroke="#3a3020" stroke-width="0.7"/>
<circle cx="1894.69" cy="715.41" r="2.9" fill="#FED27B" stroke="#3a3020" stroke-width="0.7"/>
<circle cx="1897.08" cy="713.05" r="2.9" fill="#FED27B" stroke="#3a3020" stroke-width="0.7"/>
<circle cx="1899.47" cy="709.77" r="2.9" fill="#FED27B" stroke="#3a3020" stroke-width="0.7"/>
<circle cx="1901.86" cy="706.21" r="2.9" fill="#FED27B" stroke="#3a3020" stroke-width="0.7"/>
<circle cx="1904.25" cy="703.82" r="2.9" fill="#FED27B" stroke="#3a3020" stroke-width="0.7"/>
<circle cx="1906.64" cy="699.72" r="2.9" fill="#FED27B" stroke="#3a3020" stroke-width="0.7"/>
<circle cx="1909.03" cy="696.74" r="2.9" fill="#FED27B" stroke="#3a3020" stroke-width="0.7"/>
<circle cx="1911.42" cy="694.19" r="2.9" fill="#FED27B" stroke="#3a3020" stroke-width="0.7"/>
<circle cx="1913.81" cy="691.36" r="2.9" fill="#FED27B" stroke="#3a3020" stroke-width="0.7"/>
<circle cx="1916.2" cy="688.45" r="2.9" fill="#FED27B" stroke="#3a3020" stroke-width="0.7"/>
<circle cx="1918.59" cy="686.06" r="2.9" fill="#FED27B" stroke="#3a3020" stroke-width="0.7"/>
<circle cx="1920.98" cy="683.61" r="2.9" fill="#FED27B" stroke="#3a3020" stroke-width="0.7"/>
<circle cx="1923.38" cy="681.97" r="2.9" fill="#FED27B" stroke="#3a3020" stroke-width="0.7"/>
<circle cx="1925.77" cy="679.25" r="2.9" fill="#FED27B" stroke="#3a3020" stroke-width="0.7"/>
<circle cx="1928.16" cy="677.88" r="2.9" fill="#FED27B" stroke="#3a3020" stroke-width="0.7"/>
<circle cx="1930.55" cy="675.59" r="2.9" fill="#FED27B" stroke="#3a3020" stroke-width="0.7"/>
<circle cx="1932.94" cy="673.72" r="2.9" fill="#FED27B" stroke="#3a3020" stroke-width="0.7"/>
<circle cx="1935.33" cy="672.4" r="2.9" fill="#FED27B" stroke="#3a3020" stroke-width="0.7"/>
<circle cx="1937.72" cy="670.17" r="2.9" fill="#FED27B" stroke="#3a3020" stroke-width="0.7"/>
<circle cx="1940.11" cy="668.32" r="2.9" fill="#FED27B" stroke="#3a3020" stroke-width="0.7"/>
<circle cx="1942.5" cy="666.6" r="2.9" fill="#FED27B" stroke="#3a3020" stroke-width="0.7"/>
<circle cx="1944.89" cy="664.63" r="2.9" fill="#FED27B" stroke="#3a3020" stroke-width="0.7"/>
<circle cx="1947.28" cy="661.91" r="2.9" fill="#FED27B" stroke="#3a3020" stroke-width="0.7"/>
<circle cx="1949.67" cy="659.97" r="2.9" fill="#FED27B" stroke="#3a3020" stroke-width="0.7"/>
<circle cx="1952.06" cy="657.69" r="2.9" fill="#FED27B" stroke="#3a3020" stroke-width="0.7"/>
<circle cx="1954.45" cy="656.35" r="2.9" fill="#FED27B" stroke="#3a3020" stroke-width="0.7"/>
<circle cx="1956.84" cy="655.57" r="2.9" fill="#FED27B" stroke="#3a3020" stroke-width="0.7"/>
<circle cx="1959.23" cy="654.28" r="2.9" fill="#FED27B" stroke="#3a3020" stroke-width="0.7"/>
<circle cx="1961.62" cy="653.38" r="2.9" fill="#FED27B" stroke="#3a3020" stroke-width="0.7"/>
<circle cx="1964.02" cy="652.32" r="2.9" fill="#FED27B" stroke="#3a3020" stroke-width="0.7"/>
<circle cx="1966.41" cy="651.73" r="2.9" fill="#FED27B" stroke="#3a3020" stroke-width="0.7"/>
<circle cx="1968.8" cy="649.95" r="2.9" fill="#FED27B" stroke="#3a3020" stroke-width="0.7"/>
<circle cx="1971.19" cy="648.67" r="2.9" fill="#FED27B" stroke="#3a3020" stroke-width="0.7"/>
<circle cx="1973.58" cy="647.25" r="2.9" fill="#FED27B" stroke="#3a3020" stroke-width="0.7"/>
<circle cx="1975.97" cy="645.56" r="2.9" fill="#FED27B" stroke="#3a3020" stroke-width="0.7"/>
<circle cx="1978.36" cy="645.33" r="2.9" fill="#FED27B" stroke="#3a3020" stroke-width="0.7"/>
<circle cx="1980.75" cy="645.19" r="2.9" fill="#FED27B" stroke="#3a3020" stroke-width="0.7"/>
<circle cx="1636.5" cy="926.85" r="2.9" fill="#fff" stroke="#000" stroke-width="0.7"/>
<circle cx="1638.89" cy="925.11" r="2.9" fill="#fff" stroke="#000" stroke-width="0.7"/>
<circle cx="1641.28" cy="924.17" r="2.9" fill="#fff" stroke="#000" stroke-width="0.7"/>
<circle cx="1643.67" cy="921.94" r="2.9" fill="#fff" stroke="#000" stroke-width="0.7"/>
<circle cx="1646.06" cy="920.96" r="2.9" fill="#fff" stroke="#000" stroke-width="0.7"/>
<circle cx="1648.45" cy="919.22" r="2.9" fill="#fff" stroke="#000" stroke-width="0.7"/>
<circle cx="1650.84" cy="917.31" r="2.9" fill="#fff" stroke="#000" stroke-width="0.7"/>
<circle cx="1653.23" cy="916.68" r="2.9" fill="#fff" stroke="#000" stroke-width="0.7"/>
<circle cx="1655.62" cy="915.09" r="2.9" fill="#fff" stroke="#000" stroke-width="0.7"/>
<circle cx="1658.02" cy="914.55" r="2.9" fill="#fff" stroke="#000" stroke-width="0.7"/>
<circle cx="1660.41" cy="913.08" r="2.9" fill="#fff" stroke="#000" stroke-width="0.7"/>
<circle cx="1662.8" cy="912.08" r="2.9" fill="#fff" stroke="#000" stroke-width="0.7"/>
<circle cx="1665.19" cy="911.46" r="2.9" fill="#fff" stroke="#000" stroke-width="0.7"/>
<circle cx="1667.58" cy="910.71" r="2.9" fill="#fff" stroke="#000" stroke-width="0.7"/>
<circle cx="1669.97" cy="908.33" r="2.9" fill="#fff" stroke="#000" stroke-width="0.7"/>
<circle cx="1672.36" cy="906.91" r="2.9" fill="#fff" stroke="#000" stroke-width="0.7"/>
<circle cx="1674.75" cy="905.86" r="2.9" fill="#fff" stroke="#000" stroke-width="0.7"/>
<circle cx="1677.14" cy="904.7" r="2.9" fill="#fff" stroke="#000" stroke-width="0.7"/>
<circle cx="1679.53" cy="902.72" r="2.9" fill="#fff" stroke="#000" stroke-width="0.7"/>
<circle cx="1681.92" cy="900.96" r="2.9" fill="#fff" stroke="#000" stroke-width="0.7"/>
<circle cx="1684.31" cy="900.06" r="2.9" fill="#fff" stroke="#000" stroke-width="0.7"/>
<circle cx="1686.7" cy="897.35" r="2.9" fill="#fff" stroke="#000" stroke-width="0.7"/>
<circle cx="1689.09" cy="896.73" r="2.9" fill="#fff" stroke="#000" stroke-width="0.7"/>
<circle cx="1691.48" cy="894.46" r="2.9" fill="#fff" stroke="#000" stroke-width="0.7"/>
<circle cx="1693.88" cy="892.69" r="2.9" fill="#fff" stroke="#000" stroke-width="0.7"/>
<circle cx="1696.27" cy="889.64" r="2.9" fill="#fff" stroke="#000" stroke-width="0.7"/>
<circle cx="1698.66" cy="886.28" r="2.9" fill="#fff" stroke="#000" stroke-width="0.7"/>
<circle cx="1701.05" cy="883.31" r="2.9" fill="#fff" stroke="#000" stroke-width="0.7"/>
<circle cx="1703.44" cy="879.03" r="2.9" fill="#fff" stroke="#000" stroke-width="0.7"/>
<circle cx="1705.83" cy="876.52" r="2.9" fill="#fff" stroke="#000" stroke-width="0.7"/>
<circle cx="1708.22" cy="873.6" r="2.9" fill="#fff" stroke="#000" stroke-width="0.7"/>
<circle cx="1710.61" cy="870.29" r="2.9" fill="#fff" stroke="#000" stroke-width="0.7"/>
<circle cx="1713" cy="867.82" r="2.9" fill="#fff" stroke="#000" stroke-width="0.7"/>
<circle cx="1715.39" cy="864.85" r="2.9" fill="#fff" stroke="#000" stroke-width="0.7"/>
<circle cx="1717.78" cy="862.45" r="2.9" fill="#fff" stroke="#000" stroke-width="0.7"/>
<circle cx="1720.17" cy="855.38" r="2.9" fill="#fff" stroke="#000" stroke-width="0.7"/>
<circle cx="1722.56" cy="852.86" r="2.9" fill="#fff" stroke="#000" stroke-width="0.7"/>
<circle cx="1724.95" cy="849.96" r="2.9" fill="#fff" stroke="#000" stroke-width="0.7"/>
<circle cx="1727.34" cy="847.24" r="2.9" fill="#fff" stroke="#000" stroke-width="0.7"/>
<circle cx="1729.73" cy="844.97" r="2.9" fill="#fff" stroke="#000" stroke-width="0.7"/>
<circle cx="1732.12" cy="842.22" r="2.9" fill="#fff" stroke="#000" stroke-width="0.7"/>
<circle cx="1734.52" cy="839.67" r="2.9" fill="#fff" stroke="#000" stroke-width="0.7"/>
<circle cx="1736.91" cy="838.12" r="2.9" fill="#fff" stroke="#000" stroke-width="0.7"/>
<circle cx="1739.3" cy="835.85" r="2.9" fill="#fff" stroke="#000" stroke-width="0.7"/>
<circle cx="1741.69" cy="833.15" r="2.9" fill="#fff" stroke="#000" stroke-width="0.7"/>
<circle cx="1744.08" cy="831.4" r="2.9" fill="#fff" stroke="#000" stroke-width="0.7"/>
<circle cx="1746.47" cy="829.46" r="2.9" fill="#fff" stroke="#000" stroke-width="0.7"/>
<circle cx="1748.86" cy="828.01" r="2.9" fill="#fff" stroke="#000" stroke-width="0.7"/>
<circle cx="1751.25" cy="825.95" r="2.9" fill="#fff" stroke="#000" stroke-width="0.7"/>
<circle cx="1753.64" cy="823.54" r="2.9" fill="#fff" stroke="#000" stroke-width="0.7"/>
<circle cx="1756.03" cy="822.5" r="2.9" fill="#fff" stroke="#000" stroke-width="0.7"/>
<circle cx="1758.42" cy="819.58" r="2.9" fill="#fff" stroke="#000" stroke-width="0.7"/>
<circle cx="1760.81" cy="818.41" r="2.9" fill="#fff" stroke="#000" stroke-width="0.7"/>
<circle cx="1763.2" cy="817.42" r="2.9" fill="#fff" stroke="#000" stroke-width="0.7"/>
<circle cx="1765.59" cy="815.3" r="2.9" fill="#fff" stroke="#000" stroke-width="0.7"/>
<circle cx="1767.98" cy="814.31" r="2.9" fill="#fff" stroke="#000" stroke-width="0.7"/>
<circle cx="1770.38" cy="812.38" r="2.9" fill="#fff" stroke="#000" stroke-width="0.7"/>
<circle cx="1772.77" cy="811.8" r="2.9" fill="#fff" stroke="#000" stroke-width="0.7"/>
<circle cx="1775.16" cy="810.72" r="2.9" fill="#fff" stroke="#000" stroke-width="0.7"/>
<circle cx="1777.55" cy="809.29" r="2.9" fill="#fff" stroke="#000" stroke-width="0.7"/>
<circle cx="1779.94" cy="808.46" r="2.9" fill="#fff" stroke="#000" stroke-width="0.7"/>
<circle cx="1782.33" cy="806.87" r="2.9" fill="#fff" stroke="#000" stroke-width="0.7"/>
<circle cx="1784.72" cy="806.53" r="2.9" fill="#fff" stroke="#000" stroke-width="0.7"/>
<circle cx="1787.11" cy="805.62" r="2.9" fill="#fff" stroke="#000" stroke-width="0.7"/>
<circle cx="1789.5" cy="804.8" r="2.9" fill="#fff" stroke="#000" stroke-width="0.7"/>
<circle cx="1791.89" cy="803.86" r="2.9" fill="#fff" stroke="#000" stroke-width="0.7"/>
<circle cx="1794.28" cy="803.58" r="2.9" fill="#fff" stroke="#000" stroke-width="0.7"/>
<circle cx="1796.67" cy="803.11" r="2.9" fill="#fff" stroke="#000" stroke-width="0.7"/>
<circle cx="1799.06" cy="801.95" r="2.9" fill="#fff" stroke="#000" stroke-width="0.7"/>
<circle cx="1801.45" cy="801.58" r="2.9" fill="#fff" stroke="#000" stroke-width="0.7"/>
<circle cx="1803.84" cy="800.26" r="2.9" fill="#fff" stroke="#000" stroke-width="0.7"/>
<circle cx="1806.23" cy="800.43" r="2.9" fill="#fff" stroke="#000" stroke-width="0.7"/>
<circle cx="1808.62" cy="799.58" r="2.9" fill="#fff" stroke="#000" stroke-width="0.7"/>
<circle cx="1811.02" cy="799.2" r="2.9" fill="#fff" stroke="#000" stroke-width="0.7"/>
<circle cx="1813.41" cy="798.2" r="2.9" fill="#fff" stroke="#000" stroke-width="0.7"/>
<circle cx="1815.8" cy="796.76" r="2.9" fill="#fff" stroke="#000" stroke-width="0.7"/>
<circle cx="1818.19" cy="796.08" r="2.9" fill="#fff" stroke="#000" stroke-width="0.7"/>
<circle cx="1820.58" cy="795.42" r="2.9" fill="#fff" stroke="#000" stroke-width="0.7"/>
<circle cx="1822.97" cy="793.45" r="2.9" fill="#fff" stroke="#000" stroke-width="0.7"/>
<circle cx="1825.36" cy="792.78" r="2.9" fill="#fff" stroke="#000" stroke-width="0.7"/>
<circle cx="1827.75" cy="791.24" r="2.9" fill="#fff" stroke="#000" stroke-width="0.7"/>
<circle cx="1830.14" cy="789.98" r="2.9" fill="#fff" stroke="#000" stroke-width="0.7"/>
<circle cx="1832.53" cy="788.69" r="2.9" fill="#fff" stroke="#000" stroke-width="0.7"/>
<circle cx="1834.92" cy="788.15" r="2.9" fill="#fff" stroke="#000" stroke-width="0.7"/>
<circle cx="1837.31" cy="785.99" r="2.9" fill="#fff" stroke="#000" stroke-width="0.7"/>
<circle cx="1839.7" cy="784.74" r="2.9" fill="#fff" stroke="#000" stroke-width="0.7"/>
<circle cx="1842.09" cy="783.51" r="2.9" fill="#fff" stroke="#000" stroke-width="0.7"/>
<circle cx="1844.48" cy="782.7" r="2.9" fill="#fff" stroke="#000" stroke-width="0.7"/>
<circle cx="1846.88" cy="779.82" r="2.9" fill="#fff" stroke="#000" stroke-width="0.7"/>
<circle cx="1849.27" cy="778.11" r="2.9" fill="#fff" stroke="#000" stroke-width="0.7"/>
<circle cx="1851.66" cy="776.08" r="2.9" fill="#fff" stroke="#000" stroke-width="0.7"/>
<circle cx="1854.05" cy="774.33" r="2.9" fill="#fff" stroke="#000" stroke-width="0.7"/>
<circle cx="1856.44" cy="772" r="2.9" fill="#fff" stroke="#000" stroke-width="0.7"/>
<circle cx="1858.83" cy="769.43" r="2.9" fill="#fff" stroke="#000" stroke-width="0.7"/>
<circle cx="1861.22" cy="766.1" r="2.9" fill="#fff" stroke="#000" stroke-width="0.7"/>
<circle cx="1863.61" cy="763.63" r="2.9" fill="#fff" stroke="#000" stroke-width="0.7"/>
<circle cx="1866" cy="760.93" r="2.9" fill="#fff" stroke="#000" stroke-width="0.7"/>
<circle cx="1868.39" cy="758.93" r="2.9" fill="#fff" stroke="#000" stroke-width="0.7"/>
<circle cx="1870.78" cy="756.39" r="2.9" fill="#fff" stroke="#000" stroke-width="0.7"/>
<circle cx="1873.17" cy="752.79" r="2.9" fill="#fff" stroke="#000" stroke-width="0.7"/>
<circle cx="1875.56" cy="750.19" r="2.9" fill="#fff" stroke="#000" stroke-width="0.7"/>
<circle cx="1877.95" cy="747.58" r="2.9" fill="#fff" stroke="#000" stroke-width="0.7"/>
<circle cx="1880.34" cy="744.72" r="2.9" fill="#fff" stroke="#000" stroke-width="0.7"/>
<circle cx="1882.73" cy="742.15" r="2.9" fill="#fff" stroke="#000" stroke-width="0.7"/>
<circle cx="1885.12" cy="739.41" r="2.9" fill="#fff" stroke="#000" stroke-width="0.7"/>
<circle cx="1887.52" cy="736.15" r="2.9" fill="#fff" stroke="#000" stroke-width="0.7"/>
<circle cx="1889.91" cy="732.97" r="2.9" fill="#fff" stroke="#000" stroke-width="0.7"/>
<circle cx="1892.3" cy="730.6" r="2.9" fill="#fff" stroke="#000" stroke-width="0.7"/>
<circle cx="1894.69" cy="727.67" r="2.9" fill="#fff" stroke="#000" stroke-width="0.7"/>
<circle cx="1897.08" cy="725.03" r="2.9" fill="#fff" stroke="#000" stroke-width="0.7"/>
<circle cx="1899.47" cy="722.63" r="2.9" fill="#fff" stroke="#000" stroke-width="0.7"/>
<circle cx="1901.86" cy="719.45" r="2.9" fill="#fff" stroke="#000" stroke-width="0.7"/>
<circle cx="1904.25" cy="716.37" r="2.9" fill="#fff" stroke="#000" stroke-width="0.7"/>
<circle cx="1906.64" cy="713.62" r="2.9" fill="#fff" stroke="#000" stroke-width="0.7"/>
<circle cx="1909.03" cy="710.82" r="2.9" fill="#fff" stroke="#000" stroke-width="0.7"/>
<circle cx="1911.42" cy="707.54" r="2.9" fill="#fff" stroke="#000" stroke-width="0.7"/>
<circle cx="1913.81" cy="706.17" r="2.9" fill="#fff" stroke="#000" stroke-width="0.7"/>
<circle cx="1916.2" cy="703.63" r="2.9" fill="#fff" stroke="#000" stroke-width="0.7"/>
<circle cx="1918.59" cy="701.35" r="2.9" fill="#fff" stroke="#000" stroke-width="0.7"/>
<circle cx="1920.98" cy="698.97" r="2.9" fill="#fff" stroke="#000" stroke-width="0.7"/>
<circle cx="1923.38" cy="696.57" r="2.9" fill="#fff" stroke="#000" stroke-width="0.7"/>
<circle cx="1925.77" cy="694.66" r="2.9" fill="#fff" stroke="#000" stroke-width="0.7"/>
<circle cx="1928.16" cy="692.4" r="2.9" fill="#fff" stroke="#000" stroke-width="0.7"/>
<circle cx="1930.55" cy="691.12" r="2.9" fill="#fff" stroke="#000" stroke-width="0.7"/>
<circle cx="1932.94" cy="688.52" r="2.9" fill="#fff" stroke="#000" stroke-width="0.7"/>
<circle cx="1935.33" cy="686.61" r="2.9" fill="#fff" stroke="#000" stroke-width="0.7"/>
<circle cx="1937.72" cy="684.87" r="2.9" fill="#fff" stroke="#000" stroke-width="0.7"/>
<circle cx="1940.11" cy="682.9" r="2.9" fill="#fff" stroke="#000" stroke-width="0.7"/>
<circle cx="1942.5" cy="681.25" r="2.9" fill="#fff" stroke="#000" stroke-width="0.7"/>
<circle cx="1944.89" cy="679.23" r="2.9" fill="#fff" stroke="#000" stroke-width="0.7"/>
<circle cx="1947.28" cy="677.5" r="2.9" fill="#fff" stroke="#000" stroke-width="0.7"/>
<circle cx="1949.67" cy="676" r="2.9" fill="#fff" stroke="#000" stroke-width="0.7"/>
<circle cx="1952.06" cy="674.27" r="2.9" fill="#fff" stroke="#000" stroke-width="0.7"/>
<circle cx="1954.45" cy="673.11" r="2.9" fill="#fff" stroke="#000" stroke-width="0.7"/>
<circle cx="1956.84" cy="671.31" r="2.9" fill="#fff" stroke="#000" stroke-width="0.7"/>
<circle cx="1959.23" cy="670.93" r="2.9" fill="#fff" stroke="#000" stroke-width="0.7"/>
<circle cx="1961.62" cy="669.22" r="2.9" fill="#fff" stroke="#000" stroke-width="0.7"/>
<circle cx="1964.02" cy="667.27" r="2.9" fill="#fff" stroke="#000" stroke-width="0.7"/>
<circle cx="1966.41" cy="665.97" r="2.9" fill="#fff" stroke="#000" stroke-width="0.7"/>
<circle cx="1968.8" cy="664.59" r="2.9" fill="#fff" stroke="#000" stroke-width="0.7"/>
<circle cx="1971.19" cy="663.12" r="2.9" fill="#fff" stroke="#000" stroke-width="0.7"/>
<circle cx="1973.58" cy="661.33" r="2.9" fill="#fff" stroke="#000" stroke-width="0.7"/>
<circle cx="1975.97" cy="661.04" r="2.9" fill="#fff" stroke="#000" stroke-width="0.7"/>
<circle cx="1978.36" cy="660.2" r="2.9" fill="#fff" stroke="#000" stroke-width="0.7"/>
<circle cx="1980.75" cy="658.55" r="2.9" fill="#fff" stroke="#000" stroke-width="0.7"/>
</g>
<line x1="1649.4" y1="625.4" x2="1683.8" y2="625.4" stroke="#000" stroke-width="1.3"/>
<circle cx="1666.6" cy="625.4" r="2.9" fill="#fff" stroke="#000" stroke-width="0.8"/>
<text x="1703.2" y="634" font-size="22.7" text-anchor="start" fill="#000">Control</text>
<line x1="1789.2" y1="622.2" x2="1823.7" y2="622.2" stroke="#FDD27A" stroke-width="1.3"/>
<circle cx="1806.4" cy="622.2" r="2.9" fill="#FED27B" stroke="#000" stroke-width="0.8"/>
<text x="1843" y="633.4" font-size="22.7"><tspan font-style="italic">CerS6</tspan><tspan font-size="16.6" dy="-8.5">&#916;Nkx2.1</tspan></text>
<text x="1644" y="661.3" font-size="18.7" text-anchor="start" fill="#000">genotype: <tspan font-style="italic">P</tspan>=0.4321</text>
<text x="1644" y="682.8" font-size="18.7" text-anchor="start" fill="#000">interaction: <tspan font-style="italic">P</tspan>=0.9824</text>
<line x1="1635.1" y1="929.7" x2="1635.1" y2="609.5" stroke="#000" stroke-width="3"/>
<line x1="1622.6" y1="610.8" x2="1636.6" y2="610.8" stroke="#000" stroke-width="3"/>
<text x="1617.1" y="618.54" font-size="21.5" text-anchor="end" fill="#000">4</text>
<line x1="1622.6" y1="690.15" x2="1636.6" y2="690.15" stroke="#000" stroke-width="3"/>
<text x="1617.1" y="697.89" font-size="21.5" text-anchor="end" fill="#000">3</text>
<line x1="1622.6" y1="769.5" x2="1636.6" y2="769.5" stroke="#000" stroke-width="3"/>
<text x="1617.1" y="777.24" font-size="21.5" text-anchor="end" fill="#000">2</text>
<line x1="1622.6" y1="848.85" x2="1636.6" y2="848.85" stroke="#000" stroke-width="3"/>
<text x="1617.1" y="856.59" font-size="21.5" text-anchor="end" fill="#000">1</text>
<line x1="1622.6" y1="928.2" x2="1636.6" y2="928.2" stroke="#000" stroke-width="3"/>
<text x="1617.1" y="935.94" font-size="21.5" text-anchor="end" fill="#000">0</text>
<line x1="1622.6" y1="928.2" x2="1983" y2="928.2" stroke="#000" stroke-width="3"/>
<line x1="1636.5" y1="928.2" x2="1636.5" y2="941.3" stroke="#000" stroke-width="3"/>
<text transform="translate(1641,960) rotate(-45)" font-size="21.2" text-anchor="end" fill="#000">10:00</text>
<line x1="1674.75" y1="928.2" x2="1674.75" y2="941.3" stroke="#000" stroke-width="3"/>
<text transform="translate(1679.25,960) rotate(-45)" font-size="21.2" text-anchor="end" fill="#000">15:20</text>
<line x1="1713" y1="928.2" x2="1713" y2="941.3" stroke="#000" stroke-width="3"/>
<text transform="translate(1717.5,960) rotate(-45)" font-size="21.2" text-anchor="end" fill="#000">20:40</text>
<line x1="1751.25" y1="928.2" x2="1751.25" y2="941.3" stroke="#000" stroke-width="3"/>
<text transform="translate(1755.75,960) rotate(-45)" font-size="21.2" text-anchor="end" fill="#000">02:00</text>
<line x1="1789.5" y1="928.2" x2="1789.5" y2="941.3" stroke="#000" stroke-width="3"/>
<text transform="translate(1794,960) rotate(-45)" font-size="21.2" text-anchor="end" fill="#000">07:20</text>
<line x1="1827.75" y1="928.2" x2="1827.75" y2="941.3" stroke="#000" stroke-width="3"/>
<text transform="translate(1832.25,960) rotate(-45)" font-size="21.2" text-anchor="end" fill="#000">12:40</text>
<line x1="1866" y1="928.2" x2="1866" y2="941.3" stroke="#000" stroke-width="3"/>
<text transform="translate(1870.5,960) rotate(-45)" font-size="21.2" text-anchor="end" fill="#000">18:00</text>
<line x1="1904.25" y1="928.2" x2="1904.25" y2="941.3" stroke="#000" stroke-width="3"/>
<text transform="translate(1908.75,960) rotate(-45)" font-size="21.2" text-anchor="end" fill="#000">23:20</text>
<line x1="1942.5" y1="928.2" x2="1942.5" y2="941.3" stroke="#000" stroke-width="3"/>
<text transform="translate(1947,960) rotate(-45)" font-size="21.2" text-anchor="end" fill="#000">04:40</text>
<line x1="1980.8" y1="928.2" x2="1980.8" y2="941.3" stroke="#000" stroke-width="3"/>
<text transform="translate(1985.3,960) rotate(-45)" font-size="21.2" text-anchor="end" fill="#000">10:00</text>
<text x="1809.5" y="1022" font-size="23.3" text-anchor="middle" fill="#000">Time of day</text>
<text transform="translate(1587,769.5) rotate(-90)" font-size="23.3" text-anchor="middle" fill="#000">Cumulative food intake (g)</text>
<defs><radialGradient id="gw" cx="0.4" cy="0.4" r="0.65"><stop offset="0" stop-color="#ffffff"/><stop offset="0.6" stop-color="#e8e8e8"/><stop offset="1" stop-color="#9a9a9a"/></radialGradient><radialGradient id="go" cx="0.4" cy="0.4" r="0.65"><stop offset="0" stop-color="#FCE3AE"/><stop offset="0.6" stop-color="#F0C878"/><stop offset="1" stop-color="#B89048"/></radialGradient></defs>
<text x="3.2" y="1110" font-size="39" text-anchor="start" fill="#231F20">k</text>
<line x1="87" y1="1118" x2="122.8" y2="1118" stroke="#000" stroke-width="3"/>
<circle cx="104.9" cy="1118" r="6.1" fill="#fff" stroke="#000" stroke-width="1.6"/>
<text x="141.8" y="1125.9" font-size="22.6" text-anchor="start" fill="#000">Control</text>
<line x1="232.6" y1="1118" x2="269" y2="1118" stroke="#FDD27A" stroke-width="3"/>
<circle cx="250.8" cy="1118" r="6.1" fill="#FED27B" stroke="#000" stroke-width="1.6"/>
<text x="288" y="1128" font-size="22.6"><tspan font-style="italic">CerS6</tspan><tspan font-size="16.6" dy="-8.5">&#916;Nkx2.1</tspan></text>
<text x="107.6" y="1156" font-size="18.7" text-anchor="start" fill="#000">genotype: <tspan font-style="italic">P</tspan>=0.2729</text>
<text x="107.6" y="1177.5" font-size="18.7" text-anchor="start" fill="#000">interaction: <tspan font-style="italic">P</tspan>=0.0446</text>
<text x="103.8" y="1441.4" font-size="16.6" text-anchor="start" fill="#000">random-fed ITT</text>
<line x1="128.8" y1="1246.92" x2="128.8" y2="1221.99" stroke="#000" stroke-width="2"/>
<line x1="122.8" y1="1246.92" x2="134.8" y2="1246.92" stroke="#000" stroke-width="2"/>
<line x1="122.8" y1="1221.99" x2="134.8" y2="1221.99" stroke="#000" stroke-width="2"/>
<line x1="179.4" y1="1252.69" x2="179.4" y2="1219.34" stroke="#000" stroke-width="2"/>
<line x1="173.4" y1="1252.69" x2="185.4" y2="1252.69" stroke="#000" stroke-width="2"/>
<line x1="173.4" y1="1219.34" x2="185.4" y2="1219.34" stroke="#000" stroke-width="2"/>
<line x1="230" y1="1279.96" x2="230" y2="1250.35" stroke="#000" stroke-width="2"/>
<line x1="224" y1="1279.96" x2="236" y2="1279.96" stroke="#000" stroke-width="2"/>
<line x1="224" y1="1250.35" x2="236" y2="1250.35" stroke="#000" stroke-width="2"/>
<line x1="280" y1="1270.77" x2="280" y2="1243.65" stroke="#000" stroke-width="2"/>
<line x1="274" y1="1270.77" x2="286" y2="1270.77" stroke="#000" stroke-width="2"/>
<line x1="274" y1="1243.65" x2="286" y2="1243.65" stroke="#000" stroke-width="2"/>
<line x1="128.8" y1="1244.27" x2="128.8" y2="1220.9" stroke="#000" stroke-width="2"/>
<line x1="122.8" y1="1244.27" x2="134.8" y2="1244.27" stroke="#000" stroke-width="2"/>
<line x1="122.8" y1="1220.9" x2="134.8" y2="1220.9" stroke="#000" stroke-width="2"/>
<line x1="179.4" y1="1289.63" x2="179.4" y2="1258.46" stroke="#000" stroke-width="2"/>
<line x1="173.4" y1="1289.63" x2="185.4" y2="1289.63" stroke="#000" stroke-width="2"/>
<line x1="173.4" y1="1258.46" x2="185.4" y2="1258.46" stroke="#000" stroke-width="2"/>
<line x1="230" y1="1312.22" x2="230" y2="1279.5" stroke="#000" stroke-width="2"/>
<line x1="224" y1="1312.22" x2="236" y2="1312.22" stroke="#000" stroke-width="2"/>
<line x1="224" y1="1279.5" x2="236" y2="1279.5" stroke="#000" stroke-width="2"/>
<line x1="280" y1="1289.63" x2="280" y2="1265.94" stroke="#000" stroke-width="2"/>
<line x1="274" y1="1289.63" x2="286" y2="1289.63" stroke="#000" stroke-width="2"/>
<line x1="274" y1="1265.94" x2="286" y2="1265.94" stroke="#000" stroke-width="2"/>
<polyline points="128.8,1232.59 179.4,1274.04 230,1295.86 280,1277.78" fill="none" stroke="#FDD27A" stroke-width="3" stroke-linejoin="round"/>
<polyline points="128.8,1234.46 179.4,1236.01 230,1265.16 280,1257.21" fill="none" stroke="#000" stroke-width="3" stroke-linejoin="round"/>
<circle cx="128.8" cy="1234.46" r="6.1" fill="#fff" stroke="#000" stroke-width="1.6"/>
<circle cx="179.4" cy="1236.01" r="6.1" fill="#fff" stroke="#000" stroke-width="1.6"/>
<circle cx="230" cy="1265.16" r="6.1" fill="#fff" stroke="#000" stroke-width="1.6"/>
<circle cx="280" cy="1257.21" r="6.1" fill="#fff" stroke="#000" stroke-width="1.6"/>
<circle cx="128.8" cy="1232.59" r="6.1" fill="#FED27B" stroke="#000" stroke-width="1.6"/>
<circle cx="179.4" cy="1274.04" r="6.1" fill="#FED27B" stroke="#000" stroke-width="1.6"/>
<circle cx="230" cy="1295.86" r="6.1" fill="#FED27B" stroke="#000" stroke-width="1.6"/>
<circle cx="280" cy="1277.78" r="6.1" fill="#FED27B" stroke="#000" stroke-width="1.6"/>
<line x1="94.9" y1="1459.6" x2="94.9" y2="1145" stroke="#000" stroke-width="3"/>
<line x1="82.9" y1="1146.4" x2="96.4" y2="1146.4" stroke="#000" stroke-width="3"/>
<text x="77.4" y="1154.14" font-size="21.5" text-anchor="end" fill="#000">200</text>
<line x1="82.9" y1="1224.32" x2="96.4" y2="1224.32" stroke="#000" stroke-width="3"/>
<text x="77.4" y="1232.06" font-size="21.5" text-anchor="end" fill="#000">150</text>
<line x1="82.9" y1="1302.25" x2="96.4" y2="1302.25" stroke="#000" stroke-width="3"/>
<text x="77.4" y="1309.99" font-size="21.5" text-anchor="end" fill="#000">100</text>
<line x1="82.9" y1="1380.17" x2="96.4" y2="1380.17" stroke="#000" stroke-width="3"/>
<text x="77.4" y="1387.91" font-size="21.5" text-anchor="end" fill="#000">50</text>
<line x1="82.9" y1="1458.1" x2="96.4" y2="1458.1" stroke="#000" stroke-width="3"/>
<text x="77.4" y="1465.84" font-size="21.5" text-anchor="end" fill="#000">0</text>
<line x1="82.9" y1="1458.1" x2="313.3" y2="1458.1" stroke="#000" stroke-width="3"/>
<line x1="128.8" y1="1458.1" x2="128.8" y2="1471.4" stroke="#000" stroke-width="3"/>
<text x="128.8" y="1493" font-size="21.5" text-anchor="middle" fill="#000">0</text>
<line x1="179.4" y1="1458.1" x2="179.4" y2="1471.4" stroke="#000" stroke-width="3"/>
<text x="179.4" y="1493" font-size="21.5" text-anchor="middle" fill="#000">15</text>
<line x1="230" y1="1458.1" x2="230" y2="1471.4" stroke="#000" stroke-width="3"/>
<text x="230" y="1493" font-size="21.5" text-anchor="middle" fill="#000">30</text>
<line x1="280" y1="1458.1" x2="280" y2="1471.4" stroke="#000" stroke-width="3"/>
<text x="280" y="1493" font-size="21.5" text-anchor="middle" fill="#000">60</text>
<text x="205.7" y="1515" font-size="23.3" text-anchor="middle" fill="#000">Time (min)</text>
<text transform="translate(41.1,1302) rotate(-90)" font-size="23.3" text-anchor="middle" fill="#000">Glucose (mg/dL)</text>
<line x1="430.15" y1="1209" x2="430.15" y2="1276.7" stroke="#000" stroke-width="1.6"/>
<line x1="430.15" y1="1338.7" x2="430.15" y2="1376.7" stroke="#000" stroke-width="1.6"/>
<rect x="421.3" y="1276.7" width="17.7" height="62" fill="#fff" stroke="#000" stroke-width="1.6"/>
<line x1="421.3" y1="1317.2" x2="439" y2="1317.2" stroke="#000" stroke-width="1.6"/>
<line x1="459.4" y1="1208.7" x2="459.4" y2="1303.5" stroke="#000" stroke-width="1.6"/>
<line x1="459.4" y1="1352.7" x2="459.4" y2="1369.7" stroke="#000" stroke-width="1.6"/>
<rect x="450.4" y="1303.5" width="18" height="49.2" fill="#FED27B" stroke="#000" stroke-width="1.6"/>
<line x1="450.4" y1="1339" x2="468.4" y2="1339" stroke="#000" stroke-width="1.6"/>
<circle cx="430.13" cy="1208.99" r="4.4" fill="url(#gw)" stroke="#000" stroke-width="1.5" fill-opacity="0.6"/>
<circle cx="430.13" cy="1229.87" r="4.4" fill="url(#gw)" stroke="#000" stroke-width="1.5" fill-opacity="0.6"/>
<circle cx="428.48" cy="1270.38" r="4.4" fill="url(#gw)" stroke="#000" stroke-width="1.5" fill-opacity="0.6"/>
<circle cx="432.28" cy="1271.01" r="4.4" fill="url(#gw)" stroke="#000" stroke-width="1.5" fill-opacity="0.6"/>
<circle cx="433.54" cy="1274.18" r="4.4" fill="url(#gw)" stroke="#000" stroke-width="1.5" fill-opacity="0.6"/>
<circle cx="427.22" cy="1280.51" r="4.4" fill="url(#gw)" stroke="#000" stroke-width="1.5" fill-opacity="0.6"/>
<circle cx="430.38" cy="1282.41" r="4.4" fill="url(#gw)" stroke="#000" stroke-width="1.5" fill-opacity="0.6"/>
<circle cx="430.38" cy="1288.73" r="4.4" fill="url(#gw)" stroke="#000" stroke-width="1.5" fill-opacity="0.6"/>
<circle cx="430.38" cy="1295.06" r="4.4" fill="url(#gw)" stroke="#000" stroke-width="1.5" fill-opacity="0.6"/>
<circle cx="430.38" cy="1308.35" r="4.4" fill="url(#gw)" stroke="#000" stroke-width="1.5" fill-opacity="0.6"/>
<circle cx="430.38" cy="1326.08" r="4.4" fill="url(#gw)" stroke="#000" stroke-width="1.5" fill-opacity="0.6"/>
<circle cx="425.32" cy="1334.3" r="4.4" fill="url(#gw)" stroke="#000" stroke-width="1.5" fill-opacity="0.6"/>
<circle cx="430.38" cy="1335.57" r="4.4" fill="url(#gw)" stroke="#000" stroke-width="1.5" fill-opacity="0.6"/>
<circle cx="435.44" cy="1338.1" r="4.4" fill="url(#gw)" stroke="#000" stroke-width="1.5" fill-opacity="0.6"/>
<circle cx="430.38" cy="1341.9" r="4.4" fill="url(#gw)" stroke="#000" stroke-width="1.5" fill-opacity="0.6"/>
<circle cx="426.58" cy="1347.59" r="4.4" fill="url(#gw)" stroke="#000" stroke-width="1.5" fill-opacity="0.6"/>
<circle cx="433.54" cy="1343.8" r="4.4" fill="url(#gw)" stroke="#000" stroke-width="1.5" fill-opacity="0.6"/>
<circle cx="430.38" cy="1362.15" r="4.4" fill="url(#gw)" stroke="#000" stroke-width="1.5" fill-opacity="0.6"/>
<circle cx="430.38" cy="1376.71" r="4.4" fill="url(#gw)" stroke="#000" stroke-width="1.5" fill-opacity="0.6"/>
<circle cx="459.24" cy="1208.73" r="4.4" fill="url(#go)" stroke="#000" stroke-width="1.5" fill-opacity="0.6"/>
<circle cx="459.24" cy="1235.82" r="4.4" fill="url(#go)" stroke="#000" stroke-width="1.5" fill-opacity="0.6"/>
<circle cx="459.24" cy="1267.47" r="4.4" fill="url(#go)" stroke="#000" stroke-width="1.5" fill-opacity="0.6"/>
<circle cx="458.86" cy="1301.39" r="4.4" fill="url(#go)" stroke="#000" stroke-width="1.5" fill-opacity="0.6"/>
<circle cx="460.51" cy="1301.39" r="4.4" fill="url(#go)" stroke="#000" stroke-width="1.5" fill-opacity="0.6"/>
<circle cx="459.49" cy="1338.1" r="4.4" fill="url(#go)" stroke="#000" stroke-width="1.5" fill-opacity="0.6"/>
<circle cx="456.33" cy="1341.9" r="4.4" fill="url(#go)" stroke="#000" stroke-width="1.5" fill-opacity="0.6"/>
<circle cx="458.23" cy="1345.06" r="4.4" fill="url(#go)" stroke="#000" stroke-width="1.5" fill-opacity="0.6"/>
<circle cx="463.29" cy="1343.16" r="4.4" fill="url(#go)" stroke="#000" stroke-width="1.5" fill-opacity="0.6"/>
<circle cx="460.76" cy="1349.49" r="4.4" fill="url(#go)" stroke="#000" stroke-width="1.5" fill-opacity="0.6"/>
<circle cx="458.23" cy="1353.29" r="4.4" fill="url(#go)" stroke="#000" stroke-width="1.5" fill-opacity="0.6"/>
<circle cx="459.49" cy="1360.89" r="4.4" fill="url(#go)" stroke="#000" stroke-width="1.5" fill-opacity="0.6"/>
<circle cx="462.03" cy="1362.78" r="4.4" fill="url(#go)" stroke="#000" stroke-width="1.5" fill-opacity="0.6"/>
<circle cx="457.59" cy="1369.75" r="4.4" fill="url(#go)" stroke="#000" stroke-width="1.5" fill-opacity="0.6"/>
<line x1="410.4" y1="1456.5" x2="410.4" y2="1175" stroke="#000" stroke-width="3"/>
<line x1="398.7" y1="1176.49" x2="411.9" y2="1176.49" stroke="#000" stroke-width="3"/>
<text x="394" y="1184.23" font-size="21.5" text-anchor="end" fill="#000">15</text>
<line x1="398.7" y1="1269.33" x2="411.9" y2="1269.33" stroke="#000" stroke-width="3"/>
<text x="394" y="1277.07" font-size="21.5" text-anchor="end" fill="#000">10</text>
<line x1="398.7" y1="1362.16" x2="411.9" y2="1362.16" stroke="#000" stroke-width="3"/>
<text x="394" y="1369.9" font-size="21.5" text-anchor="end" fill="#000">5</text>
<line x1="398.7" y1="1455" x2="411.9" y2="1455" stroke="#000" stroke-width="3"/>
<text x="394" y="1462.74" font-size="21.5" text-anchor="end" fill="#000">0</text>
<line x1="398.7" y1="1455" x2="477.8" y2="1455" stroke="#000" stroke-width="3"/>
<line x1="429.7" y1="1455" x2="429.7" y2="1467.6" stroke="#000" stroke-width="3"/>
<line x1="458.9" y1="1455" x2="458.9" y2="1467.6" stroke="#000" stroke-width="3"/>
<text transform="translate(362,1315.5) rotate(-90)" font-size="21.5" text-anchor="middle" fill="#000">AUC (x1000)</text>
<text transform="translate(434.47,1486.02) rotate(-45)" font-size="21" text-anchor="end" fill="#000">Control</text>
<text transform="translate(464.25,1489.75) rotate(-45)" font-size="21" text-anchor="end"><tspan font-style="italic">CerS6</tspan><tspan font-size="15.12" dy="-7.56">&#916;Nkx2.1</tspan></text>
<text x="655.9" y="1110" font-size="39" text-anchor="start" fill="#231F20">l</text>
<line x1="782.4" y1="1119.6" x2="818.8" y2="1119.6" stroke="#000" stroke-width="3"/>
<circle cx="800.6" cy="1119.6" r="6.1" fill="#fff" stroke="#000" stroke-width="1.6"/>
<text x="837.8" y="1128.1" font-size="22.6" text-anchor="start" fill="#000">Control</text>
<line x1="926.4" y1="1118" x2="962.8" y2="1118" stroke="#FDD27A" stroke-width="3"/>
<circle cx="944.6" cy="1118" r="6.1" fill="#FED27B" stroke="#000" stroke-width="1.6"/>
<text x="983.4" y="1128" font-size="22.6"><tspan font-style="italic">CerS6</tspan><tspan font-size="16.6" dy="-8.5">&#916;Nkx2.1</tspan></text>
<text x="814" y="1156" font-size="18.7" text-anchor="start" fill="#000">genotype: <tspan font-style="italic">P</tspan>=0.2596</text>
<text x="814" y="1178.1" font-size="18.7" text-anchor="start" fill="#000">interaction: <tspan font-style="italic">P</tspan>=0.2778</text>
<text x="809.3" y="1447" font-size="16.7" text-anchor="start" fill="#000">6 hr fasted GTT</text>
<line x1="867.8" y1="1235.54" x2="867.8" y2="1216.7" stroke="#000" stroke-width="2"/>
<line x1="861.8" y1="1235.54" x2="873.8" y2="1235.54" stroke="#000" stroke-width="2"/>
<line x1="861.8" y1="1216.7" x2="873.8" y2="1216.7" stroke="#000" stroke-width="2"/>
<line x1="909" y1="1220.73" x2="909" y2="1206.08" stroke="#000" stroke-width="2"/>
<line x1="903" y1="1220.73" x2="915" y2="1220.73" stroke="#000" stroke-width="2"/>
<line x1="903" y1="1206.08" x2="915" y2="1206.08" stroke="#000" stroke-width="2"/>
<line x1="950.1" y1="1252.28" x2="950.1" y2="1230.31" stroke="#000" stroke-width="2"/>
<line x1="944.1" y1="1252.28" x2="956.1" y2="1252.28" stroke="#000" stroke-width="2"/>
<line x1="944.1" y1="1230.31" x2="956.1" y2="1230.31" stroke="#000" stroke-width="2"/>
<line x1="990.6" y1="1344.1" x2="990.6" y2="1322.13" stroke="#000" stroke-width="2"/>
<line x1="984.6" y1="1344.1" x2="996.6" y2="1344.1" stroke="#000" stroke-width="2"/>
<line x1="984.6" y1="1322.13" x2="996.6" y2="1322.13" stroke="#000" stroke-width="2"/>
<line x1="867.8" y1="1235.8" x2="867.8" y2="1216.97" stroke="#000" stroke-width="2"/>
<line x1="861.8" y1="1235.8" x2="873.8" y2="1235.8" stroke="#000" stroke-width="2"/>
<line x1="861.8" y1="1216.97" x2="873.8" y2="1216.97" stroke="#000" stroke-width="2"/>
<line x1="909" y1="1237.95" x2="909" y2="1217.44" stroke="#000" stroke-width="2"/>
<line x1="903" y1="1237.95" x2="915" y2="1237.95" stroke="#000" stroke-width="2"/>
<line x1="903" y1="1217.44" x2="915" y2="1217.44" stroke="#000" stroke-width="2"/>
<line x1="950.1" y1="1288.64" x2="950.1" y2="1256.21" stroke="#000" stroke-width="2"/>
<line x1="944.1" y1="1288.64" x2="956.1" y2="1288.64" stroke="#000" stroke-width="2"/>
<line x1="944.1" y1="1256.21" x2="956.1" y2="1256.21" stroke="#000" stroke-width="2"/>
<line x1="990.6" y1="1366.81" x2="990.6" y2="1337.51" stroke="#000" stroke-width="2"/>
<line x1="984.6" y1="1366.81" x2="996.6" y2="1366.81" stroke="#000" stroke-width="2"/>
<line x1="984.6" y1="1337.51" x2="996.6" y2="1337.51" stroke="#000" stroke-width="2"/>
<polyline points="826.7,1388.58 867.8,1226.38 909,1227.69 950.1,1272.42 990.6,1352.16" fill="none" stroke="#FDD27A" stroke-width="3" stroke-linejoin="round"/>
<polyline points="826.7,1383.87 867.8,1226.12 909,1213.41 950.1,1241.29 990.6,1333.12" fill="none" stroke="#000" stroke-width="3" stroke-linejoin="round"/>
<circle cx="826.7" cy="1383.87" r="6.1" fill="#fff" stroke="#000" stroke-width="1.6"/>
<circle cx="867.8" cy="1226.12" r="6.1" fill="#fff" stroke="#000" stroke-width="1.6"/>
<circle cx="909" cy="1213.41" r="6.1" fill="#fff" stroke="#000" stroke-width="1.6"/>
<circle cx="950.1" cy="1241.29" r="6.1" fill="#fff" stroke="#000" stroke-width="1.6"/>
<circle cx="990.6" cy="1333.12" r="6.1" fill="#fff" stroke="#000" stroke-width="1.6"/>
<circle cx="826.7" cy="1388.58" r="6.1" fill="#FED27B" stroke="#000" stroke-width="1.6"/>
<circle cx="867.8" cy="1226.38" r="6.1" fill="#FED27B" stroke="#000" stroke-width="1.6"/>
<circle cx="909" cy="1227.69" r="6.1" fill="#FED27B" stroke="#000" stroke-width="1.6"/>
<circle cx="950.1" cy="1272.42" r="6.1" fill="#FED27B" stroke="#000" stroke-width="1.6"/>
<circle cx="990.6" cy="1352.16" r="6.1" fill="#FED27B" stroke="#000" stroke-width="1.6"/>
<line x1="798.2" y1="1462.8" x2="798.2" y2="1146" stroke="#000" stroke-width="3"/>
<line x1="786.2" y1="1147.38" x2="799.7" y2="1147.38" stroke="#000" stroke-width="3"/>
<text x="780.7" y="1155.12" font-size="21.5" text-anchor="end" fill="#000">600</text>
<line x1="786.2" y1="1199.7" x2="799.7" y2="1199.7" stroke="#000" stroke-width="3"/>
<text x="780.7" y="1207.44" font-size="21.5" text-anchor="end" fill="#000">500</text>
<line x1="786.2" y1="1252.02" x2="799.7" y2="1252.02" stroke="#000" stroke-width="3"/>
<text x="780.7" y="1259.76" font-size="21.5" text-anchor="end" fill="#000">400</text>
<line x1="786.2" y1="1304.34" x2="799.7" y2="1304.34" stroke="#000" stroke-width="3"/>
<text x="780.7" y="1312.08" font-size="21.5" text-anchor="end" fill="#000">300</text>
<line x1="786.2" y1="1356.66" x2="799.7" y2="1356.66" stroke="#000" stroke-width="3"/>
<text x="780.7" y="1364.4" font-size="21.5" text-anchor="end" fill="#000">200</text>
<line x1="786.2" y1="1408.98" x2="799.7" y2="1408.98" stroke="#000" stroke-width="3"/>
<text x="780.7" y="1416.72" font-size="21.5" text-anchor="end" fill="#000">100</text>
<line x1="786.2" y1="1461.3" x2="799.7" y2="1461.3" stroke="#000" stroke-width="3"/>
<text x="780.7" y="1469.04" font-size="21.5" text-anchor="end" fill="#000">0</text>
<line x1="786.2" y1="1461.3" x2="1018.2" y2="1461.3" stroke="#000" stroke-width="3"/>
<line x1="826.7" y1="1461.3" x2="826.7" y2="1474" stroke="#000" stroke-width="3"/>
<text x="826.7" y="1496.1" font-size="21.5" text-anchor="middle" fill="#000">0</text>
<line x1="867.8" y1="1461.3" x2="867.8" y2="1474" stroke="#000" stroke-width="3"/>
<text x="867.8" y="1496.1" font-size="21.5" text-anchor="middle" fill="#000">15</text>
<line x1="909" y1="1461.3" x2="909" y2="1474" stroke="#000" stroke-width="3"/>
<text x="909" y="1496.1" font-size="21.5" text-anchor="middle" fill="#000">30</text>
<line x1="950.1" y1="1461.3" x2="950.1" y2="1474" stroke="#000" stroke-width="3"/>
<text x="950.1" y="1496.1" font-size="21.5" text-anchor="middle" fill="#000">60</text>
<line x1="990.6" y1="1461.3" x2="990.6" y2="1474" stroke="#000" stroke-width="3"/>
<text x="990.6" y="1496.1" font-size="21.5" text-anchor="middle" fill="#000">120</text>
<text x="909" y="1519.9" font-size="23.3" text-anchor="middle" fill="#000">Time (min)</text>
<text transform="translate(742.8,1305.5) rotate(-90)" font-size="23.3" text-anchor="middle" fill="#000">Glucose (mg/dL)</text>
<line x1="1167.4" y1="1248.35" x2="1167.4" y2="1281.89" stroke="#000" stroke-width="1.6"/>
<line x1="1167.4" y1="1321.06" x2="1167.4" y2="1354.78" stroke="#000" stroke-width="1.6"/>
<rect x="1158.4" y="1281.89" width="18" height="39.16" fill="#fff" stroke="#000" stroke-width="1.6"/>
<line x1="1158.4" y1="1303.85" x2="1176.4" y2="1303.85" stroke="#000" stroke-width="1.6"/>
<line x1="1197.3" y1="1222.01" x2="1197.3" y2="1291.55" stroke="#000" stroke-width="1.6"/>
<line x1="1197.3" y1="1356.18" x2="1197.3" y2="1393.42" stroke="#000" stroke-width="1.6"/>
<rect x="1188.1" y="1291.55" width="18.4" height="64.63" fill="#FED27B" stroke="#000" stroke-width="1.6"/>
<line x1="1188.1" y1="1313.68" x2="1206.5" y2="1313.68" stroke="#000" stroke-width="1.6"/>
<circle cx="1166.9" cy="1247.09" r="4.4" fill="url(#gw)" stroke="#000" stroke-width="1.5" fill-opacity="0.6"/>
<circle cx="1163.73" cy="1257.85" r="4.4" fill="url(#gw)" stroke="#000" stroke-width="1.5" fill-opacity="0.6"/>
<circle cx="1167.85" cy="1265.13" r="4.4" fill="url(#gw)" stroke="#000" stroke-width="1.5" fill-opacity="0.6"/>
<circle cx="1162.15" cy="1274.62" r="4.4" fill="url(#gw)" stroke="#000" stroke-width="1.5" fill-opacity="0.6"/>
<circle cx="1168.48" cy="1282.53" r="4.4" fill="url(#gw)" stroke="#000" stroke-width="1.5" fill-opacity="0.6"/>
<circle cx="1172.59" cy="1285.06" r="4.4" fill="url(#gw)" stroke="#000" stroke-width="1.5" fill-opacity="0.6"/>
<circle cx="1160.57" cy="1290.44" r="4.4" fill="url(#gw)" stroke="#000" stroke-width="1.5" fill-opacity="0.6"/>
<circle cx="1165.32" cy="1298.35" r="4.4" fill="url(#gw)" stroke="#000" stroke-width="1.5" fill-opacity="0.6"/>
<circle cx="1171.65" cy="1304.68" r="4.4" fill="url(#gw)" stroke="#000" stroke-width="1.5" fill-opacity="0.6"/>
<circle cx="1158.99" cy="1307.85" r="4.4" fill="url(#gw)" stroke="#000" stroke-width="1.5" fill-opacity="0.6"/>
<circle cx="1167.85" cy="1312.59" r="4.4" fill="url(#gw)" stroke="#000" stroke-width="1.5" fill-opacity="0.6"/>
<circle cx="1174.81" cy="1314.18" r="4.4" fill="url(#gw)" stroke="#000" stroke-width="1.5" fill-opacity="0.6"/>
<circle cx="1162.15" cy="1317.34" r="4.4" fill="url(#gw)" stroke="#000" stroke-width="1.5" fill-opacity="0.6"/>
<circle cx="1169.11" cy="1322.09" r="4.4" fill="url(#gw)" stroke="#000" stroke-width="1.5" fill-opacity="0.6"/>
<circle cx="1165.32" cy="1330" r="4.4" fill="url(#gw)" stroke="#000" stroke-width="1.5" fill-opacity="0.6"/>
<circle cx="1171.65" cy="1333.16" r="4.4" fill="url(#gw)" stroke="#000" stroke-width="1.5" fill-opacity="0.6"/>
<circle cx="1162.15" cy="1336.33" r="4.4" fill="url(#gw)" stroke="#000" stroke-width="1.5" fill-opacity="0.6"/>
<circle cx="1167.85" cy="1342.66" r="4.4" fill="url(#gw)" stroke="#000" stroke-width="1.5" fill-opacity="0.6"/>
<circle cx="1166.9" cy="1353.73" r="4.4" fill="url(#gw)" stroke="#000" stroke-width="1.5" fill-opacity="0.6"/>
<circle cx="1196.96" cy="1221.77" r="4.4" fill="url(#go)" stroke="#000" stroke-width="1.5" fill-opacity="0.6"/>
<circle cx="1197.59" cy="1236.01" r="4.4" fill="url(#go)" stroke="#000" stroke-width="1.5" fill-opacity="0.6"/>
<circle cx="1197.59" cy="1264.49" r="4.4" fill="url(#go)" stroke="#000" stroke-width="1.5" fill-opacity="0.6"/>
<circle cx="1197.59" cy="1277.78" r="4.4" fill="url(#go)" stroke="#000" stroke-width="1.5" fill-opacity="0.6"/>
<circle cx="1198.54" cy="1288.86" r="4.4" fill="url(#go)" stroke="#000" stroke-width="1.5" fill-opacity="0.6"/>
<circle cx="1194.43" cy="1295.19" r="4.4" fill="url(#go)" stroke="#000" stroke-width="1.5" fill-opacity="0.6"/>
<circle cx="1200.13" cy="1301.52" r="4.4" fill="url(#go)" stroke="#000" stroke-width="1.5" fill-opacity="0.6"/>
<circle cx="1192.22" cy="1314.18" r="4.4" fill="url(#go)" stroke="#000" stroke-width="1.5" fill-opacity="0.6"/>
<circle cx="1198.54" cy="1314.18" r="4.4" fill="url(#go)" stroke="#000" stroke-width="1.5" fill-opacity="0.6"/>
<circle cx="1202.66" cy="1315.76" r="4.4" fill="url(#go)" stroke="#000" stroke-width="1.5" fill-opacity="0.6"/>
<circle cx="1196.01" cy="1321.14" r="4.4" fill="url(#go)" stroke="#000" stroke-width="1.5" fill-opacity="0.6"/>
<circle cx="1199.49" cy="1333.16" r="4.4" fill="url(#go)" stroke="#000" stroke-width="1.5" fill-opacity="0.6"/>
<circle cx="1193.8" cy="1342.66" r="4.4" fill="url(#go)" stroke="#000" stroke-width="1.5" fill-opacity="0.6"/>
<circle cx="1196.33" cy="1354.68" r="4.4" fill="url(#go)" stroke="#000" stroke-width="1.5" fill-opacity="0.6"/>
<circle cx="1193.16" cy="1360.06" r="4.4" fill="url(#go)" stroke="#000" stroke-width="1.5" fill-opacity="0.6"/>
<circle cx="1200.13" cy="1361.01" r="4.4" fill="url(#go)" stroke="#000" stroke-width="1.5" fill-opacity="0.6"/>
<circle cx="1197.59" cy="1390.13" r="4.4" fill="url(#go)" stroke="#000" stroke-width="1.5" fill-opacity="0.6"/>
<circle cx="1195.38" cy="1393.29" r="4.4" fill="url(#go)" stroke="#000" stroke-width="1.5" fill-opacity="0.6"/>
<line x1="1147.9" y1="1460.6" x2="1147.9" y2="1176.6" stroke="#000" stroke-width="3"/>
<line x1="1135.3" y1="1178.1" x2="1149.4" y2="1178.1" stroke="#000" stroke-width="3"/>
<text x="1129.9" y="1185.84" font-size="21.5" text-anchor="end" fill="#000">80</text>
<line x1="1135.3" y1="1248.35" x2="1149.4" y2="1248.35" stroke="#000" stroke-width="3"/>
<text x="1129.9" y="1256.09" font-size="21.5" text-anchor="end" fill="#000">60</text>
<line x1="1135.3" y1="1318.6" x2="1149.4" y2="1318.6" stroke="#000" stroke-width="3"/>
<text x="1129.9" y="1326.34" font-size="21.5" text-anchor="end" fill="#000">40</text>
<line x1="1135.3" y1="1388.85" x2="1149.4" y2="1388.85" stroke="#000" stroke-width="3"/>
<text x="1129.9" y="1396.59" font-size="21.5" text-anchor="end" fill="#000">20</text>
<line x1="1135.3" y1="1459.1" x2="1149.4" y2="1459.1" stroke="#000" stroke-width="3"/>
<text x="1129.9" y="1466.84" font-size="21.5" text-anchor="end" fill="#000">0</text>
<line x1="1135.3" y1="1459.1" x2="1215.3" y2="1459.1" stroke="#000" stroke-width="3"/>
<line x1="1166.9" y1="1459.1" x2="1166.9" y2="1472.4" stroke="#000" stroke-width="3"/>
<line x1="1197" y1="1459.1" x2="1197" y2="1472.4" stroke="#000" stroke-width="3"/>
<text transform="translate(1095.7,1318) rotate(-90)" font-size="21.5" text-anchor="middle" fill="#000">AUC (x1000)</text>
<text transform="translate(1171.67,1490.12) rotate(-45)" font-size="21" text-anchor="end" fill="#000">Control</text>
<text transform="translate(1202.35,1493.85) rotate(-45)" font-size="21" text-anchor="end"><tspan font-style="italic">CerS6</tspan><tspan font-size="15.12" dy="-7.56">&#916;Nkx2.1</tspan></text>
<text x="1381.7" y="1109.1" font-size="39" text-anchor="start" fill="#231F20">m</text>
<line x1="1516.2" y1="1116.4" x2="1552.9" y2="1116.4" stroke="#000" stroke-width="3"/>
<circle cx="1534.55" cy="1116.4" r="6.1" fill="#fff" stroke="#000" stroke-width="1.6"/>
<text x="1571.6" y="1124.9" font-size="22.6" text-anchor="start" fill="#000">Control</text>
<line x1="1664.3" y1="1116.4" x2="1700.7" y2="1116.4" stroke="#FDD27A" stroke-width="3"/>
<circle cx="1682.5" cy="1116.4" r="6.1" fill="#FED27B" stroke="#000" stroke-width="1.6"/>
<text x="1720.6" y="1126.8" font-size="22.6"><tspan font-style="italic">CerS6</tspan><tspan font-size="16.6" dy="-8.5">&#916;Nkx2.1</tspan></text>
<text x="1544" y="1152.2" font-size="18.7" text-anchor="start" fill="#000">genotype: <tspan font-style="italic">P</tspan>=0.0095</text>
<text x="1544" y="1174.3" font-size="18.7" text-anchor="start" fill="#000">interaction: <tspan font-style="italic">P</tspan>=0.2177</text>
<text x="1540.9" y="1443.9" font-size="16.7" text-anchor="start" fill="#000">16 hr fasted GTT</text>
<line x1="1597.8" y1="1242.9" x2="1597.8" y2="1219.19" stroke="#000" stroke-width="2"/>
<line x1="1591.8" y1="1242.9" x2="1603.8" y2="1242.9" stroke="#000" stroke-width="2"/>
<line x1="1591.8" y1="1219.19" x2="1603.8" y2="1219.19" stroke="#000" stroke-width="2"/>
<line x1="1639.6" y1="1212.77" x2="1639.6" y2="1192.92" stroke="#000" stroke-width="2"/>
<line x1="1633.6" y1="1212.77" x2="1645.6" y2="1212.77" stroke="#000" stroke-width="2"/>
<line x1="1633.6" y1="1192.92" x2="1645.6" y2="1192.92" stroke="#000" stroke-width="2"/>
<line x1="1680.8" y1="1261.33" x2="1680.8" y2="1227.91" stroke="#000" stroke-width="2"/>
<line x1="1674.8" y1="1261.33" x2="1686.8" y2="1261.33" stroke="#000" stroke-width="2"/>
<line x1="1674.8" y1="1227.91" x2="1686.8" y2="1227.91" stroke="#000" stroke-width="2"/>
<line x1="1721.3" y1="1326.4" x2="1721.3" y2="1274.59" stroke="#000" stroke-width="2"/>
<line x1="1715.3" y1="1326.4" x2="1727.3" y2="1326.4" stroke="#000" stroke-width="2"/>
<line x1="1715.3" y1="1274.59" x2="1727.3" y2="1274.59" stroke="#000" stroke-width="2"/>
<line x1="1597.8" y1="1287.44" x2="1597.8" y2="1263.42" stroke="#000" stroke-width="2"/>
<line x1="1591.8" y1="1287.44" x2="1603.8" y2="1287.44" stroke="#000" stroke-width="2"/>
<line x1="1591.8" y1="1263.42" x2="1603.8" y2="1263.42" stroke="#000" stroke-width="2"/>
<line x1="1639.6" y1="1248.54" x2="1639.6" y2="1219.82" stroke="#000" stroke-width="2"/>
<line x1="1633.6" y1="1248.54" x2="1645.6" y2="1248.54" stroke="#000" stroke-width="2"/>
<line x1="1633.6" y1="1219.82" x2="1645.6" y2="1219.82" stroke="#000" stroke-width="2"/>
<line x1="1680.8" y1="1306.76" x2="1680.8" y2="1279.61" stroke="#000" stroke-width="2"/>
<line x1="1674.8" y1="1306.76" x2="1686.8" y2="1306.76" stroke="#000" stroke-width="2"/>
<line x1="1674.8" y1="1279.61" x2="1686.8" y2="1279.61" stroke="#000" stroke-width="2"/>
<line x1="1721.3" y1="1376.21" x2="1721.3" y2="1346.97" stroke="#000" stroke-width="2"/>
<line x1="1715.3" y1="1376.21" x2="1727.3" y2="1376.21" stroke="#000" stroke-width="2"/>
<line x1="1715.3" y1="1346.97" x2="1727.3" y2="1346.97" stroke="#000" stroke-width="2"/>
<polyline points="1557.3,1416.11 1597.8,1275.43 1639.6,1234.18 1680.8,1293.18 1721.3,1361.59" fill="none" stroke="#FDD27A" stroke-width="3" stroke-linejoin="round"/>
<polyline points="1557.3,1404.41 1597.8,1231.04 1639.6,1202.84 1680.8,1244.62 1721.3,1300.5" fill="none" stroke="#000" stroke-width="3" stroke-linejoin="round"/>
<circle cx="1557.3" cy="1404.41" r="6.1" fill="#fff" stroke="#000" stroke-width="1.6"/>
<circle cx="1597.8" cy="1231.04" r="6.1" fill="#fff" stroke="#000" stroke-width="1.6"/>
<circle cx="1639.6" cy="1202.84" r="6.1" fill="#fff" stroke="#000" stroke-width="1.6"/>
<circle cx="1680.8" cy="1244.62" r="6.1" fill="#fff" stroke="#000" stroke-width="1.6"/>
<circle cx="1721.3" cy="1300.5" r="6.1" fill="#fff" stroke="#000" stroke-width="1.6"/>
<circle cx="1557.3" cy="1416.11" r="6.1" fill="#FED27B" stroke="#000" stroke-width="1.6"/>
<circle cx="1597.8" cy="1275.43" r="6.1" fill="#FED27B" stroke="#000" stroke-width="1.6"/>
<circle cx="1639.6" cy="1234.18" r="6.1" fill="#FED27B" stroke="#000" stroke-width="1.6"/>
<circle cx="1680.8" cy="1293.18" r="6.1" fill="#FED27B" stroke="#000" stroke-width="1.6"/>
<circle cx="1721.3" cy="1361.59" r="6.1" fill="#FED27B" stroke="#000" stroke-width="1.6"/>
<line x1="1528.2" y1="1459.7" x2="1528.2" y2="1143.5" stroke="#000" stroke-width="3"/>
<line x1="1516.2" y1="1144.88" x2="1529.7" y2="1144.88" stroke="#000" stroke-width="3"/>
<text x="1510.7" y="1152.62" font-size="21.5" text-anchor="end" fill="#000">600</text>
<line x1="1516.2" y1="1197.1" x2="1529.7" y2="1197.1" stroke="#000" stroke-width="3"/>
<text x="1510.7" y="1204.84" font-size="21.5" text-anchor="end" fill="#000">500</text>
<line x1="1516.2" y1="1249.32" x2="1529.7" y2="1249.32" stroke="#000" stroke-width="3"/>
<text x="1510.7" y="1257.06" font-size="21.5" text-anchor="end" fill="#000">400</text>
<line x1="1516.2" y1="1301.54" x2="1529.7" y2="1301.54" stroke="#000" stroke-width="3"/>
<text x="1510.7" y="1309.28" font-size="21.5" text-anchor="end" fill="#000">300</text>
<line x1="1516.2" y1="1353.76" x2="1529.7" y2="1353.76" stroke="#000" stroke-width="3"/>
<text x="1510.7" y="1361.5" font-size="21.5" text-anchor="end" fill="#000">200</text>
<line x1="1516.2" y1="1405.98" x2="1529.7" y2="1405.98" stroke="#000" stroke-width="3"/>
<text x="1510.7" y="1413.72" font-size="21.5" text-anchor="end" fill="#000">100</text>
<line x1="1516.2" y1="1458.2" x2="1529.7" y2="1458.2" stroke="#000" stroke-width="3"/>
<text x="1510.7" y="1465.94" font-size="21.5" text-anchor="end" fill="#000">0</text>
<line x1="1516.2" y1="1458.2" x2="1749.1" y2="1458.2" stroke="#000" stroke-width="3"/>
<line x1="1557.3" y1="1458.2" x2="1557.3" y2="1471.8" stroke="#000" stroke-width="3"/>
<text x="1557.3" y="1493" font-size="21.5" text-anchor="middle" fill="#000">0</text>
<line x1="1597.8" y1="1458.2" x2="1597.8" y2="1471.8" stroke="#000" stroke-width="3"/>
<text x="1597.8" y="1493" font-size="21.5" text-anchor="middle" fill="#000">15</text>
<line x1="1639.6" y1="1458.2" x2="1639.6" y2="1471.8" stroke="#000" stroke-width="3"/>
<text x="1639.6" y="1493" font-size="21.5" text-anchor="middle" fill="#000">30</text>
<line x1="1680.8" y1="1458.2" x2="1680.8" y2="1471.8" stroke="#000" stroke-width="3"/>
<text x="1680.8" y="1493" font-size="21.5" text-anchor="middle" fill="#000">60</text>
<line x1="1721.3" y1="1458.2" x2="1721.3" y2="1471.8" stroke="#000" stroke-width="3"/>
<text x="1721.3" y="1493" font-size="21.5" text-anchor="middle" fill="#000">120</text>
<text x="1640.6" y="1518.3" font-size="23.3" text-anchor="middle" fill="#000">Time (min)</text>
<text transform="translate(1471.3,1301.5) rotate(-90)" font-size="23.3" text-anchor="middle" fill="#000">Glucose (mg/dL)</text>
<line x1="1911.6" y1="1218.13" x2="1911.6" y2="1256.72" stroke="#000" stroke-width="1.6"/>
<line x1="1911.6" y1="1331.78" x2="1911.6" y2="1339.14" stroke="#000" stroke-width="1.6"/>
<rect x="1902.6" y="1256.72" width="18" height="75.06" fill="#fff" stroke="#000" stroke-width="1.6"/>
<line x1="1902.6" y1="1310.73" x2="1920.6" y2="1310.73" stroke="#000" stroke-width="1.6"/>
<line x1="1940.9" y1="1224.1" x2="1940.9" y2="1318.1" stroke="#000" stroke-width="1.6"/>
<line x1="1940.9" y1="1358.79" x2="1940.9" y2="1406.84" stroke="#000" stroke-width="1.6"/>
<rect x="1931.7" y="1318.1" width="18.4" height="40.69" fill="#FED27B" stroke="#000" stroke-width="1.6"/>
<line x1="1931.7" y1="1343.35" x2="1950.1" y2="1343.35" stroke="#000" stroke-width="1.6"/>
<circle cx="1911.77" cy="1218.61" r="4.4" fill="url(#gw)" stroke="#000" stroke-width="1.5" fill-opacity="0.6"/>
<circle cx="1911.77" cy="1242.34" r="4.4" fill="url(#gw)" stroke="#000" stroke-width="1.5" fill-opacity="0.6"/>
<circle cx="1911.77" cy="1252.47" r="4.4" fill="url(#gw)" stroke="#000" stroke-width="1.5" fill-opacity="0.6"/>
<circle cx="1910.51" cy="1255.63" r="4.4" fill="url(#gw)" stroke="#000" stroke-width="1.5" fill-opacity="0.6"/>
<circle cx="1913.67" cy="1258.8" r="4.4" fill="url(#gw)" stroke="#000" stroke-width="1.5" fill-opacity="0.6"/>
<circle cx="1911.77" cy="1285.7" r="4.4" fill="url(#gw)" stroke="#000" stroke-width="1.5" fill-opacity="0.6"/>
<circle cx="1911.77" cy="1303.1" r="4.4" fill="url(#gw)" stroke="#000" stroke-width="1.5" fill-opacity="0.6"/>
<circle cx="1910.51" cy="1307.22" r="4.4" fill="url(#gw)" stroke="#000" stroke-width="1.5" fill-opacity="0.6"/>
<circle cx="1911.77" cy="1314.18" r="4.4" fill="url(#gw)" stroke="#000" stroke-width="1.5" fill-opacity="0.6"/>
<circle cx="1906.39" cy="1326.84" r="4.4" fill="url(#gw)" stroke="#000" stroke-width="1.5" fill-opacity="0.6"/>
<circle cx="1911.77" cy="1330" r="4.4" fill="url(#gw)" stroke="#000" stroke-width="1.5" fill-opacity="0.6"/>
<circle cx="1915.89" cy="1331.58" r="4.4" fill="url(#gw)" stroke="#000" stroke-width="1.5" fill-opacity="0.6"/>
<circle cx="1907.34" cy="1334.75" r="4.4" fill="url(#gw)" stroke="#000" stroke-width="1.5" fill-opacity="0.6"/>
<circle cx="1913.67" cy="1337.91" r="4.4" fill="url(#gw)" stroke="#000" stroke-width="1.5" fill-opacity="0.6"/>
<circle cx="1904.81" cy="1337.91" r="4.4" fill="url(#gw)" stroke="#000" stroke-width="1.5" fill-opacity="0.6"/>
<circle cx="1917.47" cy="1338.86" r="4.4" fill="url(#gw)" stroke="#000" stroke-width="1.5" fill-opacity="0.6"/>
<circle cx="1941.2" cy="1224.94" r="4.4" fill="url(#go)" stroke="#000" stroke-width="1.5" fill-opacity="0.6"/>
<circle cx="1941.2" cy="1250.89" r="4.4" fill="url(#go)" stroke="#000" stroke-width="1.5" fill-opacity="0.6"/>
<circle cx="1941.2" cy="1284.11" r="4.4" fill="url(#go)" stroke="#000" stroke-width="1.5" fill-opacity="0.6"/>
<circle cx="1943.42" cy="1301.52" r="4.4" fill="url(#go)" stroke="#000" stroke-width="1.5" fill-opacity="0.6"/>
<circle cx="1938.04" cy="1307.85" r="4.4" fill="url(#go)" stroke="#000" stroke-width="1.5" fill-opacity="0.6"/>
<circle cx="1939.62" cy="1320.51" r="4.4" fill="url(#go)" stroke="#000" stroke-width="1.5" fill-opacity="0.6"/>
<circle cx="1944.37" cy="1325.25" r="4.4" fill="url(#go)" stroke="#000" stroke-width="1.5" fill-opacity="0.6"/>
<circle cx="1934.87" cy="1330" r="4.4" fill="url(#go)" stroke="#000" stroke-width="1.5" fill-opacity="0.6"/>
<circle cx="1942.78" cy="1333.16" r="4.4" fill="url(#go)" stroke="#000" stroke-width="1.5" fill-opacity="0.6"/>
<circle cx="1936.46" cy="1339.49" r="4.4" fill="url(#go)" stroke="#000" stroke-width="1.5" fill-opacity="0.6"/>
<circle cx="1945.95" cy="1342.66" r="4.4" fill="url(#go)" stroke="#000" stroke-width="1.5" fill-opacity="0.6"/>
<circle cx="1939.62" cy="1347.41" r="4.4" fill="url(#go)" stroke="#000" stroke-width="1.5" fill-opacity="0.6"/>
<circle cx="1934.87" cy="1352.15" r="4.4" fill="url(#go)" stroke="#000" stroke-width="1.5" fill-opacity="0.6"/>
<circle cx="1942.78" cy="1355.32" r="4.4" fill="url(#go)" stroke="#000" stroke-width="1.5" fill-opacity="0.6"/>
<circle cx="1938.04" cy="1358.48" r="4.4" fill="url(#go)" stroke="#000" stroke-width="1.5" fill-opacity="0.6"/>
<circle cx="1945.95" cy="1360.06" r="4.4" fill="url(#go)" stroke="#000" stroke-width="1.5" fill-opacity="0.6"/>
<circle cx="1939.62" cy="1385.38" r="4.4" fill="url(#go)" stroke="#000" stroke-width="1.5" fill-opacity="0.6"/>
<circle cx="1941.2" cy="1393.92" r="4.4" fill="url(#go)" stroke="#000" stroke-width="1.5" fill-opacity="0.6"/>
<circle cx="1941.2" cy="1405.95" r="4.4" fill="url(#go)" stroke="#000" stroke-width="1.5" fill-opacity="0.6"/>
<line x1="1890.6" y1="1460.6" x2="1890.6" y2="1177.2" stroke="#000" stroke-width="3"/>
<line x1="1877.9" y1="1178.5" x2="1892.1" y2="1178.5" stroke="#000" stroke-width="3"/>
<text x="1873.2" y="1186.24" font-size="21.5" text-anchor="end" fill="#000">80</text>
<line x1="1877.9" y1="1248.65" x2="1892.1" y2="1248.65" stroke="#000" stroke-width="3"/>
<text x="1873.2" y="1256.39" font-size="21.5" text-anchor="end" fill="#000">60</text>
<line x1="1877.9" y1="1318.8" x2="1892.1" y2="1318.8" stroke="#000" stroke-width="3"/>
<text x="1873.2" y="1326.54" font-size="21.5" text-anchor="end" fill="#000">40</text>
<line x1="1877.9" y1="1388.95" x2="1892.1" y2="1388.95" stroke="#000" stroke-width="3"/>
<text x="1873.2" y="1396.69" font-size="21.5" text-anchor="end" fill="#000">20</text>
<line x1="1877.9" y1="1459.1" x2="1892.1" y2="1459.1" stroke="#000" stroke-width="3"/>
<text x="1873.2" y="1466.84" font-size="21.5" text-anchor="end" fill="#000">0</text>
<line x1="1877.9" y1="1459.1" x2="1959.2" y2="1459.1" stroke="#000" stroke-width="3"/>
<line x1="1911.1" y1="1459.1" x2="1911.1" y2="1472.4" stroke="#000" stroke-width="3"/>
<line x1="1940.6" y1="1459.1" x2="1940.6" y2="1472.4" stroke="#000" stroke-width="3"/>
<text x="1890.6" y="1166.1" font-size="18.7" text-anchor="start" fill="#000"><tspan font-style="italic">P</tspan>=0.0146</text>
<line x1="1909.6" y1="1181.9" x2="1951.6" y2="1181.9" stroke="#000" stroke-width="3"/>
<text transform="translate(1840,1318) rotate(-90)" font-size="21.5" text-anchor="middle" fill="#000">AUC (x1000)</text>
<text transform="translate(1915.87,1490.12) rotate(-45)" font-size="21" text-anchor="end" fill="#000">Control</text>
<text transform="translate(1945.95,1493.85) rotate(-45)" font-size="21" text-anchor="end"><tspan font-style="italic">CerS6</tspan><tspan font-size="15.12" dy="-7.56">&#916;Nkx2.1</tspan></text>
</svg>
</body></html>
